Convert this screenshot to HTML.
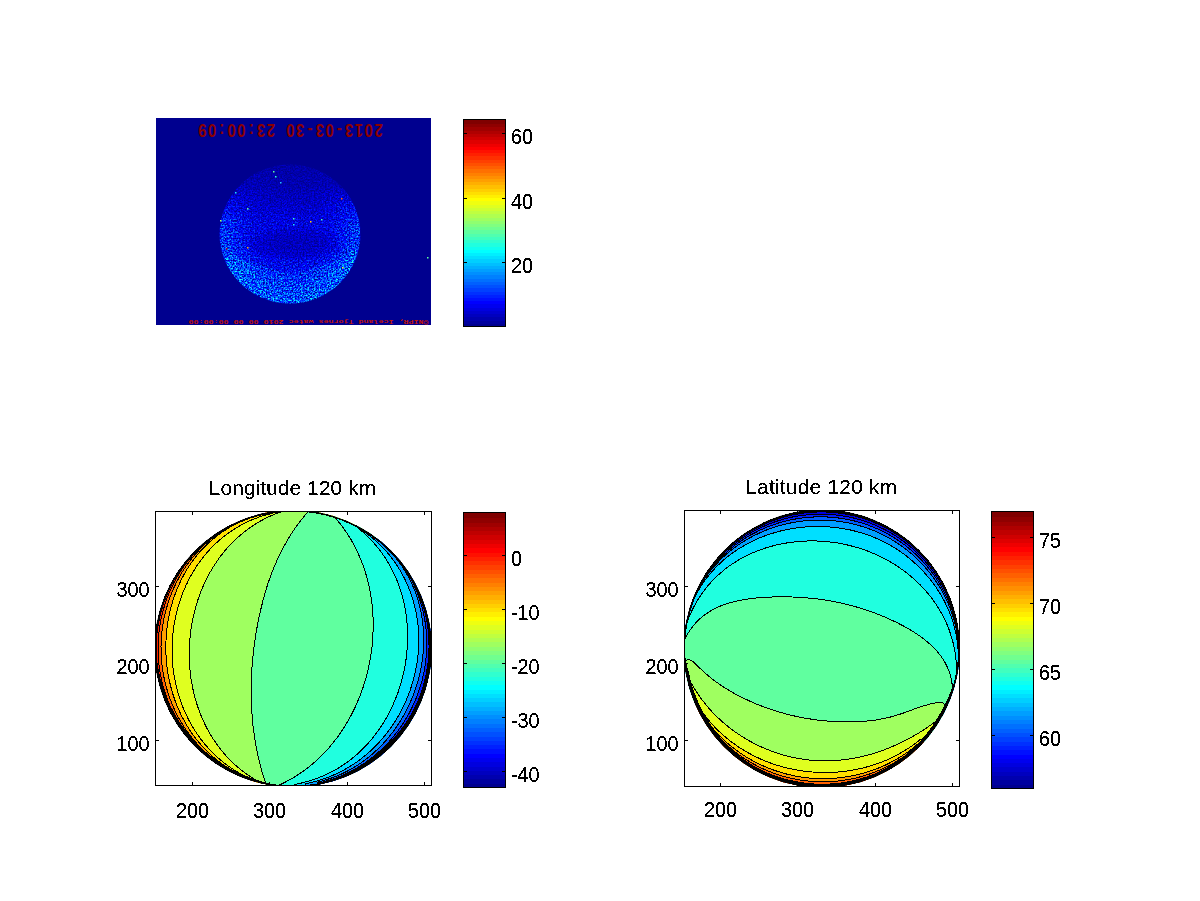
<!DOCTYPE html>
<html><head><meta charset="utf-8"><title>figure</title>
<style>
html,body{margin:0;padding:0;background:#fff;}
svg{display:block}
.t{font-family:"Liberation Sans",sans-serif;font-size:20.8px;fill:#000;}
.ln{fill:none;stroke:#000;stroke-width:1}
</style></head><body>
<svg width="1200" height="901" viewBox="0 0 1200 901">
<defs>
<clipPath id="c1"><ellipse cx="293" cy="648.6" rx="138.6" ry="138.4" /></clipPath>
<clipPath id="r1"><rect x="156" y="512" width="275" height="273"/></clipPath>
<clipPath id="c2"><ellipse cx="821.7" cy="648.6" rx="138" ry="138.9" /></clipPath>
<clipPath id="r2"><rect x="685" y="511" width="274" height="275"/></clipPath>
<clipPath id="cimg"><ellipse cx="290" cy="234" rx="70.5" ry="69.5"/></clipPath>
<linearGradient id="vgrad" x1="0" y1="0" x2="0" y2="1">
<stop offset="0.04" stop-color="#000" stop-opacity="0.92"/><stop offset="0.17" stop-color="#000" stop-opacity="0.8"/><stop offset="0.30" stop-color="#000" stop-opacity="0.45"/><stop offset="0.40" stop-color="#000" stop-opacity="0.15"/><stop offset="0.5" stop-color="#000" stop-opacity="0"/>
<stop offset="0.7" stop-color="#fff" stop-opacity="0.012"/><stop offset="1" stop-color="#fff" stop-opacity="0.025"/>
</linearGradient>
<radialGradient id="rgrad" cx="50%" cy="50%" r="50%">
<stop offset="0.55" stop-color="#fff" stop-opacity="0"/><stop offset="1" stop-color="#fff" stop-opacity="0.075"/>
</radialGradient>
<radialGradient id="darkband" cx="50%" cy="50%" r="50%">
<stop offset="0" stop-color="#000" stop-opacity="0.6"/><stop offset="0.6" stop-color="#000" stop-opacity="0.45"/><stop offset="1" stop-color="#000" stop-opacity="0"/>
</radialGradient>
<linearGradient id="glow" x1="0" y1="0" x2="0" y2="1">
<stop offset="0" stop-color="#fff" stop-opacity="0.0"/><stop offset="0.4" stop-color="#fff" stop-opacity="0.04"/><stop offset="1" stop-color="#fff" stop-opacity="0.02"/>
</linearGradient>
<filter id="crisp" filterUnits="userSpaceOnUse" x="0" y="0" width="1200" height="901" color-interpolation-filters="sRGB">
<feComponentTransfer><feFuncA type="discrete" tableValues="0 0 1 1 1"/></feComponentTransfer>
</filter>
<filter id="jetmap" x="0" y="0" width="100%" height="100%" color-interpolation-filters="sRGB">
<feTurbulence type="fractalNoise" baseFrequency="0.63" numOctaves="2" seed="11" result="n0"/>
<feGaussianBlur in="n0" stdDeviation="0.45" result="n1"/>
<feColorMatrix in="n1" type="matrix" values="2.0 0 0 0 -0.5  2.0 0 0 0 -0.5  2.0 0 0 0 -0.5  0 0 0 0 1" result="n"/>
<feComposite in="SourceGraphic" in2="n" operator="arithmetic" k1="2.0" k2="0.0" k3="0.04" k4="-0.01" result="v"/>
<feComponentTransfer in="v">
<feFuncR type="table" tableValues="0.000 0.000 0.000 0.000 0.000 0.000 0.000 0.000 0.000 0.000 0.000 0.000 0.000 0.000 0.000 0.000 0.000 0.000 0.000 0.000 0.000 0.000 0.000 0.000 0.062 0.125 0.188 0.250 0.312 0.375 0.438 0.500 0.562 0.625 0.688 0.750 0.812 0.875 0.938 1.000 1.000 1.000 1.000 1.000 1.000 1.000 1.000 1.000 1.000 1.000 1.000 1.000 1.000 1.000 1.000 1.000 0.938 0.875 0.812 0.750 0.688 0.625 0.562 0.500"/>
<feFuncG type="table" tableValues="0.000 0.000 0.000 0.000 0.000 0.000 0.000 0.000 0.062 0.125 0.188 0.250 0.312 0.375 0.438 0.500 0.562 0.625 0.688 0.750 0.812 0.875 0.938 1.000 1.000 1.000 1.000 1.000 1.000 1.000 1.000 1.000 1.000 1.000 1.000 1.000 1.000 1.000 1.000 1.000 0.938 0.875 0.812 0.750 0.688 0.625 0.562 0.500 0.438 0.375 0.312 0.250 0.188 0.125 0.062 0.000 0.000 0.000 0.000 0.000 0.000 0.000 0.000 0.000"/>
<feFuncB type="table" tableValues="0.562 0.625 0.688 0.750 0.812 0.875 0.938 1.000 1.000 1.000 1.000 1.000 1.000 1.000 1.000 1.000 1.000 1.000 1.000 1.000 1.000 1.000 1.000 1.000 0.938 0.875 0.812 0.750 0.688 0.625 0.562 0.500 0.438 0.375 0.312 0.250 0.188 0.125 0.062 0.000 0.000 0.000 0.000 0.000 0.000 0.000 0.000 0.000 0.000 0.000 0.000 0.000 0.000 0.000 0.000 0.000 0.000 0.000 0.000 0.000 0.000 0.000 0.000 0.000"/>
<feFuncA type="linear" slope="0" intercept="1"/>
</feComponentTransfer>
</filter>
</defs>
<rect width="1200" height="901" fill="#fff"/>
<!-- top image -->
<rect x="156" y="118" width="275" height="207" fill="#00008F"/>
<g clip-path="url(#cimg)"><g filter="url(#jetmap)">
<rect x="215" y="160" width="150" height="150" fill="#141414"/>
<circle cx="290" cy="234" r="70" fill="url(#rgrad)"/>
<rect x="215" y="160" width="150" height="150" fill="url(#vgrad)"/>
<ellipse cx="294" cy="244" rx="52" ry="19" fill="url(#darkband)"/>
<path d="M218,236 A72,72 0 0 0 362,236 Q348,266 290,272 Q232,266 218,236Z" fill="url(#glow)"/>
</g></g>
<rect x="273" y="171" width="1.5" height="1.5" fill="#5CFFA0"/>
<rect x="275" y="176" width="1.5" height="1.5" fill="#30FFD0"/>
<rect x="235" y="192" width="1.5" height="1.5" fill="#20E0FF"/>
<rect x="247" y="208" width="1.5" height="1.5" fill="#60FFA0"/>
<rect x="341" y="198" width="1.5" height="1.5" fill="#FF6000"/>
<rect x="293" y="218" width="1.5" height="1.5" fill="#40FFC0"/>
<rect x="310" y="221" width="1.5" height="1.5" fill="#FFD000"/>
<rect x="321" y="219" width="1.5" height="1.5" fill="#40FFC0"/>
<rect x="293" y="224" width="1.5" height="1.5" fill="#20E0FF"/>
<rect x="226" y="248" width="1.5" height="1.5" fill="#D00000"/>
<rect x="247" y="247" width="1.5" height="1.5" fill="#FFB000"/>
<rect x="342" y="267" width="1.5" height="1.5" fill="#E0FF20"/>
<rect x="220" y="220" width="1.5" height="1.5" fill="#A0FF60"/>
<rect x="427" y="257" width="1.5" height="1.5" fill="#60FFA0"/>
<rect x="280" y="182" width="1.5" height="1.5" fill="#20C0FF"/>
<g transform="translate(290.4,130.4) rotate(180)" font-family="Liberation Sans, sans-serif" font-weight="bold" font-size="18.6" fill="#8B0000" text-anchor="middle">
<text transform="translate(-88.11,6.8) scale(0.80,1)">2</text>
<text transform="translate(-78.32,6.8) scale(0.80,1)">0</text>
<text transform="translate(-68.53,6.8) scale(0.80,1)">1</text>
<text transform="translate(-58.74,6.8) scale(0.80,1)">3</text>
<text transform="translate(-48.95,6.8) scale(0.80,1)">-</text>
<text transform="translate(-39.16,6.8) scale(0.80,1)">0</text>
<text transform="translate(-29.37,6.8) scale(0.80,1)">3</text>
<text transform="translate(-19.58,6.8) scale(0.80,1)">-</text>
<text transform="translate(-9.79,6.8) scale(0.80,1)">3</text>
<text transform="translate(0.00,6.8) scale(0.80,1)">0</text>
<text transform="translate(19.58,6.8) scale(0.80,1)">2</text>
<text transform="translate(29.37,6.8) scale(0.80,1)">3</text>
<text transform="translate(39.16,6.8) scale(0.80,1)">:</text>
<text transform="translate(48.95,6.8) scale(0.80,1)">0</text>
<text transform="translate(58.74,6.8) scale(0.80,1)">0</text>
<text transform="translate(68.53,6.8) scale(0.80,1)">:</text>
<text transform="translate(78.32,6.8) scale(0.80,1)">0</text>
<text transform="translate(88.11,6.8) scale(0.80,1)">9</text>
</g>
<text transform="translate(308.5,321.3) rotate(180)" text-anchor="middle" dominant-baseline="central" font-family="Liberation Mono, monospace" font-size="6" font-weight="bold" fill="#C81800" textLength="240" lengthAdjust="spacingAndGlyphs">©NIPR, Iceland Tjornes watec 2010 00 00 00:00:00</text>
<!-- colorbar 1 -->
<g shape-rendering="crispEdges">
<rect x="464" y="323" width="41" height="3" fill="#00008F"/>
<rect x="464" y="320" width="41" height="4" fill="#00009F"/>
<rect x="464" y="316" width="41" height="5" fill="#0000AF"/>
<rect x="464" y="313" width="41" height="4" fill="#0000BF"/>
<rect x="464" y="310" width="41" height="4" fill="#0000CF"/>
<rect x="464" y="307" width="41" height="4" fill="#0000DF"/>
<rect x="464" y="303" width="41" height="5" fill="#0000EF"/>
<rect x="464" y="300" width="41" height="4" fill="#0000FF"/>
<rect x="464" y="297" width="41" height="4" fill="#0010FF"/>
<rect x="464" y="294" width="41" height="4" fill="#0020FF"/>
<rect x="464" y="291" width="41" height="4" fill="#0030FF"/>
<rect x="464" y="287" width="41" height="5" fill="#0040FF"/>
<rect x="464" y="284" width="41" height="4" fill="#0050FF"/>
<rect x="464" y="281" width="41" height="4" fill="#0060FF"/>
<rect x="464" y="278" width="41" height="4" fill="#0070FF"/>
<rect x="464" y="274" width="41" height="5" fill="#0080FF"/>
<rect x="464" y="271" width="41" height="4" fill="#008FFF"/>
<rect x="464" y="268" width="41" height="4" fill="#009FFF"/>
<rect x="464" y="265" width="41" height="4" fill="#00AFFF"/>
<rect x="464" y="262" width="41" height="4" fill="#00BFFF"/>
<rect x="464" y="258" width="41" height="5" fill="#00CFFF"/>
<rect x="464" y="255" width="41" height="4" fill="#00DFFF"/>
<rect x="464" y="252" width="41" height="4" fill="#00EFFF"/>
<rect x="464" y="249" width="41" height="4" fill="#00FFFF"/>
<rect x="464" y="246" width="41" height="4" fill="#10FFEF"/>
<rect x="464" y="242" width="41" height="5" fill="#20FFDF"/>
<rect x="464" y="239" width="41" height="4" fill="#30FFCF"/>
<rect x="464" y="236" width="41" height="4" fill="#40FFBF"/>
<rect x="464" y="233" width="41" height="4" fill="#50FFAF"/>
<rect x="464" y="229" width="41" height="5" fill="#60FF9F"/>
<rect x="464" y="226" width="41" height="4" fill="#70FF8F"/>
<rect x="464" y="223" width="41" height="4" fill="#80FF80"/>
<rect x="464" y="220" width="41" height="4" fill="#8FFF70"/>
<rect x="464" y="217" width="41" height="4" fill="#9FFF60"/>
<rect x="464" y="213" width="41" height="5" fill="#AFFF50"/>
<rect x="464" y="210" width="41" height="4" fill="#BFFF40"/>
<rect x="464" y="207" width="41" height="4" fill="#CFFF30"/>
<rect x="464" y="204" width="41" height="4" fill="#DFFF20"/>
<rect x="464" y="200" width="41" height="5" fill="#EFFF10"/>
<rect x="464" y="197" width="41" height="4" fill="#FFFF00"/>
<rect x="464" y="194" width="41" height="4" fill="#FFEF00"/>
<rect x="464" y="191" width="41" height="4" fill="#FFDF00"/>
<rect x="464" y="188" width="41" height="4" fill="#FFCF00"/>
<rect x="464" y="184" width="41" height="5" fill="#FFBF00"/>
<rect x="464" y="181" width="41" height="4" fill="#FFAF00"/>
<rect x="464" y="178" width="41" height="4" fill="#FF9F00"/>
<rect x="464" y="175" width="41" height="4" fill="#FF8F00"/>
<rect x="464" y="172" width="41" height="4" fill="#FF8000"/>
<rect x="464" y="168" width="41" height="5" fill="#FF7000"/>
<rect x="464" y="165" width="41" height="4" fill="#FF6000"/>
<rect x="464" y="162" width="41" height="4" fill="#FF5000"/>
<rect x="464" y="159" width="41" height="4" fill="#FF4000"/>
<rect x="464" y="155" width="41" height="5" fill="#FF3000"/>
<rect x="464" y="152" width="41" height="4" fill="#FF2000"/>
<rect x="464" y="149" width="41" height="4" fill="#FF1000"/>
<rect x="464" y="146" width="41" height="4" fill="#FF0000"/>
<rect x="464" y="143" width="41" height="4" fill="#EF0000"/>
<rect x="464" y="139" width="41" height="5" fill="#DF0000"/>
<rect x="464" y="136" width="41" height="4" fill="#CF0000"/>
<rect x="464" y="133" width="41" height="4" fill="#BF0000"/>
<rect x="464" y="130" width="41" height="4" fill="#AF0000"/>
<rect x="464" y="126" width="41" height="5" fill="#9F0000"/>
<rect x="464" y="123" width="41" height="4" fill="#8F0000"/>
<rect x="464" y="120" width="41" height="4" fill="#800000"/>
<rect x="463.5" y="119.5" width="42" height="207" fill="none" stroke="#000" stroke-width="1"/>
<rect x="464" y="133" width="3" height="1" fill="#000"/>
<rect x="502" y="133" width="3" height="1" fill="#000"/>
<rect x="464" y="198" width="3" height="1" fill="#000"/>
<rect x="502" y="198" width="3" height="1" fill="#000"/>
<rect x="464" y="262" width="3" height="1" fill="#000"/>
<rect x="502" y="262" width="3" height="1" fill="#000"/>
</g>
<g filter="url(#crisp)"><text transform="translate(511,144) scale(0.95,1.05)" class="t" text-anchor="start">60</text></g>
<g filter="url(#crisp)"><text transform="translate(511,209) scale(0.95,1.05)" class="t" text-anchor="start">40</text></g>
<g filter="url(#crisp)"><text transform="translate(511,273) scale(0.95,1.05)" class="t" text-anchor="start">20</text></g>
<!-- longitude plot -->
<g clip-path="url(#r1)"><g clip-path="url(#c1)" shape-rendering="crispEdges">
<ellipse cx="293" cy="648.6" rx="138.6" ry="138.4" fill="#9F0000"/>
<path d="M262.2,508.0 L263.4,513.4 L260.0,514.2 L256.5,515.1 L253.2,516.1 L249.9,517.1 L246.7,518.2 L243.5,519.4 L240.4,520.7 L237.3,522.0 L234.3,523.3 L231.3,524.8 L228.4,526.3 L225.5,527.8 L222.7,529.5 L219.9,531.1 L217.2,532.9 L214.6,534.7 L211.9,536.5 L209.4,538.5 L206.8,540.4 L204.4,542.5 L202.0,544.5 L199.6,546.7 L197.3,548.9 L195.0,551.1 L192.8,553.4 L190.6,555.8 L188.5,558.2 L186.4,560.7 L184.4,563.2 L182.5,565.7 L180.6,568.4 L178.7,571.0 L176.9,573.7 L175.2,576.5 L173.5,579.3 L171.9,582.2 L170.4,585.1 L168.9,588.1 L167.5,591.1 L166.2,594.1 L164.9,597.2 L163.7,600.3 L162.6,603.5 L161.5,606.7 L160.6,609.9 L159.7,613.2 L158.8,616.4 L158.1,619.8 L157.4,623.1 L156.8,626.5 L156.3,629.9 L155.9,633.2 L155.6,636.7 L155.3,640.1 L155.2,643.5 L155.1,647.0 L155.1,650.4 L155.2,653.8 L155.4,657.3 L155.6,660.7 L156.0,664.1 L156.4,667.5 L156.9,670.9 L157.5,674.3 L158.2,677.7 L158.9,681.0 L159.8,684.3 L160.7,687.6 L161.7,690.9 L162.8,694.1 L163.9,697.3 L165.1,700.4 L166.4,703.6 L167.8,706.6 L169.2,709.7 L170.8,712.7 L172.3,715.6 L174.0,718.5 L175.7,721.4 L177.5,724.2 L179.3,726.9 L181.2,729.6 L183.2,732.3 L185.2,734.9 L187.2,737.4 L189.4,739.9 L191.5,742.4 L193.8,744.7 L196.1,747.1 L198.4,749.3 L200.8,751.5 L203.2,753.7 L205.7,755.8 L208.2,757.8 L210.8,759.8 L213.5,761.7 L216.1,763.5 L218.8,765.3 L221.6,767.0 L224.4,768.7 L227.3,770.3 L230.2,771.8 L233.1,773.3 L236.1,774.7 L239.2,776.0 L242.2,777.3 L245.4,778.5 L248.5,779.6 L251.8,780.7 L250.1,786.0 L250.1,786.0 L257.5,788.1 L264.9,789.8 L272.4,791.1 L280.0,792.0 L287.7,792.4 L295.3,792.5 L302.9,792.2 L310.5,791.5 L318.1,790.3 L325.6,788.8 L333.0,786.9 L340.3,784.6 L347.4,781.9 L354.4,778.8 L361.2,775.4 L367.9,771.6 L374.3,767.5 L380.5,763.0 L386.4,758.2 L392.1,753.1 L397.5,747.7 L402.7,742.0 L407.5,736.1 L411.9,729.9 L416.1,723.5 L419.9,716.9 L423.3,710.1 L426.4,703.1 L429.1,695.9 L431.4,688.7 L433.4,681.3 L434.9,673.8 L436.1,666.3 L436.8,658.7 L437.1,651.0 L437.1,643.4 L436.6,635.8 L435.7,628.2 L434.4,620.7 L432.7,613.2 L430.7,605.9 L428.2,598.7 L425.4,591.6 L422.1,584.7 L418.6,577.9 L414.6,571.4 L410.4,565.0 L405.8,559.0 L400.9,553.1 L395.6,547.5 L390.1,542.2 L384.3,537.3 L378.3,532.6 L372.0,528.2 L365.5,524.2 L358.8,520.5 L351.9,517.2 L344.9,514.3 L337.7,511.8 L330.3,509.6 L322.9,507.8 L315.4,506.4 L307.8,505.4 L300.2,504.8 L292.6,504.7 L284.9,504.9 L277.3,505.5 L269.7,506.6 L262.2,508.0Z" fill="#DF0000"/>
<path d="M262.2,508.0 L263.4,513.5 L260.0,514.3 L256.6,515.2 L253.2,516.2 L249.9,517.2 L246.7,518.3 L243.5,519.5 L240.4,520.8 L237.3,522.1 L234.3,523.5 L231.4,524.9 L228.5,526.4 L225.6,528.0 L222.8,529.6 L220.1,531.3 L217.3,533.1 L214.7,534.9 L212.1,536.8 L209.5,538.7 L207.0,540.7 L204.6,542.7 L202.2,544.8 L199.9,547.0 L197.6,549.2 L195.3,551.4 L193.1,553.8 L191.0,556.1 L188.9,558.5 L186.9,561.0 L184.9,563.5 L182.9,566.1 L181.1,568.7 L179.3,571.4 L177.5,574.1 L175.8,576.9 L174.2,579.7 L172.6,582.6 L171.1,585.5 L169.7,588.4 L168.3,591.4 L167.0,594.5 L165.8,597.5 L164.6,600.6 L163.5,603.8 L162.5,607.0 L161.5,610.2 L160.7,613.4 L159.9,616.7 L159.1,620.0 L158.5,623.3 L157.9,626.6 L157.4,630.0 L157.0,633.4 L156.7,636.8 L156.5,640.2 L156.3,643.6 L156.2,647.0 L156.2,650.4 L156.3,653.8 L156.5,657.2 L156.8,660.6 L157.1,664.0 L157.5,667.4 L158.0,670.8 L158.6,674.1 L159.3,677.4 L160.0,680.8 L160.8,684.0 L161.7,687.3 L162.7,690.5 L163.7,693.8 L164.9,696.9 L166.1,700.1 L167.3,703.2 L168.7,706.2 L170.1,709.3 L171.6,712.2 L173.1,715.2 L174.7,718.1 L176.4,720.9 L178.1,723.7 L179.9,726.5 L181.8,729.2 L183.7,731.8 L185.7,734.5 L187.8,737.0 L189.8,739.5 L192.0,741.9 L194.2,744.3 L196.5,746.7 L198.8,748.9 L201.1,751.2 L203.5,753.3 L206.0,755.4 L208.5,757.5 L211.1,759.4 L213.7,761.4 L216.3,763.2 L219.0,765.0 L221.8,766.8 L224.6,768.4 L227.4,770.1 L230.3,771.6 L233.2,773.1 L236.2,774.5 L239.2,775.9 L242.3,777.1 L245.4,778.4 L248.6,779.5 L251.8,780.6 L250.1,786.0 L250.1,786.0 L257.5,788.1 L264.9,789.8 L272.4,791.1 L280.0,792.0 L287.7,792.4 L295.3,792.5 L302.9,792.2 L310.5,791.5 L318.1,790.3 L325.6,788.8 L333.0,786.9 L340.3,784.6 L347.4,781.9 L354.4,778.8 L361.2,775.4 L367.9,771.6 L374.3,767.5 L380.5,763.0 L386.4,758.2 L392.1,753.1 L397.5,747.7 L402.7,742.0 L407.5,736.1 L411.9,729.9 L416.1,723.5 L419.9,716.9 L423.3,710.1 L426.4,703.1 L429.1,695.9 L431.4,688.7 L433.4,681.3 L434.9,673.8 L436.1,666.3 L436.8,658.7 L437.1,651.0 L437.1,643.4 L436.6,635.8 L435.7,628.2 L434.4,620.7 L432.7,613.2 L430.7,605.9 L428.2,598.7 L425.4,591.6 L422.1,584.7 L418.6,577.9 L414.6,571.4 L410.4,565.0 L405.8,559.0 L400.9,553.1 L395.6,547.5 L390.1,542.2 L384.3,537.3 L378.3,532.6 L372.0,528.2 L365.5,524.2 L358.8,520.5 L351.9,517.2 L344.9,514.3 L337.7,511.8 L330.3,509.6 L322.9,507.8 L315.4,506.4 L307.8,505.4 L300.2,504.8 L292.6,504.7 L284.9,504.9 L277.3,505.5 L269.7,506.6 L262.2,508.0Z" fill="#FF2000"/>
<path d="M262.2,508.0 L263.5,513.6 L260.0,514.5 L256.6,515.4 L253.3,516.3 L250.0,517.4 L246.8,518.5 L243.6,519.7 L240.5,521.0 L237.4,522.3 L234.4,523.7 L231.5,525.1 L228.6,526.7 L225.8,528.3 L223.0,529.9 L220.2,531.6 L217.6,533.4 L214.9,535.2 L212.4,537.1 L209.8,539.1 L207.4,541.1 L205.0,543.2 L202.6,545.3 L200.3,547.4 L198.0,549.7 L195.8,551.9 L193.7,554.3 L191.6,556.7 L189.5,559.1 L187.5,561.6 L185.6,564.1 L183.7,566.7 L181.9,569.3 L180.2,572.0 L178.5,574.7 L176.8,577.5 L175.3,580.3 L173.7,583.2 L172.3,586.1 L170.9,589.0 L169.6,592.0 L168.3,595.0 L167.1,598.1 L166.0,601.2 L165.0,604.3 L164.0,607.5 L163.1,610.6 L162.3,613.8 L161.5,617.1 L160.8,620.3 L160.2,623.6 L159.7,626.9 L159.2,630.2 L158.8,633.6 L158.5,636.9 L158.3,640.3 L158.1,643.6 L158.1,647.0 L158.1,650.4 L158.2,653.7 L158.3,657.1 L158.6,660.4 L158.9,663.8 L159.3,667.1 L159.8,670.5 L160.3,673.8 L161.0,677.1 L161.7,680.3 L162.5,683.6 L163.3,686.8 L164.3,690.0 L165.3,693.2 L166.4,696.4 L167.5,699.5 L168.8,702.5 L170.0,705.6 L171.4,708.6 L172.8,711.6 L174.3,714.5 L175.9,717.4 L177.5,720.2 L179.2,723.0 L181.0,725.8 L182.8,728.5 L184.7,731.1 L186.6,733.8 L188.6,736.3 L190.6,738.8 L192.7,741.3 L194.9,743.7 L197.1,746.0 L199.3,748.3 L201.7,750.6 L204.0,752.7 L206.4,754.9 L208.9,756.9 L211.4,758.9 L214.0,760.9 L216.6,762.8 L219.3,764.6 L222.0,766.4 L224.8,768.1 L227.6,769.7 L230.4,771.3 L233.4,772.8 L236.3,774.2 L239.3,775.6 L242.4,776.9 L245.5,778.2 L248.6,779.3 L251.9,780.4 L250.1,786.0 L250.1,786.0 L257.5,788.1 L264.9,789.8 L272.4,791.1 L280.0,792.0 L287.7,792.4 L295.3,792.5 L302.9,792.2 L310.5,791.5 L318.1,790.3 L325.6,788.8 L333.0,786.9 L340.3,784.6 L347.4,781.9 L354.4,778.8 L361.2,775.4 L367.9,771.6 L374.3,767.5 L380.5,763.0 L386.4,758.2 L392.1,753.1 L397.5,747.7 L402.7,742.0 L407.5,736.1 L411.9,729.9 L416.1,723.5 L419.9,716.9 L423.3,710.1 L426.4,703.1 L429.1,695.9 L431.4,688.7 L433.4,681.3 L434.9,673.8 L436.1,666.3 L436.8,658.7 L437.1,651.0 L437.1,643.4 L436.6,635.8 L435.7,628.2 L434.4,620.7 L432.7,613.2 L430.7,605.9 L428.2,598.7 L425.4,591.6 L422.1,584.7 L418.6,577.9 L414.6,571.4 L410.4,565.0 L405.8,559.0 L400.9,553.1 L395.6,547.5 L390.1,542.2 L384.3,537.3 L378.3,532.6 L372.0,528.2 L365.5,524.2 L358.8,520.5 L351.9,517.2 L344.9,514.3 L337.7,511.8 L330.3,509.6 L322.9,507.8 L315.4,506.4 L307.8,505.4 L300.2,504.8 L292.6,504.7 L284.9,504.9 L277.3,505.5 L269.7,506.6 L262.2,508.0Z" fill="#FF6000"/>
<path d="M262.2,508.0 L263.5,513.9 L260.1,514.7 L256.7,515.6 L253.3,516.6 L250.1,517.6 L246.9,518.8 L243.7,520.0 L240.6,521.3 L237.6,522.6 L234.6,524.0 L231.7,525.5 L228.8,527.1 L226.0,528.7 L223.2,530.4 L220.5,532.1 L217.9,533.9 L215.3,535.8 L212.8,537.7 L210.3,539.7 L207.9,541.7 L205.5,543.8 L203.2,546.0 L201.0,548.2 L198.8,550.5 L196.6,552.8 L194.6,555.1 L192.5,557.5 L190.6,560.0 L188.7,562.5 L186.8,565.1 L185.0,567.7 L183.3,570.3 L181.6,573.0 L180.0,575.7 L178.5,578.5 L177.0,581.3 L175.6,584.2 L174.2,587.1 L172.9,590.0 L171.7,593.0 L170.5,596.0 L169.4,599.0 L168.3,602.0 L167.4,605.1 L166.5,608.2 L165.6,611.4 L164.8,614.5 L164.1,617.7 L163.5,620.9 L163.0,624.1 L162.5,627.4 L162.0,630.6 L161.7,633.9 L161.4,637.2 L161.2,640.4 L161.1,643.7 L161.0,647.0 L161.1,650.3 L161.1,653.6 L161.3,656.9 L161.5,660.2 L161.8,663.5 L162.2,666.7 L162.7,670.0 L163.2,673.2 L163.8,676.5 L164.5,679.7 L165.2,682.9 L166.0,686.0 L166.9,689.2 L167.8,692.3 L168.8,695.4 L169.9,698.5 L171.1,701.5 L172.3,704.6 L173.6,707.5 L174.9,710.5 L176.3,713.4 L177.8,716.3 L179.4,719.1 L181.0,721.9 L182.6,724.6 L184.4,727.3 L186.1,730.0 L188.0,732.6 L189.9,735.2 L191.9,737.7 L193.9,740.2 L196.0,742.6 L198.1,745.0 L200.3,747.3 L202.5,749.6 L204.8,751.8 L207.2,754.0 L209.6,756.1 L212.0,758.1 L214.5,760.1 L217.1,762.0 L219.7,763.9 L222.4,765.7 L225.1,767.5 L227.9,769.1 L230.7,770.8 L233.6,772.3 L236.5,773.8 L239.5,775.2 L242.5,776.6 L245.6,777.8 L248.7,779.0 L251.9,780.2 L250.1,786.0 L250.1,786.0 L257.5,788.1 L264.9,789.8 L272.4,791.1 L280.0,792.0 L287.7,792.4 L295.3,792.5 L302.9,792.2 L310.5,791.5 L318.1,790.3 L325.6,788.8 L333.0,786.9 L340.3,784.6 L347.4,781.9 L354.4,778.8 L361.2,775.4 L367.9,771.6 L374.3,767.5 L380.5,763.0 L386.4,758.2 L392.1,753.1 L397.5,747.7 L402.7,742.0 L407.5,736.1 L411.9,729.9 L416.1,723.5 L419.9,716.9 L423.3,710.1 L426.4,703.1 L429.1,695.9 L431.4,688.7 L433.4,681.3 L434.9,673.8 L436.1,666.3 L436.8,658.7 L437.1,651.0 L437.1,643.4 L436.6,635.8 L435.7,628.2 L434.4,620.7 L432.7,613.2 L430.7,605.9 L428.2,598.7 L425.4,591.6 L422.1,584.7 L418.6,577.9 L414.6,571.4 L410.4,565.0 L405.8,559.0 L400.9,553.1 L395.6,547.5 L390.1,542.2 L384.3,537.3 L378.3,532.6 L372.0,528.2 L365.5,524.2 L358.8,520.5 L351.9,517.2 L344.9,514.3 L337.7,511.8 L330.3,509.6 L322.9,507.8 L315.4,506.4 L307.8,505.4 L300.2,504.8 L292.6,504.7 L284.9,504.9 L277.3,505.5 L269.7,506.6 L262.2,508.0Z" fill="#FF9F00"/>
<path d="M262.2,508.0 L263.6,514.2 L260.1,515.0 L256.8,516.0 L253.5,517.0 L250.2,518.0 L247.0,519.2 L243.9,520.4 L240.8,521.7 L237.8,523.1 L234.9,524.6 L232.0,526.1 L229.1,527.7 L226.4,529.4 L223.7,531.1 L221.0,532.9 L218.5,534.8 L215.9,536.7 L213.5,538.7 L211.1,540.7 L208.7,542.8 L206.5,545.0 L204.3,547.2 L202.1,549.4 L200.0,551.7 L198.0,554.1 L196.0,556.5 L194.1,559.0 L192.3,561.5 L190.5,564.0 L188.8,566.6 L187.1,569.2 L185.5,571.9 L184.0,574.6 L182.5,577.4 L181.1,580.1 L179.8,582.9 L178.5,585.8 L177.2,588.7 L176.1,591.6 L175.0,594.5 L173.9,597.4 L173.0,600.4 L172.1,603.4 L171.2,606.5 L170.4,609.5 L169.7,612.6 L169.0,615.7 L168.4,618.7 L167.9,621.9 L167.4,625.0 L167.0,628.1 L166.7,631.3 L166.4,634.4 L166.1,637.6 L166.0,640.7 L165.9,643.9 L165.8,647.1 L165.9,650.3 L165.9,653.4 L166.1,656.6 L166.3,659.8 L166.6,662.9 L166.9,666.1 L167.3,669.2 L167.8,672.4 L168.3,675.5 L168.9,678.6 L169.6,681.7 L170.3,684.8 L171.1,687.8 L171.9,690.9 L172.8,693.9 L173.8,696.9 L174.8,699.9 L175.9,702.9 L177.1,705.8 L178.3,708.7 L179.6,711.6 L180.9,714.4 L182.3,717.3 L183.8,720.0 L185.3,722.8 L186.9,725.5 L188.6,728.2 L190.3,730.8 L192.0,733.4 L193.9,735.9 L195.8,738.5 L197.7,740.9 L199.7,743.3 L201.8,745.7 L203.9,748.0 L206.1,750.3 L208.3,752.5 L210.7,754.7 L213.0,756.8 L215.4,758.9 L217.9,760.8 L220.4,762.8 L223.0,764.7 L225.7,766.5 L228.4,768.2 L231.2,769.9 L234.0,771.5 L236.8,773.1 L239.8,774.5 L242.8,776.0 L245.8,777.3 L248.9,778.6 L252.1,779.7 L250.1,786.0 L250.1,786.0 L257.5,788.1 L264.9,789.8 L272.4,791.1 L280.0,792.0 L287.7,792.4 L295.3,792.5 L302.9,792.2 L310.5,791.5 L318.1,790.3 L325.6,788.8 L333.0,786.9 L340.3,784.6 L347.4,781.9 L354.4,778.8 L361.2,775.4 L367.9,771.6 L374.3,767.5 L380.5,763.0 L386.4,758.2 L392.1,753.1 L397.5,747.7 L402.7,742.0 L407.5,736.1 L411.9,729.9 L416.1,723.5 L419.9,716.9 L423.3,710.1 L426.4,703.1 L429.1,695.9 L431.4,688.7 L433.4,681.3 L434.9,673.8 L436.1,666.3 L436.8,658.7 L437.1,651.0 L437.1,643.4 L436.6,635.8 L435.7,628.2 L434.4,620.7 L432.7,613.2 L430.7,605.9 L428.2,598.7 L425.4,591.6 L422.1,584.7 L418.6,577.9 L414.6,571.4 L410.4,565.0 L405.8,559.0 L400.9,553.1 L395.6,547.5 L390.1,542.2 L384.3,537.3 L378.3,532.6 L372.0,528.2 L365.5,524.2 L358.8,520.5 L351.9,517.2 L344.9,514.3 L337.7,511.8 L330.3,509.6 L322.9,507.8 L315.4,506.4 L307.8,505.4 L300.2,504.8 L292.6,504.7 L284.9,504.9 L277.3,505.5 L269.7,506.6 L262.2,508.0Z" fill="#FFDF00"/>
<path d="M273.8,505.9 L274.7,512.6 L271.3,513.4 L267.9,514.3 L264.5,515.3 L261.3,516.3 L258.0,517.5 L254.9,518.7 L251.8,519.9 L248.7,521.3 L245.7,522.7 L242.8,524.2 L239.9,525.8 L237.1,527.4 L234.3,529.1 L231.6,530.9 L229.0,532.7 L226.4,534.6 L223.8,536.5 L221.4,538.5 L219.0,540.6 L216.6,542.7 L214.3,544.9 L212.1,547.1 L209.9,549.4 L207.8,551.8 L205.7,554.1 L203.7,556.6 L201.8,559.1 L199.9,561.6 L198.1,564.1 L196.3,566.7 L194.6,569.4 L193.0,572.1 L191.4,574.8 L189.9,577.6 L188.5,580.4 L187.1,583.2 L185.7,586.0 L184.5,588.9 L183.2,591.8 L182.1,594.8 L181.0,597.8 L180.0,600.8 L179.0,603.8 L178.1,606.8 L177.3,609.9 L176.5,613.0 L175.8,616.1 L175.1,619.2 L174.5,622.3 L174.0,625.4 L173.5,628.6 L173.1,631.7 L172.8,634.9 L172.5,638.1 L172.3,641.3 L172.2,644.4 L172.1,647.6 L172.1,650.8 L172.1,654.0 L172.2,657.2 L172.4,660.4 L172.6,663.6 L172.9,666.7 L173.3,669.9 L173.7,673.1 L174.2,676.2 L174.8,679.3 L175.4,682.5 L176.1,685.6 L176.8,688.7 L177.7,691.7 L178.5,694.8 L179.5,697.8 L180.5,700.8 L181.6,703.8 L182.7,706.8 L184.0,709.7 L185.2,712.6 L186.6,715.5 L188.0,718.4 L189.4,721.2 L191.0,724.0 L192.5,726.7 L194.2,729.4 L195.9,732.1 L197.7,734.7 L199.5,737.3 L201.4,739.9 L203.4,742.4 L205.4,744.8 L207.5,747.2 L209.6,749.6 L211.8,751.9 L214.1,754.1 L216.4,756.3 L218.8,758.5 L221.2,760.6 L223.7,762.6 L226.3,764.6 L228.9,766.5 L231.6,768.3 L234.3,770.1 L237.1,771.8 L239.9,773.4 L242.8,775.0 L245.8,776.5 L248.8,778.0 L251.8,779.3 L255.0,780.6 L253.1,786.9 L253.1,786.9 L260.3,788.8 L267.6,790.3 L274.9,791.4 L282.3,792.1 L289.8,792.5 L297.2,792.5 L304.6,792.1 L312.0,791.3 L319.3,790.1 L326.6,788.6 L333.8,786.7 L340.8,784.4 L347.8,781.7 L354.6,778.8 L361.2,775.4 L367.6,771.7 L373.9,767.7 L379.9,763.4 L385.7,758.8 L391.3,753.9 L396.6,748.7 L401.6,743.2 L406.4,737.5 L410.8,731.6 L414.9,725.4 L418.7,719.0 L422.2,712.5 L425.3,705.7 L428.1,698.9 L430.5,691.8 L432.5,684.7 L434.2,677.5 L435.5,670.2 L436.4,662.8 L437.0,655.4 L437.1,648.0 L436.9,640.6 L436.3,633.2 L435.3,625.9 L434.0,618.6 L432.2,611.4 L430.1,604.3 L427.7,597.3 L424.8,590.4 L421.7,583.7 L418.1,577.2 L414.3,570.8 L410.1,564.7 L405.6,558.8 L400.9,553.1 L395.8,547.7 L390.5,542.5 L384.9,537.7 L379.0,533.1 L372.9,528.8 L366.7,524.9 L360.2,521.2 L353.5,518.0 L346.7,515.0 L339.7,512.4 L332.7,510.2 L325.5,508.4 L318.2,506.9 L310.8,505.8 L303.5,505.0 L296.0,504.7 L288.6,504.7 L281.2,505.1 L273.8,505.9Z" fill="#DFFF20"/>
<path d="M280.9,505.2 L281.5,511.7 L278.4,512.8 L275.4,513.9 L272.4,515.2 L269.5,516.5 L266.6,517.8 L263.8,519.3 L261.1,520.7 L258.4,522.3 L255.7,523.9 L253.1,525.6 L250.5,527.3 L248.0,529.1 L245.5,530.9 L243.1,532.8 L240.8,534.8 L238.5,536.8 L236.2,538.8 L234.0,540.9 L231.9,543.1 L229.8,545.3 L227.7,547.5 L225.7,549.8 L223.8,552.1 L221.9,554.5 L220.1,556.9 L218.3,559.3 L216.6,561.8 L214.9,564.4 L213.2,566.9 L211.7,569.5 L210.1,572.2 L208.7,574.8 L207.3,577.5 L205.9,580.2 L204.6,583.0 L203.3,585.8 L202.1,588.6 L201.0,591.4 L199.9,594.3 L198.8,597.2 L197.8,600.1 L196.9,603.0 L196.0,606.0 L195.2,608.9 L194.4,611.9 L193.7,614.9 L193.0,617.9 L192.4,620.9 L191.8,624.0 L191.3,627.0 L190.9,630.1 L190.5,633.1 L190.2,636.2 L189.9,639.3 L189.6,642.4 L189.5,645.4 L189.3,648.5 L189.3,651.6 L189.3,654.7 L189.3,657.8 L189.4,660.9 L189.5,664.0 L189.8,667.1 L190.0,670.1 L190.3,673.2 L190.7,676.3 L191.1,679.3 L191.6,682.3 L192.2,685.4 L192.8,688.4 L193.4,691.4 L194.1,694.4 L194.9,697.3 L195.7,700.3 L196.6,703.2 L197.5,706.1 L198.5,709.0 L199.6,711.9 L200.7,714.7 L201.8,717.5 L203.1,720.3 L204.3,723.0 L205.7,725.8 L207.0,728.5 L208.5,731.1 L210.0,733.8 L211.6,736.4 L213.2,739.0 L214.9,741.5 L216.6,744.0 L218.4,746.4 L220.2,748.9 L222.1,751.2 L224.1,753.6 L226.1,755.9 L228.2,758.1 L230.3,760.3 L232.5,762.4 L234.8,764.6 L237.1,766.6 L239.5,768.6 L241.9,770.6 L244.4,772.5 L246.9,774.3 L249.6,776.1 L252.2,777.8 L254.9,779.5 L257.7,781.1 L260.6,782.7 L259.2,788.5 L259.2,788.5 L266.2,790.0 L273.4,791.2 L280.6,792.0 L287.8,792.4 L295.0,792.5 L302.2,792.2 L309.4,791.6 L316.6,790.6 L323.7,789.2 L330.7,787.5 L337.7,785.5 L344.5,783.0 L351.2,780.3 L357.7,777.2 L364.1,773.8 L370.3,770.1 L376.3,766.1 L382.1,761.8 L387.7,757.2 L393.0,752.3 L398.1,747.1 L402.9,741.7 L407.4,736.1 L411.7,730.3 L415.6,724.2 L419.3,718.0 L422.6,711.6 L425.6,705.0 L428.3,698.3 L430.6,691.5 L432.6,684.5 L434.2,677.5 L435.5,670.4 L436.4,663.2 L437.0,656.0 L437.1,648.8 L437.0,641.6 L436.4,634.4 L435.5,627.2 L434.3,620.1 L432.7,613.0 L430.7,606.1 L428.4,599.3 L425.8,592.5 L422.8,586.0 L419.5,579.5 L415.8,573.3 L411.9,567.2 L407.7,561.4 L403.1,555.7 L398.3,550.3 L393.3,545.2 L387.9,540.3 L382.4,535.7 L376.6,531.3 L370.6,527.3 L364.4,523.6 L358.0,520.2 L351.5,517.1 L344.8,514.3 L338.0,511.9 L331.1,509.8 L324.1,508.0 L317.0,506.7 L309.8,505.6 L302.6,505.0 L295.4,504.7 L288.2,504.7 L280.9,505.2Z" fill="#9FFF60"/>
<path d="M309.3,505.6 L308.6,511.2 L306.2,513.9 L303.8,516.7 L301.5,519.6 L299.3,522.4 L297.1,525.4 L295.0,528.3 L293.0,531.3 L291.0,534.3 L289.1,537.4 L287.3,540.4 L285.5,543.6 L283.7,546.7 L282.0,549.9 L280.4,553.1 L278.9,556.3 L277.3,559.6 L275.9,562.9 L274.5,566.2 L273.1,569.6 L271.8,572.9 L270.5,576.3 L269.3,579.7 L268.1,583.1 L267.0,586.6 L265.9,590.1 L264.9,593.5 L263.9,597.0 L263.0,600.5 L262.1,604.1 L261.2,607.6 L260.4,611.2 L259.6,614.8 L258.8,618.3 L258.1,621.9 L257.4,625.5 L256.7,629.1 L256.1,632.7 L255.5,636.4 L255.0,640.0 L254.5,643.6 L254.0,647.3 L253.5,650.9 L253.1,654.6 L252.8,658.2 L252.4,661.9 L252.1,665.5 L251.9,669.2 L251.7,672.8 L251.5,676.5 L251.4,680.1 L251.3,683.8 L251.2,687.5 L251.2,691.1 L251.2,694.8 L251.3,698.4 L251.4,702.1 L251.5,705.7 L251.7,709.3 L251.9,713.0 L252.2,716.6 L252.5,720.2 L252.8,723.8 L253.2,727.4 L253.7,731.0 L254.2,734.6 L254.7,738.2 L255.3,741.7 L255.9,745.3 L256.5,748.8 L257.3,752.4 L258.0,755.9 L258.8,759.4 L259.7,762.9 L260.5,766.3 L261.5,769.8 L262.5,773.2 L263.5,776.6 L264.6,780.1 L265.7,783.4 L264.5,789.7 L264.5,789.7 L271.1,790.9 L277.8,791.7 L284.5,792.3 L291.2,792.5 L298.0,792.5 L304.7,792.1 L311.4,791.4 L318.1,790.3 L324.7,789.0 L331.2,787.4 L337.7,785.4 L344.0,783.2 L350.3,780.7 L356.4,777.9 L362.4,774.8 L368.2,771.4 L373.9,767.7 L379.4,763.8 L384.7,759.7 L389.8,755.3 L394.7,750.6 L399.4,745.8 L403.8,740.7 L408.0,735.4 L411.9,729.9 L415.6,724.3 L419.0,718.5 L422.1,712.5 L425.0,706.4 L427.6,700.2 L429.8,693.9 L431.8,687.4 L433.5,680.9 L434.8,674.3 L435.9,667.7 L436.6,661.0 L437.0,654.2 L437.1,647.5 L436.9,640.8 L436.4,634.1 L435.6,627.4 L434.4,620.8 L433.0,614.2 L431.2,607.7 L429.1,601.3 L426.8,595.0 L424.1,588.8 L421.2,582.7 L417.9,576.8 L414.4,571.1 L410.7,565.5 L406.7,560.1 L402.4,554.9 L397.9,549.9 L393.1,545.1 L388.2,540.5 L383.0,536.2 L377.6,532.1 L372.1,528.3 L366.4,524.7 L360.5,521.4 L354.5,518.4 L348.3,515.7 L342.0,513.2 L335.6,511.1 L329.1,509.3 L322.6,507.7 L315.9,506.5 L309.3,505.6Z" fill="#60FF9F"/>
<path d="M336.6,511.4 L334.7,517.3 L337.3,520.3 L339.8,523.4 L342.2,526.5 L344.5,529.7 L346.8,533.0 L348.9,536.3 L351.0,539.6 L352.9,543.0 L354.8,546.5 L356.5,550.0 L358.2,553.6 L359.8,557.2 L361.3,560.8 L362.7,564.5 L364.0,568.2 L365.2,571.9 L366.4,575.7 L367.4,579.5 L368.4,583.3 L369.2,587.2 L370.0,591.1 L370.7,595.0 L371.3,598.9 L371.9,602.9 L372.3,606.8 L372.6,610.8 L372.9,614.8 L373.1,618.8 L373.2,622.8 L373.2,626.8 L373.1,630.8 L372.9,634.8 L372.7,638.8 L372.4,642.8 L372.0,646.8 L371.5,650.8 L370.9,654.8 L370.3,658.8 L369.5,662.7 L368.7,666.7 L367.8,670.6 L366.9,674.5 L365.8,678.4 L364.7,682.2 L363.5,686.1 L362.2,689.9 L360.8,693.6 L359.4,697.4 L357.8,701.1 L356.2,704.8 L354.6,708.4 L352.8,712.0 L351.0,715.5 L349.1,719.0 L347.1,722.4 L345.1,725.8 L342.9,729.2 L340.8,732.5 L338.5,735.7 L336.1,738.9 L333.7,742.0 L331.2,745.1 L328.7,748.1 L326.0,751.0 L323.3,753.9 L320.6,756.6 L317.7,759.4 L314.8,762.0 L311.8,764.5 L308.8,767.0 L305.7,769.4 L302.5,771.7 L299.2,774.0 L295.9,776.1 L292.5,778.2 L289.1,780.1 L285.5,782.0 L282.0,783.8 L278.3,785.5 L277.6,791.7 L277.6,791.7 L283.7,792.2 L289.9,792.5 L296.0,792.5 L302.2,792.2 L308.3,791.7 L314.4,790.9 L320.4,789.9 L326.4,788.6 L332.4,787.1 L338.3,785.3 L344.1,783.2 L349.8,780.9 L355.4,778.4 L360.8,775.6 L366.2,772.6 L371.4,769.4 L376.5,765.9 L381.4,762.3 L386.2,758.4 L390.8,754.3 L395.2,750.1 L399.5,745.6 L403.5,741.0 L407.4,736.2 L411.0,731.3 L414.4,726.2 L417.6,720.9 L420.6,715.6 L423.3,710.1 L425.8,704.5 L428.1,698.8 L430.1,693.0 L431.9,687.1 L433.4,681.2 L434.7,675.2 L435.7,669.1 L436.4,663.0 L436.9,656.9 L437.1,650.8 L437.1,644.6 L436.8,638.5 L436.2,632.4 L435.4,626.3 L434.3,620.3 L433.0,614.3 L431.4,608.4 L429.6,602.5 L427.5,596.7 L425.1,591.1 L422.6,585.5 L419.7,580.0 L416.7,574.7 L413.4,569.5 L409.9,564.5 L406.3,559.6 L402.3,554.8 L398.2,550.3 L394.0,545.9 L389.5,541.7 L384.8,537.6 L380.0,533.8 L375.0,530.2 L369.9,526.9 L364.6,523.7 L359.2,520.8 L353.7,518.1 L348.1,515.6 L342.4,513.4 L336.6,511.4Z" fill="#20FFDF"/>
<path d="M359.2,520.8 L356.2,526.6 L359.6,529.3 L362.9,532.1 L366.1,535.0 L369.2,538.0 L372.1,541.1 L374.9,544.2 L377.6,547.4 L380.2,550.7 L382.6,554.1 L385.0,557.5 L387.2,561.0 L389.3,564.6 L391.3,568.2 L393.1,571.9 L394.9,575.6 L396.5,579.3 L398.0,583.1 L399.4,587.0 L400.7,590.9 L401.9,594.8 L403.0,598.8 L403.9,602.8 L404.8,606.8 L405.5,610.9 L406.1,614.9 L406.6,619.0 L407.0,623.1 L407.3,627.2 L407.5,631.4 L407.6,635.5 L407.6,639.6 L407.5,643.8 L407.2,647.9 L406.9,652.1 L406.5,656.2 L405.9,660.3 L405.3,664.4 L404.5,668.5 L403.7,672.5 L402.7,676.6 L401.7,680.6 L400.5,684.6 L399.3,688.5 L398.0,692.5 L396.5,696.3 L395.0,700.2 L393.3,704.0 L391.6,707.7 L389.8,711.4 L387.9,715.1 L385.9,718.7 L383.8,722.2 L381.6,725.7 L379.3,729.1 L376.9,732.4 L374.4,735.7 L371.9,738.9 L369.2,742.0 L366.5,745.0 L363.7,748.0 L360.8,750.8 L357.8,753.6 L354.7,756.3 L351.5,758.9 L348.2,761.4 L344.9,763.8 L341.5,766.1 L338.0,768.3 L334.4,770.4 L330.7,772.3 L327.0,774.2 L323.1,775.9 L319.2,777.5 L315.2,779.0 L311.2,780.4 L307.0,781.6 L302.8,782.7 L298.5,783.7 L294.1,784.5 L294.2,792.5 L294.2,792.5 L299.7,792.4 L305.3,792.0 L310.8,791.4 L316.3,790.6 L321.7,789.6 L327.2,788.4 L332.5,787.0 L337.8,785.4 L343.1,783.6 L348.2,781.6 L353.3,779.3 L358.3,776.9 L363.2,774.3 L368.0,771.5 L372.7,768.5 L377.2,765.4 L381.7,762.1 L386.0,758.6 L390.2,754.9 L394.2,751.1 L398.1,747.1 L401.8,743.0 L405.3,738.8 L408.7,734.4 L412.0,729.9 L415.0,725.3 L417.9,720.5 L420.5,715.7 L423.0,710.7 L425.3,705.7 L427.4,700.5 L429.3,695.3 L431.0,690.1 L432.5,684.7 L433.8,679.3 L434.9,673.9 L435.8,668.4 L436.4,662.9 L436.9,657.4 L437.1,651.9 L437.1,646.3 L436.9,640.8 L436.5,635.3 L435.9,629.8 L435.1,624.3 L434.0,618.9 L432.8,613.5 L431.3,608.1 L429.7,602.8 L427.8,597.6 L425.7,592.5 L423.5,587.4 L421.0,582.4 L418.4,577.6 L415.5,572.8 L412.5,568.2 L409.3,563.6 L406.0,559.2 L402.5,554.9 L398.8,550.8 L394.9,546.8 L390.9,543.0 L386.8,539.3 L382.5,535.8 L378.1,532.4 L373.5,529.2 L368.9,526.2 L364.1,523.4 L359.2,520.8Z" fill="#00DFFF"/>
<path d="M364.0,523.3 L360.6,529.4 L363.5,531.3 L366.4,533.4 L369.2,535.4 L371.9,537.6 L374.5,539.8 L377.0,542.1 L379.5,544.4 L381.9,546.8 L384.2,549.2 L386.5,551.7 L388.7,554.2 L390.8,556.8 L392.8,559.5 L394.7,562.2 L396.6,564.9 L398.4,567.7 L400.1,570.5 L401.7,573.3 L403.3,576.2 L404.8,579.1 L406.2,582.1 L407.5,585.1 L408.8,588.1 L410.0,591.1 L411.1,594.2 L412.1,597.3 L413.1,600.4 L414.0,603.6 L414.8,606.7 L415.5,609.9 L416.2,613.1 L416.8,616.4 L417.3,619.6 L417.7,622.8 L418.1,626.1 L418.4,629.3 L418.6,632.6 L418.7,635.9 L418.8,639.1 L418.8,642.4 L418.7,645.7 L418.5,649.0 L418.3,652.2 L418.0,655.5 L417.6,658.8 L417.2,662.0 L416.6,665.3 L416.0,668.5 L415.4,671.7 L414.6,674.9 L413.8,678.1 L413.0,681.3 L412.0,684.4 L411.0,687.6 L410.0,690.7 L408.8,693.8 L407.6,696.8 L406.4,699.9 L405.0,702.9 L403.6,705.9 L402.2,708.8 L400.7,711.7 L399.1,714.6 L397.4,717.5 L395.7,720.3 L394.0,723.1 L392.1,725.8 L390.3,728.5 L388.3,731.1 L386.3,733.8 L384.3,736.3 L382.1,738.8 L380.0,741.3 L377.7,743.7 L375.5,746.1 L373.1,748.4 L370.7,750.7 L368.3,752.9 L365.8,755.0 L363.2,757.1 L360.6,759.1 L358.0,761.1 L355.3,763.0 L352.5,764.8 L349.7,766.6 L346.9,768.3 L344.0,769.9 L341.0,771.5 L338.0,773.0 L335.0,774.4 L331.9,775.7 L328.8,777.0 L325.6,778.2 L322.4,779.3 L319.1,780.3 L315.8,781.3 L312.5,782.1 L309.1,782.9 L305.6,783.6 L306.4,791.9 L306.4,791.9 L311.7,791.3 L316.9,790.5 L322.1,789.6 L327.3,788.4 L332.4,787.1 L337.5,785.5 L342.5,783.8 L347.4,781.9 L352.3,779.8 L357.1,777.5 L361.7,775.1 L366.4,772.5 L370.9,769.7 L375.3,766.8 L379.5,763.7 L383.7,760.5 L387.8,757.1 L391.7,753.5 L395.5,749.8 L399.1,746.0 L402.6,742.0 L406.0,738.0 L409.2,733.8 L412.3,729.4 L415.2,725.0 L417.9,720.5 L420.4,715.9 L422.8,711.1 L425.0,706.3 L427.1,701.5 L428.9,696.5 L430.6,691.5 L432.1,686.4 L433.4,681.3 L434.5,676.1 L435.4,670.9 L436.1,665.7 L436.7,660.4 L437.0,655.2 L437.1,649.9 L437.1,644.6 L436.8,639.3 L436.4,634.1 L435.8,628.8 L435.0,623.6 L433.9,618.4 L432.7,613.3 L431.3,608.2 L429.8,603.1 L428.0,598.1 L426.0,593.2 L423.9,588.4 L421.6,583.6 L419.1,579.0 L416.5,574.4 L413.7,569.9 L410.7,565.5 L407.6,561.3 L404.3,557.1 L400.9,553.1 L397.3,549.2 L393.6,545.5 L389.7,541.9 L385.7,538.4 L381.6,535.1 L377.4,531.9 L373.0,528.9 L368.6,526.0 L364.0,523.3Z" fill="#009FFF"/>
<path d="M379.1,533.1 L375.3,538.2 L377.9,540.3 L380.5,542.4 L382.9,544.5 L385.3,546.7 L387.6,549.0 L389.9,551.3 L392.1,553.6 L394.2,556.0 L396.2,558.5 L398.1,560.9 L400.0,563.5 L401.8,566.0 L403.5,568.6 L405.2,571.2 L406.7,573.9 L408.2,576.6 L409.7,579.3 L411.0,582.1 L412.3,584.9 L413.5,587.7 L414.7,590.5 L415.8,593.4 L416.8,596.3 L417.7,599.2 L418.6,602.1 L419.4,605.1 L420.1,608.1 L420.8,611.0 L421.3,614.0 L421.9,617.1 L422.3,620.1 L422.7,623.1 L423.0,626.2 L423.3,629.2 L423.5,632.3 L423.6,635.4 L423.7,638.5 L423.7,641.5 L423.6,644.6 L423.5,647.7 L423.3,650.8 L423.0,653.9 L422.7,656.9 L422.3,660.0 L421.8,663.1 L421.3,666.1 L420.8,669.1 L420.1,672.2 L419.4,675.2 L418.7,678.2 L417.9,681.2 L417.0,684.2 L416.1,687.1 L415.1,690.1 L414.0,693.0 L412.9,695.9 L411.8,698.8 L410.5,701.6 L409.3,704.5 L407.9,707.3 L406.5,710.0 L405.1,712.8 L403.6,715.5 L402.0,718.2 L400.4,720.8 L398.8,723.4 L397.1,726.0 L395.3,728.6 L393.5,731.1 L391.6,733.5 L389.7,736.0 L387.8,738.3 L385.7,740.7 L383.7,743.0 L381.6,745.2 L379.4,747.4 L377.2,749.6 L374.9,751.7 L372.6,753.8 L370.3,755.8 L367.9,757.7 L365.4,759.6 L363.0,761.4 L360.4,763.2 L357.9,764.9 L355.2,766.6 L352.6,768.2 L349.9,769.7 L347.1,771.2 L344.3,772.6 L341.5,774.0 L338.6,775.2 L335.7,776.4 L332.7,777.6 L329.8,778.6 L326.7,779.6 L323.6,780.5 L320.5,781.4 L317.4,782.1 L318.9,790.2 L318.9,790.2 L323.6,789.3 L328.3,788.1 L333.0,786.9 L337.7,785.5 L342.2,783.9 L346.8,782.1 L351.2,780.3 L355.6,778.2 L360.0,776.1 L364.2,773.7 L368.4,771.3 L372.5,768.7 L376.5,765.9 L380.4,763.1 L384.2,760.1 L387.9,756.9 L391.5,753.7 L395.0,750.3 L398.4,746.8 L401.6,743.2 L404.7,739.5 L407.7,735.7 L410.6,731.8 L413.3,727.8 L415.9,723.7 L418.4,719.6 L420.7,715.3 L422.9,711.0 L424.9,706.6 L426.8,702.1 L428.5,697.6 L430.1,693.0 L431.5,688.4 L432.8,683.7 L433.9,679.0 L434.8,674.3 L435.6,669.5 L436.2,664.7 L436.7,659.9 L437.0,655.0 L437.1,650.2 L437.1,645.3 L436.9,640.5 L436.6,635.7 L436.0,630.9 L435.4,626.1 L434.5,621.3 L433.5,616.6 L432.4,611.9 L431.1,607.2 L429.6,602.6 L428.0,598.0 L426.2,593.5 L424.2,589.1 L422.2,584.7 L419.9,580.4 L417.6,576.2 L415.1,572.0 L412.4,568.0 L409.6,564.0 L406.7,560.1 L403.7,556.4 L400.5,552.7 L397.2,549.1 L393.8,545.7 L390.3,542.4 L386.6,539.2 L382.9,536.1 L379.1,533.1Z" fill="#0060FF"/>
<path d="M379.1,533.1 L375.5,538.0 L378.1,540.0 L380.7,542.1 L383.2,544.2 L385.6,546.4 L387.9,548.7 L390.2,551.0 L392.4,553.3 L394.6,555.7 L396.6,558.1 L398.6,560.5 L400.6,563.0 L402.4,565.5 L404.2,568.1 L405.9,570.7 L407.6,573.4 L409.1,576.0 L410.7,578.7 L412.1,581.5 L413.5,584.3 L414.8,587.1 L416.0,589.9 L417.2,592.7 L418.3,595.6 L419.4,598.5 L420.3,601.5 L421.2,604.4 L422.1,607.4 L422.8,610.4 L423.5,613.5 L424.2,616.5 L424.7,619.6 L425.2,622.6 L425.7,625.7 L426.0,628.8 L426.3,632.0 L426.5,635.1 L426.7,638.2 L426.8,641.4 L426.8,644.5 L426.7,647.7 L426.6,650.8 L426.4,654.0 L426.1,657.1 L425.8,660.3 L425.4,663.5 L424.9,666.6 L424.4,669.7 L423.8,672.9 L423.1,676.0 L422.4,679.1 L421.6,682.2 L420.7,685.2 L419.7,688.3 L418.7,691.3 L417.7,694.3 L416.5,697.3 L415.3,700.3 L414.0,703.2 L412.7,706.1 L411.3,709.0 L409.9,711.8 L408.4,714.6 L406.8,717.4 L405.1,720.1 L403.5,722.8 L401.7,725.5 L399.9,728.1 L398.0,730.7 L396.1,733.2 L394.2,735.7 L392.1,738.2 L390.1,740.5 L388.0,742.9 L385.8,745.2 L383.6,747.4 L381.3,749.6 L379.0,751.7 L376.6,753.8 L374.2,755.8 L371.8,757.8 L369.3,759.7 L366.7,761.6 L364.2,763.4 L361.5,765.1 L358.9,766.8 L356.2,768.4 L353.4,769.9 L350.6,771.4 L347.8,772.8 L345.0,774.2 L342.1,775.5 L339.1,776.7 L336.2,777.8 L333.2,778.9 L330.1,779.9 L327.0,780.8 L323.9,781.7 L320.8,782.5 L317.6,783.2 L318.9,790.2 L318.9,790.2 L323.6,789.3 L328.3,788.1 L333.0,786.9 L337.7,785.5 L342.2,783.9 L346.8,782.1 L351.2,780.3 L355.6,778.2 L360.0,776.1 L364.2,773.7 L368.4,771.3 L372.5,768.7 L376.5,765.9 L380.4,763.1 L384.2,760.1 L387.9,756.9 L391.5,753.7 L395.0,750.3 L398.4,746.8 L401.6,743.2 L404.7,739.5 L407.7,735.7 L410.6,731.8 L413.3,727.8 L415.9,723.7 L418.4,719.6 L420.7,715.3 L422.9,711.0 L424.9,706.6 L426.8,702.1 L428.5,697.6 L430.1,693.0 L431.5,688.4 L432.8,683.7 L433.9,679.0 L434.8,674.3 L435.6,669.5 L436.2,664.7 L436.7,659.9 L437.0,655.0 L437.1,650.2 L437.1,645.3 L436.9,640.5 L436.6,635.7 L436.0,630.9 L435.4,626.1 L434.5,621.3 L433.5,616.6 L432.4,611.9 L431.1,607.2 L429.6,602.6 L428.0,598.0 L426.2,593.5 L424.2,589.1 L422.2,584.7 L419.9,580.4 L417.6,576.2 L415.1,572.0 L412.4,568.0 L409.6,564.0 L406.7,560.1 L403.7,556.4 L400.5,552.7 L397.2,549.1 L393.8,545.7 L390.3,542.4 L386.6,539.2 L382.9,536.1 L379.1,533.1Z" fill="#0020FF"/>
<path d="M379.1,533.1 L375.6,537.8 L378.2,539.8 L380.8,541.9 L383.3,544.0 L385.8,546.2 L388.2,548.5 L390.5,550.7 L392.7,553.0 L394.9,555.4 L397.0,557.8 L399.0,560.2 L400.9,562.7 L402.8,565.2 L404.7,567.8 L406.4,570.4 L408.1,573.0 L409.8,575.6 L411.3,578.3 L412.9,581.1 L414.3,583.8 L415.7,586.6 L417.0,589.4 L418.2,592.3 L419.4,595.2 L420.5,598.1 L421.6,601.0 L422.5,604.0 L423.4,607.0 L424.3,610.0 L425.1,613.0 L425.8,616.1 L426.4,619.2 L427.0,622.3 L427.5,625.4 L427.9,628.6 L428.3,631.7 L428.6,634.9 L428.8,638.1 L428.9,641.3 L429.0,644.5 L429.0,647.7 L428.9,650.9 L428.8,654.1 L428.6,657.3 L428.3,660.5 L427.9,663.7 L427.4,666.9 L426.9,670.1 L426.3,673.3 L425.7,676.5 L424.9,679.7 L424.1,682.8 L423.3,686.0 L422.3,689.1 L421.3,692.2 L420.2,695.3 L419.0,698.3 L417.8,701.3 L416.5,704.3 L415.1,707.3 L413.7,710.2 L412.2,713.1 L410.6,715.9 L409.0,718.8 L407.3,721.5 L405.6,724.3 L403.8,727.0 L401.9,729.6 L400.0,732.2 L398.0,734.7 L395.9,737.2 L393.8,739.7 L391.7,742.1 L389.5,744.4 L387.3,746.7 L385.0,748.9 L382.6,751.1 L380.2,753.2 L377.8,755.3 L375.3,757.3 L372.8,759.3 L370.2,761.1 L367.6,763.0 L365.0,764.7 L362.3,766.4 L359.6,768.1 L356.8,769.6 L354.0,771.1 L351.2,772.6 L348.3,774.0 L345.4,775.3 L342.5,776.5 L339.5,777.7 L336.5,778.8 L333.4,779.8 L330.4,780.8 L327.2,781.7 L324.1,782.5 L320.9,783.2 L317.7,783.9 L318.9,790.2 L318.9,790.2 L323.6,789.3 L328.3,788.1 L333.0,786.9 L337.7,785.5 L342.2,783.9 L346.8,782.1 L351.2,780.3 L355.6,778.2 L360.0,776.1 L364.2,773.7 L368.4,771.3 L372.5,768.7 L376.5,765.9 L380.4,763.1 L384.2,760.1 L387.9,756.9 L391.5,753.7 L395.0,750.3 L398.4,746.8 L401.6,743.2 L404.7,739.5 L407.7,735.7 L410.6,731.8 L413.3,727.8 L415.9,723.7 L418.4,719.6 L420.7,715.3 L422.9,711.0 L424.9,706.6 L426.8,702.1 L428.5,697.6 L430.1,693.0 L431.5,688.4 L432.8,683.7 L433.9,679.0 L434.8,674.3 L435.6,669.5 L436.2,664.7 L436.7,659.9 L437.0,655.0 L437.1,650.2 L437.1,645.3 L436.9,640.5 L436.6,635.7 L436.0,630.9 L435.4,626.1 L434.5,621.3 L433.5,616.6 L432.4,611.9 L431.1,607.2 L429.6,602.6 L428.0,598.0 L426.2,593.5 L424.2,589.1 L422.2,584.7 L419.9,580.4 L417.6,576.2 L415.1,572.0 L412.4,568.0 L409.6,564.0 L406.7,560.1 L403.7,556.4 L400.5,552.7 L397.2,549.1 L393.8,545.7 L390.3,542.4 L386.6,539.2 L382.9,536.1 L379.1,533.1Z" fill="#0000DF"/>
<path d="M379.1,533.1 L375.7,537.6 L378.4,539.7 L380.9,541.8 L383.5,543.9 L385.9,546.1 L388.3,548.3 L390.6,550.6 L392.9,552.9 L395.1,555.2 L397.2,557.6 L399.2,560.0 L401.2,562.5 L403.2,565.0 L405.0,567.5 L406.8,570.1 L408.6,572.7 L410.2,575.4 L411.8,578.0 L413.4,580.8 L414.9,583.5 L416.3,586.3 L417.6,589.1 L418.9,592.0 L420.2,594.8 L421.3,597.8 L422.4,600.7 L423.5,603.7 L424.4,606.7 L425.3,609.7 L426.2,612.7 L426.9,615.8 L427.6,618.9 L428.2,622.0 L428.8,625.2 L429.3,628.4 L429.7,631.5 L430.0,634.7 L430.3,637.9 L430.5,641.2 L430.6,644.4 L430.6,647.6 L430.6,650.9 L430.5,654.2 L430.3,657.4 L430.0,660.7 L429.7,663.9 L429.2,667.2 L428.7,670.4 L428.2,673.7 L427.5,676.9 L426.8,680.1 L426.0,683.3 L425.1,686.5 L424.1,689.7 L423.1,692.8 L422.0,695.9 L420.8,699.0 L419.6,702.1 L418.3,705.1 L416.9,708.1 L415.4,711.1 L413.9,714.0 L412.3,716.9 L410.6,719.7 L408.9,722.5 L407.1,725.3 L405.2,728.0 L403.3,730.6 L401.3,733.3 L399.3,735.8 L397.2,738.3 L395.1,740.8 L392.9,743.2 L390.6,745.5 L388.3,747.8 L386.0,750.0 L383.6,752.2 L381.1,754.3 L378.7,756.4 L376.1,758.4 L373.6,760.3 L370.9,762.2 L368.3,764.0 L365.6,765.7 L362.9,767.4 L360.1,769.0 L357.3,770.5 L354.5,772.0 L351.6,773.4 L348.7,774.8 L345.7,776.0 L342.8,777.3 L339.8,778.4 L336.7,779.5 L333.6,780.5 L330.5,781.4 L327.4,782.3 L324.2,783.1 L321.0,783.8 L317.8,784.4 L318.9,790.2 L318.9,790.2 L323.6,789.3 L328.3,788.1 L333.0,786.9 L337.7,785.5 L342.2,783.9 L346.8,782.1 L351.2,780.3 L355.6,778.2 L360.0,776.1 L364.2,773.7 L368.4,771.3 L372.5,768.7 L376.5,765.9 L380.4,763.1 L384.2,760.1 L387.9,756.9 L391.5,753.7 L395.0,750.3 L398.4,746.8 L401.6,743.2 L404.7,739.5 L407.7,735.7 L410.6,731.8 L413.3,727.8 L415.9,723.7 L418.4,719.6 L420.7,715.3 L422.9,711.0 L424.9,706.6 L426.8,702.1 L428.5,697.6 L430.1,693.0 L431.5,688.4 L432.8,683.7 L433.9,679.0 L434.8,674.3 L435.6,669.5 L436.2,664.7 L436.7,659.9 L437.0,655.0 L437.1,650.2 L437.1,645.3 L436.9,640.5 L436.6,635.7 L436.0,630.9 L435.4,626.1 L434.5,621.3 L433.5,616.6 L432.4,611.9 L431.1,607.2 L429.6,602.6 L428.0,598.0 L426.2,593.5 L424.2,589.1 L422.2,584.7 L419.9,580.4 L417.6,576.2 L415.1,572.0 L412.4,568.0 L409.6,564.0 L406.7,560.1 L403.7,556.4 L400.5,552.7 L397.2,549.1 L393.8,545.7 L390.3,542.4 L386.6,539.2 L382.9,536.1 L379.1,533.1Z" fill="#00009F"/>
<path d="M262.2,508.0 L263.4,513.4 L260.0,514.2 L256.5,515.1 L253.2,516.1 L249.9,517.1 L246.7,518.2 L243.5,519.4 L240.4,520.7 L237.3,522.0 L234.3,523.3 L231.3,524.8 L228.4,526.3 L225.5,527.8 L222.7,529.5 L219.9,531.1 L217.2,532.9 L214.6,534.7 L211.9,536.5 L209.4,538.5 L206.8,540.4 L204.4,542.5 L202.0,544.5 L199.6,546.7 L197.3,548.9 L195.0,551.1 L192.8,553.4 L190.6,555.8 L188.5,558.2 L186.4,560.7 L184.4,563.2 L182.5,565.7 L180.6,568.4 L178.7,571.0 L176.9,573.7 L175.2,576.5 L173.5,579.3 L171.9,582.2 L170.4,585.1 L168.9,588.1 L167.5,591.1 L166.2,594.1 L164.9,597.2 L163.7,600.3 L162.6,603.5 L161.5,606.7 L160.6,609.9 L159.7,613.2 L158.8,616.4 L158.1,619.8 L157.4,623.1 L156.8,626.5 L156.3,629.9 L155.9,633.2 L155.6,636.7 L155.3,640.1 L155.2,643.5 L155.1,647.0 L155.1,650.4 L155.2,653.8 L155.4,657.3 L155.6,660.7 L156.0,664.1 L156.4,667.5 L156.9,670.9 L157.5,674.3 L158.2,677.7 L158.9,681.0 L159.8,684.3 L160.7,687.6 L161.7,690.9 L162.8,694.1 L163.9,697.3 L165.1,700.4 L166.4,703.6 L167.8,706.6 L169.2,709.7 L170.8,712.7 L172.3,715.6 L174.0,718.5 L175.7,721.4 L177.5,724.2 L179.3,726.9 L181.2,729.6 L183.2,732.3 L185.2,734.9 L187.2,737.4 L189.4,739.9 L191.5,742.4 L193.8,744.7 L196.1,747.1 L198.4,749.3 L200.8,751.5 L203.2,753.7 L205.7,755.8 L208.2,757.8 L210.8,759.8 L213.5,761.7 L216.1,763.5 L218.8,765.3 L221.6,767.0 L224.4,768.7 L227.3,770.3 L230.2,771.8 L233.1,773.3 L236.1,774.7 L239.2,776.0 L242.2,777.3 L245.4,778.5 L248.5,779.6 L251.8,780.7 L250.1,786.0" class="ln"/>
<path d="M262.2,508.0 L263.4,513.5 L260.0,514.3 L256.6,515.2 L253.2,516.2 L249.9,517.2 L246.7,518.3 L243.5,519.5 L240.4,520.8 L237.3,522.1 L234.3,523.5 L231.4,524.9 L228.5,526.4 L225.6,528.0 L222.8,529.6 L220.1,531.3 L217.3,533.1 L214.7,534.9 L212.1,536.8 L209.5,538.7 L207.0,540.7 L204.6,542.7 L202.2,544.8 L199.9,547.0 L197.6,549.2 L195.3,551.4 L193.1,553.8 L191.0,556.1 L188.9,558.5 L186.9,561.0 L184.9,563.5 L182.9,566.1 L181.1,568.7 L179.3,571.4 L177.5,574.1 L175.8,576.9 L174.2,579.7 L172.6,582.6 L171.1,585.5 L169.7,588.4 L168.3,591.4 L167.0,594.5 L165.8,597.5 L164.6,600.6 L163.5,603.8 L162.5,607.0 L161.5,610.2 L160.7,613.4 L159.9,616.7 L159.1,620.0 L158.5,623.3 L157.9,626.6 L157.4,630.0 L157.0,633.4 L156.7,636.8 L156.5,640.2 L156.3,643.6 L156.2,647.0 L156.2,650.4 L156.3,653.8 L156.5,657.2 L156.8,660.6 L157.1,664.0 L157.5,667.4 L158.0,670.8 L158.6,674.1 L159.3,677.4 L160.0,680.8 L160.8,684.0 L161.7,687.3 L162.7,690.5 L163.7,693.8 L164.9,696.9 L166.1,700.1 L167.3,703.2 L168.7,706.2 L170.1,709.3 L171.6,712.2 L173.1,715.2 L174.7,718.1 L176.4,720.9 L178.1,723.7 L179.9,726.5 L181.8,729.2 L183.7,731.8 L185.7,734.5 L187.8,737.0 L189.8,739.5 L192.0,741.9 L194.2,744.3 L196.5,746.7 L198.8,748.9 L201.1,751.2 L203.5,753.3 L206.0,755.4 L208.5,757.5 L211.1,759.4 L213.7,761.4 L216.3,763.2 L219.0,765.0 L221.8,766.8 L224.6,768.4 L227.4,770.1 L230.3,771.6 L233.2,773.1 L236.2,774.5 L239.2,775.9 L242.3,777.1 L245.4,778.4 L248.6,779.5 L251.8,780.6 L250.1,786.0" class="ln"/>
<path d="M262.2,508.0 L263.5,513.6 L260.0,514.5 L256.6,515.4 L253.3,516.3 L250.0,517.4 L246.8,518.5 L243.6,519.7 L240.5,521.0 L237.4,522.3 L234.4,523.7 L231.5,525.1 L228.6,526.7 L225.8,528.3 L223.0,529.9 L220.2,531.6 L217.6,533.4 L214.9,535.2 L212.4,537.1 L209.8,539.1 L207.4,541.1 L205.0,543.2 L202.6,545.3 L200.3,547.4 L198.0,549.7 L195.8,551.9 L193.7,554.3 L191.6,556.7 L189.5,559.1 L187.5,561.6 L185.6,564.1 L183.7,566.7 L181.9,569.3 L180.2,572.0 L178.5,574.7 L176.8,577.5 L175.3,580.3 L173.7,583.2 L172.3,586.1 L170.9,589.0 L169.6,592.0 L168.3,595.0 L167.1,598.1 L166.0,601.2 L165.0,604.3 L164.0,607.5 L163.1,610.6 L162.3,613.8 L161.5,617.1 L160.8,620.3 L160.2,623.6 L159.7,626.9 L159.2,630.2 L158.8,633.6 L158.5,636.9 L158.3,640.3 L158.1,643.6 L158.1,647.0 L158.1,650.4 L158.2,653.7 L158.3,657.1 L158.6,660.4 L158.9,663.8 L159.3,667.1 L159.8,670.5 L160.3,673.8 L161.0,677.1 L161.7,680.3 L162.5,683.6 L163.3,686.8 L164.3,690.0 L165.3,693.2 L166.4,696.4 L167.5,699.5 L168.8,702.5 L170.0,705.6 L171.4,708.6 L172.8,711.6 L174.3,714.5 L175.9,717.4 L177.5,720.2 L179.2,723.0 L181.0,725.8 L182.8,728.5 L184.7,731.1 L186.6,733.8 L188.6,736.3 L190.6,738.8 L192.7,741.3 L194.9,743.7 L197.1,746.0 L199.3,748.3 L201.7,750.6 L204.0,752.7 L206.4,754.9 L208.9,756.9 L211.4,758.9 L214.0,760.9 L216.6,762.8 L219.3,764.6 L222.0,766.4 L224.8,768.1 L227.6,769.7 L230.4,771.3 L233.4,772.8 L236.3,774.2 L239.3,775.6 L242.4,776.9 L245.5,778.2 L248.6,779.3 L251.9,780.4 L250.1,786.0" class="ln"/>
<path d="M262.2,508.0 L263.5,513.9 L260.1,514.7 L256.7,515.6 L253.3,516.6 L250.1,517.6 L246.9,518.8 L243.7,520.0 L240.6,521.3 L237.6,522.6 L234.6,524.0 L231.7,525.5 L228.8,527.1 L226.0,528.7 L223.2,530.4 L220.5,532.1 L217.9,533.9 L215.3,535.8 L212.8,537.7 L210.3,539.7 L207.9,541.7 L205.5,543.8 L203.2,546.0 L201.0,548.2 L198.8,550.5 L196.6,552.8 L194.6,555.1 L192.5,557.5 L190.6,560.0 L188.7,562.5 L186.8,565.1 L185.0,567.7 L183.3,570.3 L181.6,573.0 L180.0,575.7 L178.5,578.5 L177.0,581.3 L175.6,584.2 L174.2,587.1 L172.9,590.0 L171.7,593.0 L170.5,596.0 L169.4,599.0 L168.3,602.0 L167.4,605.1 L166.5,608.2 L165.6,611.4 L164.8,614.5 L164.1,617.7 L163.5,620.9 L163.0,624.1 L162.5,627.4 L162.0,630.6 L161.7,633.9 L161.4,637.2 L161.2,640.4 L161.1,643.7 L161.0,647.0 L161.1,650.3 L161.1,653.6 L161.3,656.9 L161.5,660.2 L161.8,663.5 L162.2,666.7 L162.7,670.0 L163.2,673.2 L163.8,676.5 L164.5,679.7 L165.2,682.9 L166.0,686.0 L166.9,689.2 L167.8,692.3 L168.8,695.4 L169.9,698.5 L171.1,701.5 L172.3,704.6 L173.6,707.5 L174.9,710.5 L176.3,713.4 L177.8,716.3 L179.4,719.1 L181.0,721.9 L182.6,724.6 L184.4,727.3 L186.1,730.0 L188.0,732.6 L189.9,735.2 L191.9,737.7 L193.9,740.2 L196.0,742.6 L198.1,745.0 L200.3,747.3 L202.5,749.6 L204.8,751.8 L207.2,754.0 L209.6,756.1 L212.0,758.1 L214.5,760.1 L217.1,762.0 L219.7,763.9 L222.4,765.7 L225.1,767.5 L227.9,769.1 L230.7,770.8 L233.6,772.3 L236.5,773.8 L239.5,775.2 L242.5,776.6 L245.6,777.8 L248.7,779.0 L251.9,780.2 L250.1,786.0" class="ln"/>
<path d="M262.2,508.0 L263.6,514.2 L260.1,515.0 L256.8,516.0 L253.5,517.0 L250.2,518.0 L247.0,519.2 L243.9,520.4 L240.8,521.7 L237.8,523.1 L234.9,524.6 L232.0,526.1 L229.1,527.7 L226.4,529.4 L223.7,531.1 L221.0,532.9 L218.5,534.8 L215.9,536.7 L213.5,538.7 L211.1,540.7 L208.7,542.8 L206.5,545.0 L204.3,547.2 L202.1,549.4 L200.0,551.7 L198.0,554.1 L196.0,556.5 L194.1,559.0 L192.3,561.5 L190.5,564.0 L188.8,566.6 L187.1,569.2 L185.5,571.9 L184.0,574.6 L182.5,577.4 L181.1,580.1 L179.8,582.9 L178.5,585.8 L177.2,588.7 L176.1,591.6 L175.0,594.5 L173.9,597.4 L173.0,600.4 L172.1,603.4 L171.2,606.5 L170.4,609.5 L169.7,612.6 L169.0,615.7 L168.4,618.7 L167.9,621.9 L167.4,625.0 L167.0,628.1 L166.7,631.3 L166.4,634.4 L166.1,637.6 L166.0,640.7 L165.9,643.9 L165.8,647.1 L165.9,650.3 L165.9,653.4 L166.1,656.6 L166.3,659.8 L166.6,662.9 L166.9,666.1 L167.3,669.2 L167.8,672.4 L168.3,675.5 L168.9,678.6 L169.6,681.7 L170.3,684.8 L171.1,687.8 L171.9,690.9 L172.8,693.9 L173.8,696.9 L174.8,699.9 L175.9,702.9 L177.1,705.8 L178.3,708.7 L179.6,711.6 L180.9,714.4 L182.3,717.3 L183.8,720.0 L185.3,722.8 L186.9,725.5 L188.6,728.2 L190.3,730.8 L192.0,733.4 L193.9,735.9 L195.8,738.5 L197.7,740.9 L199.7,743.3 L201.8,745.7 L203.9,748.0 L206.1,750.3 L208.3,752.5 L210.7,754.7 L213.0,756.8 L215.4,758.9 L217.9,760.8 L220.4,762.8 L223.0,764.7 L225.7,766.5 L228.4,768.2 L231.2,769.9 L234.0,771.5 L236.8,773.1 L239.8,774.5 L242.8,776.0 L245.8,777.3 L248.9,778.6 L252.1,779.7 L250.1,786.0" class="ln"/>
<path d="M273.8,505.9 L274.7,512.6 L271.3,513.4 L267.9,514.3 L264.5,515.3 L261.3,516.3 L258.0,517.5 L254.9,518.7 L251.8,519.9 L248.7,521.3 L245.7,522.7 L242.8,524.2 L239.9,525.8 L237.1,527.4 L234.3,529.1 L231.6,530.9 L229.0,532.7 L226.4,534.6 L223.8,536.5 L221.4,538.5 L219.0,540.6 L216.6,542.7 L214.3,544.9 L212.1,547.1 L209.9,549.4 L207.8,551.8 L205.7,554.1 L203.7,556.6 L201.8,559.1 L199.9,561.6 L198.1,564.1 L196.3,566.7 L194.6,569.4 L193.0,572.1 L191.4,574.8 L189.9,577.6 L188.5,580.4 L187.1,583.2 L185.7,586.0 L184.5,588.9 L183.2,591.8 L182.1,594.8 L181.0,597.8 L180.0,600.8 L179.0,603.8 L178.1,606.8 L177.3,609.9 L176.5,613.0 L175.8,616.1 L175.1,619.2 L174.5,622.3 L174.0,625.4 L173.5,628.6 L173.1,631.7 L172.8,634.9 L172.5,638.1 L172.3,641.3 L172.2,644.4 L172.1,647.6 L172.1,650.8 L172.1,654.0 L172.2,657.2 L172.4,660.4 L172.6,663.6 L172.9,666.7 L173.3,669.9 L173.7,673.1 L174.2,676.2 L174.8,679.3 L175.4,682.5 L176.1,685.6 L176.8,688.7 L177.7,691.7 L178.5,694.8 L179.5,697.8 L180.5,700.8 L181.6,703.8 L182.7,706.8 L184.0,709.7 L185.2,712.6 L186.6,715.5 L188.0,718.4 L189.4,721.2 L191.0,724.0 L192.5,726.7 L194.2,729.4 L195.9,732.1 L197.7,734.7 L199.5,737.3 L201.4,739.9 L203.4,742.4 L205.4,744.8 L207.5,747.2 L209.6,749.6 L211.8,751.9 L214.1,754.1 L216.4,756.3 L218.8,758.5 L221.2,760.6 L223.7,762.6 L226.3,764.6 L228.9,766.5 L231.6,768.3 L234.3,770.1 L237.1,771.8 L239.9,773.4 L242.8,775.0 L245.8,776.5 L248.8,778.0 L251.8,779.3 L255.0,780.6 L253.1,786.9" class="ln"/>
<path d="M280.9,505.2 L281.5,511.7 L278.4,512.8 L275.4,513.9 L272.4,515.2 L269.5,516.5 L266.6,517.8 L263.8,519.3 L261.1,520.7 L258.4,522.3 L255.7,523.9 L253.1,525.6 L250.5,527.3 L248.0,529.1 L245.5,530.9 L243.1,532.8 L240.8,534.8 L238.5,536.8 L236.2,538.8 L234.0,540.9 L231.9,543.1 L229.8,545.3 L227.7,547.5 L225.7,549.8 L223.8,552.1 L221.9,554.5 L220.1,556.9 L218.3,559.3 L216.6,561.8 L214.9,564.4 L213.2,566.9 L211.7,569.5 L210.1,572.2 L208.7,574.8 L207.3,577.5 L205.9,580.2 L204.6,583.0 L203.3,585.8 L202.1,588.6 L201.0,591.4 L199.9,594.3 L198.8,597.2 L197.8,600.1 L196.9,603.0 L196.0,606.0 L195.2,608.9 L194.4,611.9 L193.7,614.9 L193.0,617.9 L192.4,620.9 L191.8,624.0 L191.3,627.0 L190.9,630.1 L190.5,633.1 L190.2,636.2 L189.9,639.3 L189.6,642.4 L189.5,645.4 L189.3,648.5 L189.3,651.6 L189.3,654.7 L189.3,657.8 L189.4,660.9 L189.5,664.0 L189.8,667.1 L190.0,670.1 L190.3,673.2 L190.7,676.3 L191.1,679.3 L191.6,682.3 L192.2,685.4 L192.8,688.4 L193.4,691.4 L194.1,694.4 L194.9,697.3 L195.7,700.3 L196.6,703.2 L197.5,706.1 L198.5,709.0 L199.6,711.9 L200.7,714.7 L201.8,717.5 L203.1,720.3 L204.3,723.0 L205.7,725.8 L207.0,728.5 L208.5,731.1 L210.0,733.8 L211.6,736.4 L213.2,739.0 L214.9,741.5 L216.6,744.0 L218.4,746.4 L220.2,748.9 L222.1,751.2 L224.1,753.6 L226.1,755.9 L228.2,758.1 L230.3,760.3 L232.5,762.4 L234.8,764.6 L237.1,766.6 L239.5,768.6 L241.9,770.6 L244.4,772.5 L246.9,774.3 L249.6,776.1 L252.2,777.8 L254.9,779.5 L257.7,781.1 L260.6,782.7 L259.2,788.5" class="ln"/>
<path d="M309.3,505.6 L308.6,511.2 L306.2,513.9 L303.8,516.7 L301.5,519.6 L299.3,522.4 L297.1,525.4 L295.0,528.3 L293.0,531.3 L291.0,534.3 L289.1,537.4 L287.3,540.4 L285.5,543.6 L283.7,546.7 L282.0,549.9 L280.4,553.1 L278.9,556.3 L277.3,559.6 L275.9,562.9 L274.5,566.2 L273.1,569.6 L271.8,572.9 L270.5,576.3 L269.3,579.7 L268.1,583.1 L267.0,586.6 L265.9,590.1 L264.9,593.5 L263.9,597.0 L263.0,600.5 L262.1,604.1 L261.2,607.6 L260.4,611.2 L259.6,614.8 L258.8,618.3 L258.1,621.9 L257.4,625.5 L256.7,629.1 L256.1,632.7 L255.5,636.4 L255.0,640.0 L254.5,643.6 L254.0,647.3 L253.5,650.9 L253.1,654.6 L252.8,658.2 L252.4,661.9 L252.1,665.5 L251.9,669.2 L251.7,672.8 L251.5,676.5 L251.4,680.1 L251.3,683.8 L251.2,687.5 L251.2,691.1 L251.2,694.8 L251.3,698.4 L251.4,702.1 L251.5,705.7 L251.7,709.3 L251.9,713.0 L252.2,716.6 L252.5,720.2 L252.8,723.8 L253.2,727.4 L253.7,731.0 L254.2,734.6 L254.7,738.2 L255.3,741.7 L255.9,745.3 L256.5,748.8 L257.3,752.4 L258.0,755.9 L258.8,759.4 L259.7,762.9 L260.5,766.3 L261.5,769.8 L262.5,773.2 L263.5,776.6 L264.6,780.1 L265.7,783.4 L264.5,789.7" class="ln"/>
<path d="M336.6,511.4 L334.7,517.3 L337.3,520.3 L339.8,523.4 L342.2,526.5 L344.5,529.7 L346.8,533.0 L348.9,536.3 L351.0,539.6 L352.9,543.0 L354.8,546.5 L356.5,550.0 L358.2,553.6 L359.8,557.2 L361.3,560.8 L362.7,564.5 L364.0,568.2 L365.2,571.9 L366.4,575.7 L367.4,579.5 L368.4,583.3 L369.2,587.2 L370.0,591.1 L370.7,595.0 L371.3,598.9 L371.9,602.9 L372.3,606.8 L372.6,610.8 L372.9,614.8 L373.1,618.8 L373.2,622.8 L373.2,626.8 L373.1,630.8 L372.9,634.8 L372.7,638.8 L372.4,642.8 L372.0,646.8 L371.5,650.8 L370.9,654.8 L370.3,658.8 L369.5,662.7 L368.7,666.7 L367.8,670.6 L366.9,674.5 L365.8,678.4 L364.7,682.2 L363.5,686.1 L362.2,689.9 L360.8,693.6 L359.4,697.4 L357.8,701.1 L356.2,704.8 L354.6,708.4 L352.8,712.0 L351.0,715.5 L349.1,719.0 L347.1,722.4 L345.1,725.8 L342.9,729.2 L340.8,732.5 L338.5,735.7 L336.1,738.9 L333.7,742.0 L331.2,745.1 L328.7,748.1 L326.0,751.0 L323.3,753.9 L320.6,756.6 L317.7,759.4 L314.8,762.0 L311.8,764.5 L308.8,767.0 L305.7,769.4 L302.5,771.7 L299.2,774.0 L295.9,776.1 L292.5,778.2 L289.1,780.1 L285.5,782.0 L282.0,783.8 L278.3,785.5 L277.6,791.7" class="ln"/>
<path d="M359.2,520.8 L356.2,526.6 L359.6,529.3 L362.9,532.1 L366.1,535.0 L369.2,538.0 L372.1,541.1 L374.9,544.2 L377.6,547.4 L380.2,550.7 L382.6,554.1 L385.0,557.5 L387.2,561.0 L389.3,564.6 L391.3,568.2 L393.1,571.9 L394.9,575.6 L396.5,579.3 L398.0,583.1 L399.4,587.0 L400.7,590.9 L401.9,594.8 L403.0,598.8 L403.9,602.8 L404.8,606.8 L405.5,610.9 L406.1,614.9 L406.6,619.0 L407.0,623.1 L407.3,627.2 L407.5,631.4 L407.6,635.5 L407.6,639.6 L407.5,643.8 L407.2,647.9 L406.9,652.1 L406.5,656.2 L405.9,660.3 L405.3,664.4 L404.5,668.5 L403.7,672.5 L402.7,676.6 L401.7,680.6 L400.5,684.6 L399.3,688.5 L398.0,692.5 L396.5,696.3 L395.0,700.2 L393.3,704.0 L391.6,707.7 L389.8,711.4 L387.9,715.1 L385.9,718.7 L383.8,722.2 L381.6,725.7 L379.3,729.1 L376.9,732.4 L374.4,735.7 L371.9,738.9 L369.2,742.0 L366.5,745.0 L363.7,748.0 L360.8,750.8 L357.8,753.6 L354.7,756.3 L351.5,758.9 L348.2,761.4 L344.9,763.8 L341.5,766.1 L338.0,768.3 L334.4,770.4 L330.7,772.3 L327.0,774.2 L323.1,775.9 L319.2,777.5 L315.2,779.0 L311.2,780.4 L307.0,781.6 L302.8,782.7 L298.5,783.7 L294.1,784.5 L294.2,792.5" class="ln"/>
<path d="M364.0,523.3 L360.6,529.4 L363.5,531.3 L366.4,533.4 L369.2,535.4 L371.9,537.6 L374.5,539.8 L377.0,542.1 L379.5,544.4 L381.9,546.8 L384.2,549.2 L386.5,551.7 L388.7,554.2 L390.8,556.8 L392.8,559.5 L394.7,562.2 L396.6,564.9 L398.4,567.7 L400.1,570.5 L401.7,573.3 L403.3,576.2 L404.8,579.1 L406.2,582.1 L407.5,585.1 L408.8,588.1 L410.0,591.1 L411.1,594.2 L412.1,597.3 L413.1,600.4 L414.0,603.6 L414.8,606.7 L415.5,609.9 L416.2,613.1 L416.8,616.4 L417.3,619.6 L417.7,622.8 L418.1,626.1 L418.4,629.3 L418.6,632.6 L418.7,635.9 L418.8,639.1 L418.8,642.4 L418.7,645.7 L418.5,649.0 L418.3,652.2 L418.0,655.5 L417.6,658.8 L417.2,662.0 L416.6,665.3 L416.0,668.5 L415.4,671.7 L414.6,674.9 L413.8,678.1 L413.0,681.3 L412.0,684.4 L411.0,687.6 L410.0,690.7 L408.8,693.8 L407.6,696.8 L406.4,699.9 L405.0,702.9 L403.6,705.9 L402.2,708.8 L400.7,711.7 L399.1,714.6 L397.4,717.5 L395.7,720.3 L394.0,723.1 L392.1,725.8 L390.3,728.5 L388.3,731.1 L386.3,733.8 L384.3,736.3 L382.1,738.8 L380.0,741.3 L377.7,743.7 L375.5,746.1 L373.1,748.4 L370.7,750.7 L368.3,752.9 L365.8,755.0 L363.2,757.1 L360.6,759.1 L358.0,761.1 L355.3,763.0 L352.5,764.8 L349.7,766.6 L346.9,768.3 L344.0,769.9 L341.0,771.5 L338.0,773.0 L335.0,774.4 L331.9,775.7 L328.8,777.0 L325.6,778.2 L322.4,779.3 L319.1,780.3 L315.8,781.3 L312.5,782.1 L309.1,782.9 L305.6,783.6 L306.4,791.9" class="ln"/>
<path d="M379.1,533.1 L375.3,538.2 L377.9,540.3 L380.5,542.4 L382.9,544.5 L385.3,546.7 L387.6,549.0 L389.9,551.3 L392.1,553.6 L394.2,556.0 L396.2,558.5 L398.1,560.9 L400.0,563.5 L401.8,566.0 L403.5,568.6 L405.2,571.2 L406.7,573.9 L408.2,576.6 L409.7,579.3 L411.0,582.1 L412.3,584.9 L413.5,587.7 L414.7,590.5 L415.8,593.4 L416.8,596.3 L417.7,599.2 L418.6,602.1 L419.4,605.1 L420.1,608.1 L420.8,611.0 L421.3,614.0 L421.9,617.1 L422.3,620.1 L422.7,623.1 L423.0,626.2 L423.3,629.2 L423.5,632.3 L423.6,635.4 L423.7,638.5 L423.7,641.5 L423.6,644.6 L423.5,647.7 L423.3,650.8 L423.0,653.9 L422.7,656.9 L422.3,660.0 L421.8,663.1 L421.3,666.1 L420.8,669.1 L420.1,672.2 L419.4,675.2 L418.7,678.2 L417.9,681.2 L417.0,684.2 L416.1,687.1 L415.1,690.1 L414.0,693.0 L412.9,695.9 L411.8,698.8 L410.5,701.6 L409.3,704.5 L407.9,707.3 L406.5,710.0 L405.1,712.8 L403.6,715.5 L402.0,718.2 L400.4,720.8 L398.8,723.4 L397.1,726.0 L395.3,728.6 L393.5,731.1 L391.6,733.5 L389.7,736.0 L387.8,738.3 L385.7,740.7 L383.7,743.0 L381.6,745.2 L379.4,747.4 L377.2,749.6 L374.9,751.7 L372.6,753.8 L370.3,755.8 L367.9,757.7 L365.4,759.6 L363.0,761.4 L360.4,763.2 L357.9,764.9 L355.2,766.6 L352.6,768.2 L349.9,769.7 L347.1,771.2 L344.3,772.6 L341.5,774.0 L338.6,775.2 L335.7,776.4 L332.7,777.6 L329.8,778.6 L326.7,779.6 L323.6,780.5 L320.5,781.4 L317.4,782.1 L318.9,790.2" class="ln"/>
<path d="M379.1,533.1 L375.5,538.0 L378.1,540.0 L380.7,542.1 L383.2,544.2 L385.6,546.4 L387.9,548.7 L390.2,551.0 L392.4,553.3 L394.6,555.7 L396.6,558.1 L398.6,560.5 L400.6,563.0 L402.4,565.5 L404.2,568.1 L405.9,570.7 L407.6,573.4 L409.1,576.0 L410.7,578.7 L412.1,581.5 L413.5,584.3 L414.8,587.1 L416.0,589.9 L417.2,592.7 L418.3,595.6 L419.4,598.5 L420.3,601.5 L421.2,604.4 L422.1,607.4 L422.8,610.4 L423.5,613.5 L424.2,616.5 L424.7,619.6 L425.2,622.6 L425.7,625.7 L426.0,628.8 L426.3,632.0 L426.5,635.1 L426.7,638.2 L426.8,641.4 L426.8,644.5 L426.7,647.7 L426.6,650.8 L426.4,654.0 L426.1,657.1 L425.8,660.3 L425.4,663.5 L424.9,666.6 L424.4,669.7 L423.8,672.9 L423.1,676.0 L422.4,679.1 L421.6,682.2 L420.7,685.2 L419.7,688.3 L418.7,691.3 L417.7,694.3 L416.5,697.3 L415.3,700.3 L414.0,703.2 L412.7,706.1 L411.3,709.0 L409.9,711.8 L408.4,714.6 L406.8,717.4 L405.1,720.1 L403.5,722.8 L401.7,725.5 L399.9,728.1 L398.0,730.7 L396.1,733.2 L394.2,735.7 L392.1,738.2 L390.1,740.5 L388.0,742.9 L385.8,745.2 L383.6,747.4 L381.3,749.6 L379.0,751.7 L376.6,753.8 L374.2,755.8 L371.8,757.8 L369.3,759.7 L366.7,761.6 L364.2,763.4 L361.5,765.1 L358.9,766.8 L356.2,768.4 L353.4,769.9 L350.6,771.4 L347.8,772.8 L345.0,774.2 L342.1,775.5 L339.1,776.7 L336.2,777.8 L333.2,778.9 L330.1,779.9 L327.0,780.8 L323.9,781.7 L320.8,782.5 L317.6,783.2 L318.9,790.2" class="ln"/>
<path d="M379.1,533.1 L375.6,537.8 L378.2,539.8 L380.8,541.9 L383.3,544.0 L385.8,546.2 L388.2,548.5 L390.5,550.7 L392.7,553.0 L394.9,555.4 L397.0,557.8 L399.0,560.2 L400.9,562.7 L402.8,565.2 L404.7,567.8 L406.4,570.4 L408.1,573.0 L409.8,575.6 L411.3,578.3 L412.9,581.1 L414.3,583.8 L415.7,586.6 L417.0,589.4 L418.2,592.3 L419.4,595.2 L420.5,598.1 L421.6,601.0 L422.5,604.0 L423.4,607.0 L424.3,610.0 L425.1,613.0 L425.8,616.1 L426.4,619.2 L427.0,622.3 L427.5,625.4 L427.9,628.6 L428.3,631.7 L428.6,634.9 L428.8,638.1 L428.9,641.3 L429.0,644.5 L429.0,647.7 L428.9,650.9 L428.8,654.1 L428.6,657.3 L428.3,660.5 L427.9,663.7 L427.4,666.9 L426.9,670.1 L426.3,673.3 L425.7,676.5 L424.9,679.7 L424.1,682.8 L423.3,686.0 L422.3,689.1 L421.3,692.2 L420.2,695.3 L419.0,698.3 L417.8,701.3 L416.5,704.3 L415.1,707.3 L413.7,710.2 L412.2,713.1 L410.6,715.9 L409.0,718.8 L407.3,721.5 L405.6,724.3 L403.8,727.0 L401.9,729.6 L400.0,732.2 L398.0,734.7 L395.9,737.2 L393.8,739.7 L391.7,742.1 L389.5,744.4 L387.3,746.7 L385.0,748.9 L382.6,751.1 L380.2,753.2 L377.8,755.3 L375.3,757.3 L372.8,759.3 L370.2,761.1 L367.6,763.0 L365.0,764.7 L362.3,766.4 L359.6,768.1 L356.8,769.6 L354.0,771.1 L351.2,772.6 L348.3,774.0 L345.4,775.3 L342.5,776.5 L339.5,777.7 L336.5,778.8 L333.4,779.8 L330.4,780.8 L327.2,781.7 L324.1,782.5 L320.9,783.2 L317.7,783.9 L318.9,790.2" class="ln"/>
<path d="M379.1,533.1 L375.7,537.6 L378.4,539.7 L380.9,541.8 L383.5,543.9 L385.9,546.1 L388.3,548.3 L390.6,550.6 L392.9,552.9 L395.1,555.2 L397.2,557.6 L399.2,560.0 L401.2,562.5 L403.2,565.0 L405.0,567.5 L406.8,570.1 L408.6,572.7 L410.2,575.4 L411.8,578.0 L413.4,580.8 L414.9,583.5 L416.3,586.3 L417.6,589.1 L418.9,592.0 L420.2,594.8 L421.3,597.8 L422.4,600.7 L423.5,603.7 L424.4,606.7 L425.3,609.7 L426.2,612.7 L426.9,615.8 L427.6,618.9 L428.2,622.0 L428.8,625.2 L429.3,628.4 L429.7,631.5 L430.0,634.7 L430.3,637.9 L430.5,641.2 L430.6,644.4 L430.6,647.6 L430.6,650.9 L430.5,654.2 L430.3,657.4 L430.0,660.7 L429.7,663.9 L429.2,667.2 L428.7,670.4 L428.2,673.7 L427.5,676.9 L426.8,680.1 L426.0,683.3 L425.1,686.5 L424.1,689.7 L423.1,692.8 L422.0,695.9 L420.8,699.0 L419.6,702.1 L418.3,705.1 L416.9,708.1 L415.4,711.1 L413.9,714.0 L412.3,716.9 L410.6,719.7 L408.9,722.5 L407.1,725.3 L405.2,728.0 L403.3,730.6 L401.3,733.3 L399.3,735.8 L397.2,738.3 L395.1,740.8 L392.9,743.2 L390.6,745.5 L388.3,747.8 L386.0,750.0 L383.6,752.2 L381.1,754.3 L378.7,756.4 L376.1,758.4 L373.6,760.3 L370.9,762.2 L368.3,764.0 L365.6,765.7 L362.9,767.4 L360.1,769.0 L357.3,770.5 L354.5,772.0 L351.6,773.4 L348.7,774.8 L345.7,776.0 L342.8,777.3 L339.8,778.4 L336.7,779.5 L333.6,780.5 L330.5,781.4 L327.4,782.3 L324.2,783.1 L321.0,783.8 L317.8,784.4 L318.9,790.2" class="ln"/>
<path d="M434.4,648.6 L434.4,651.1 L434.3,653.5 L434.2,656.0 L434.0,658.4 L433.8,660.9 L433.6,663.4 L433.3,665.8 L433.0,668.2 L432.6,670.7 L432.2,673.1 L431.8,675.5 L431.3,678.0 L430.7,680.4 L430.2,682.8 L429.6,685.1 L428.9,687.5 L428.2,689.9 L427.5,692.2 L426.7,694.6 L425.8,696.9 L425.0,699.2 L424.1,701.5 L423.1,703.8 L422.1,706.0 L421.1,708.3 L420.1,710.5 L419.0,712.7 L417.8,714.9 L416.6,717.0 L415.4,719.2 L414.2,721.3 L412.9,723.4 L411.6,725.5 L410.2,727.5 L408.8,729.6 L407.4,731.6 L405.9,733.6 L404.4,735.5 L402.9,737.4 L401.3,739.3 L399.7,741.2 L398.1,743.1 L396.4,744.9 L394.7,746.7 L393.0,748.4 L391.2,750.1 L389.4,751.8 L387.6,753.5 L385.7,755.1 L383.9,756.7 L382.0,758.3 L380.0,759.8 L378.1,761.3 L376.1,762.8 L374.1,764.2 L372.1,765.6 L370.0,767.0 L367.9,768.3 L365.8,769.6 L363.7,770.9 L361.5,772.1 L359.4,773.2 L357.2,774.4 L355.0,775.5 L352.7,776.5 L350.5,777.6 L348.2,778.5 L346.0,779.5 L343.7,780.4 L341.4,781.3 L339.0,782.1 L336.7,782.9 L334.3,783.6 L332.0,784.3 L329.6,785.0 L327.2,785.6 L324.8,786.1 L322.4,786.7 L320.0,787.2 L317.5,787.6 L315.1,788.0 L312.7,788.4 L310.2,788.7 L307.8,789.0 L305.3,789.2 L302.9,789.4 L300.4,789.6 L297.9,789.7 L295.5,789.7 L293.0,789.8 L290.5,789.7 L288.1,789.7 L285.6,789.6 L283.1,789.4 L280.7,789.2 L278.2,789.0 L275.8,788.7 L273.3,788.4 L270.9,788.0 L268.5,787.6 L266.0,787.2 L263.6,786.7 L261.2,786.1 L258.8,785.6 L256.4,785.0 L254.0,784.3 L251.7,783.6 L249.3,782.9 L247.0,782.1 L244.6,781.3 L242.3,780.4 L240.0,779.5 L237.8,778.5 L235.5,777.6 L233.3,776.5 L231.0,775.5 L228.8,774.4 L226.6,773.2 L224.5,772.1 L222.3,770.9 L220.2,769.6 L218.1,768.3 L216.0,767.0 L213.9,765.6 L211.9,764.2 L209.9,762.8 L207.9,761.3 L206.0,759.8 L204.0,758.3 L202.1,756.7 L200.3,755.1 L198.4,753.5 L196.6,751.8 L194.8,750.1 L193.0,748.4 L191.3,746.7 L189.6,744.9 L187.9,743.1 L186.3,741.2 L184.7,739.3 L183.1,737.4 L181.6,735.5 L180.1,733.6 L178.6,731.6 L177.2,729.6 L175.8,727.5 L174.4,725.5 L173.1,723.4 L171.8,721.3 L170.6,719.2 L169.4,717.0 L168.2,714.9 L167.0,712.7 L165.9,710.5 L164.9,708.3 L163.9,706.0 L162.9,703.8 L161.9,701.5 L161.0,699.2 L160.2,696.9 L159.3,694.6 L158.5,692.2 L157.8,689.9 L157.1,687.5 L156.4,685.1 L155.8,682.8 L155.3,680.4 L154.7,678.0 L154.2,675.5 L153.8,673.1 L153.4,670.7 L153.0,668.2 L152.7,665.8 L152.4,663.4 L152.2,660.9 L152.0,658.4 L151.8,656.0 L151.7,653.5 L151.6,651.1 L151.6,648.6 L151.6,646.1 L151.7,643.7 L151.8,641.2 L152.0,638.8 L152.2,636.3 L152.4,633.8 L152.7,631.4 L153.0,629.0 L153.4,626.5 L153.8,624.1 L154.2,621.7 L154.7,619.2 L155.3,616.8 L155.8,614.4 L156.4,612.1 L157.1,609.7 L157.8,607.3 L158.5,605.0 L159.3,602.6 L160.2,600.3 L161.0,598.0 L161.9,595.7 L162.9,593.4 L163.9,591.2 L164.9,588.9 L165.9,586.7 L167.0,584.5 L168.2,582.3 L169.4,580.2 L170.6,578.0 L171.8,575.9 L173.1,573.8 L174.4,571.7 L175.8,569.7 L177.2,567.6 L178.6,565.6 L180.1,563.6 L181.6,561.7 L183.1,559.8 L184.7,557.9 L186.3,556.0 L187.9,554.1 L189.6,552.3 L191.3,550.5 L193.0,548.8 L194.8,547.1 L196.6,545.4 L198.4,543.7 L200.3,542.1 L202.1,540.5 L204.0,538.9 L206.0,537.4 L207.9,535.9 L209.9,534.4 L211.9,533.0 L213.9,531.6 L216.0,530.2 L218.1,528.9 L220.2,527.6 L222.3,526.3 L224.5,525.1 L226.6,524.0 L228.8,522.8 L231.0,521.7 L233.3,520.7 L235.5,519.6 L237.8,518.7 L240.0,517.7 L242.3,516.8 L244.6,515.9 L247.0,515.1 L249.3,514.3 L251.7,513.6 L254.0,512.9 L256.4,512.2 L258.8,511.6 L261.2,511.1 L263.6,510.5 L266.0,510.0 L268.5,509.6 L270.9,509.2 L273.3,508.8 L275.8,508.5 L278.2,508.2 L280.7,508.0 L283.1,507.8 L285.6,507.6 L288.1,507.5 L290.5,507.5 L293.0,507.4 L295.5,507.5 L297.9,507.5 L300.4,507.6 L302.9,507.8 L305.3,508.0 L307.8,508.2 L310.2,508.5 L312.7,508.8 L315.1,509.2 L317.5,509.6 L320.0,510.0 L322.4,510.5 L324.8,511.1 L327.2,511.6 L329.6,512.2 L332.0,512.9 L334.3,513.6 L336.7,514.3 L339.0,515.1 L341.4,515.9 L343.7,516.8 L346.0,517.7 L348.2,518.7 L350.5,519.6 L352.7,520.7 L355.0,521.7 L357.2,522.8 L359.4,524.0 L361.5,525.1 L363.7,526.3 L365.8,527.6 L367.9,528.9 L370.0,530.2 L372.1,531.6 L374.1,533.0 L376.1,534.4 L378.1,535.9 L380.0,537.4 L382.0,538.9 L383.9,540.5 L385.7,542.1 L387.6,543.7 L389.4,545.4 L391.2,547.1 L393.0,548.8 L394.7,550.5 L396.4,552.3 L398.1,554.1 L399.7,556.0 L401.3,557.9 L402.9,559.8 L404.4,561.7 L405.9,563.6 L407.4,565.6 L408.8,567.6 L410.2,569.7 L411.6,571.7 L412.9,573.8 L414.2,575.9 L415.4,578.0 L416.6,580.2 L417.8,582.3 L419.0,584.5 L420.1,586.7 L421.1,588.9 L422.1,591.2 L423.1,593.4 L424.1,595.7 L425.0,598.0 L425.8,600.3 L426.7,602.6 L427.5,605.0 L428.2,607.3 L428.9,609.7 L429.6,612.1 L430.2,614.4 L430.7,616.8 L431.3,619.2 L431.8,621.7 L432.2,624.1 L432.6,626.5 L433.0,629.0 L433.3,631.4 L433.6,633.8 L433.8,636.3 L434.0,638.8 L434.2,641.2 L434.3,643.7 L434.4,646.1 L434.4,648.6Z M429.1,648.6 L429.1,646.2 L429.1,643.9 L429.0,641.5 L428.8,639.1 L428.7,636.7 L428.5,634.4 L428.2,632.0 L427.9,629.7 L427.6,627.3 L427.2,625.0 L426.8,622.6 L426.4,620.3 L425.9,618.0 L425.3,615.7 L424.8,613.3 L424.1,611.1 L423.5,608.8 L422.8,606.5 L422.0,604.2 L421.3,602.0 L420.5,599.7 L419.6,597.5 L418.7,595.3 L417.8,593.1 L416.8,591.0 L415.8,588.8 L414.7,586.7 L413.7,584.5 L412.5,582.4 L411.4,580.3 L410.2,578.3 L409.0,576.2 L407.7,574.2 L406.4,572.2 L405.1,570.3 L403.7,568.3 L402.3,566.4 L400.8,564.5 L399.4,562.6 L397.9,560.7 L396.3,558.9 L394.8,557.1 L393.2,555.3 L391.5,553.6 L389.9,551.9 L388.2,550.2 L386.5,548.5 L384.7,546.9 L382.9,545.3 L381.1,543.7 L379.3,542.2 L377.4,540.7 L375.5,539.2 L373.6,537.8 L371.7,536.4 L369.7,535.0 L367.8,533.7 L365.8,532.3 L363.7,531.0 L361.7,529.8 L359.6,528.6 L357.6,527.4 L355.4,526.2 L353.3,525.1 L351.2,524.1 L349.0,523.1 L346.8,522.1 L344.5,521.2 L342.3,520.3 L340.1,519.5 L337.8,518.7 L335.5,517.9 L333.2,517.2 L330.9,516.5 L328.6,515.9 L326.3,515.3 L324.0,514.7 L321.6,514.2 L319.3,513.7 L316.9,513.3 L314.5,512.9 L312.2,512.5 L309.8,512.2 L307.4,512.0 L305.0,511.7 L302.6,511.5 L300.2,511.4 L297.8,511.3 L295.4,511.2 L293.0,511.2 L290.6,511.2 L288.2,511.3 L285.8,511.4 L283.4,511.5 L281.0,511.7 L278.6,512.0 L276.2,512.3 L273.9,512.6 L271.5,513.0 L269.1,513.4 L266.8,513.9 L264.4,514.4 L262.1,515.0 L259.8,515.6 L257.5,516.2 L255.2,516.9 L252.9,517.6 L250.6,518.3 L248.3,519.1 L246.1,519.9 L243.9,520.8 L241.6,521.7 L239.4,522.6 L237.3,523.6 L235.1,524.6 L232.9,525.6 L230.8,526.7 L228.7,527.9 L226.6,529.0 L224.6,530.2 L222.5,531.4 L220.5,532.7 L218.5,534.0 L216.5,535.3 L214.5,536.6 L212.6,538.0 L210.6,539.5 L208.7,540.9 L206.9,542.4 L205.0,543.9 L203.2,545.5 L201.5,547.1 L199.7,548.7 L198.0,550.3 L196.3,552.0 L194.6,553.7 L193.0,555.4 L191.4,557.2 L189.8,559.0 L188.2,560.8 L186.7,562.7 L185.2,564.5 L183.8,566.4 L182.4,568.3 L181.0,570.3 L179.6,572.3 L178.3,574.2 L177.1,576.3 L175.8,578.3 L174.6,580.3 L173.4,582.4 L172.3,584.5 L171.2,586.6 L170.1,588.8 L169.1,590.9 L168.1,593.1 L167.2,595.3 L166.3,597.5 L165.4,599.7 L164.6,601.9 L163.8,604.2 L163.0,606.4 L162.3,608.7 L161.6,611.0 L161.0,613.3 L160.4,615.6 L159.9,617.9 L159.3,620.2 L158.9,622.6 L158.4,624.9 L158.1,627.3 L157.7,629.6 L157.4,632.0 L157.1,634.3 L156.9,636.7 L156.7,639.1 L156.6,641.5 L156.5,643.8 L156.4,646.2 L156.4,648.6 L156.5,651.0 L156.6,653.4 L156.8,655.7 L157.0,658.1 L157.2,660.5 L157.5,662.8 L157.8,665.2 L158.2,667.5 L158.6,669.9 L159.1,672.2 L159.6,674.5 L160.1,676.8 L160.6,679.1 L161.3,681.4 L161.9,683.7 L162.6,685.9 L163.3,688.2 L164.1,690.4 L164.9,692.7 L165.7,694.9 L166.6,697.1 L167.5,699.2 L168.5,701.4 L169.5,703.5 L170.5,705.6 L171.6,707.7 L172.7,709.8 L173.8,711.9 L175.0,713.9 L176.2,716.0 L177.4,718.0 L178.6,720.0 L179.8,722.0 L181.1,724.0 L182.4,725.9 L183.8,727.8 L185.2,729.7 L186.6,731.6 L188.1,733.4 L189.6,735.3 L191.1,737.1 L192.6,738.8 L194.2,740.6 L195.8,742.3 L197.5,744.0 L199.1,745.7 L200.8,747.3 L202.6,748.9 L204.3,750.5 L206.1,752.0 L207.9,753.5 L209.8,755.0 L211.6,756.4 L213.5,757.8 L215.4,759.2 L217.4,760.6 L219.3,761.9 L221.3,763.2 L223.3,764.4 L225.4,765.6 L227.4,766.8 L229.4,768.0 L231.5,769.1 L233.6,770.2 L235.7,771.3 L237.8,772.3 L240.0,773.3 L242.1,774.3 L244.3,775.2 L246.5,776.1 L248.7,776.9 L251.0,777.8 L253.2,778.6 L255.4,779.5 L257.7,780.2 L259.9,781.0 L262.2,781.7 L264.5,782.4 L266.8,783.0 L269.2,783.6 L271.5,784.0 L273.9,784.4 L276.3,784.8 L278.6,785.1 L281.0,785.3 L283.4,785.5 L285.8,785.7 L288.2,785.9 L290.6,785.9 L293.0,786.0 L295.4,785.9 L297.8,785.9 L300.2,785.7 L302.6,785.5 L305.0,785.3 L307.4,785.1 L309.7,784.8 L312.1,784.4 L314.5,784.0 L316.8,783.6 L319.2,783.0 L321.5,782.4 L323.8,781.7 L326.1,781.0 L328.3,780.2 L330.6,779.5 L332.8,778.6 L335.0,777.8 L337.2,776.9 L339.4,776.0 L341.6,775.1 L343.8,774.1 L345.9,773.1 L348.1,772.1 L350.2,771.0 L352.3,769.9 L354.3,768.8 L356.4,767.6 L358.4,766.4 L360.4,765.2 L362.4,764.0 L364.4,762.7 L366.4,761.5 L368.4,760.2 L370.3,758.8 L372.2,757.4 L374.1,756.0 L375.9,754.6 L377.8,753.1 L379.6,751.6 L381.4,750.1 L383.1,748.5 L384.8,746.9 L386.5,745.3 L388.2,743.7 L389.8,742.0 L391.5,740.3 L393.0,738.5 L394.6,736.8 L396.1,735.0 L397.6,733.2 L399.1,731.4 L400.6,729.5 L402.0,727.7 L403.4,725.8 L404.7,723.9 L406.1,721.9 L407.3,719.9 L408.6,718.0 L409.8,716.0 L411.0,713.9 L412.2,711.9 L413.3,709.8 L414.4,707.7 L415.4,705.6 L416.4,703.5 L417.4,701.3 L418.3,699.2 L419.2,697.0 L420.0,694.8 L420.9,692.6 L421.7,690.3 L422.4,688.1 L423.1,685.9 L423.8,683.6 L424.4,681.3 L425.0,679.0 L425.6,676.7 L426.1,674.4 L426.6,672.1 L427.0,669.8 L427.4,667.5 L427.8,665.1 L428.1,662.8 L428.4,660.4 L428.6,658.1 L428.8,655.7 L428.9,653.3 L429.0,651.0 L429.1,648.6Z" fill="#000" fill-rule="evenodd"/>
</g>
<ellipse cx="293.0" cy="648.6" rx="138.0" ry="137.8" fill="none" stroke="#000" stroke-width="1.5" shape-rendering="crispEdges"/>
</g>
<g shape-rendering="crispEdges">
<rect x="155.5" y="511.5" width="276" height="274" fill="none" stroke="#000" stroke-width="1"/>
<rect x="192" y="512" width="1" height="3" fill="#000"/>
<rect x="192" y="782" width="1" height="3" fill="#000"/>
<rect x="269" y="512" width="1" height="3" fill="#000"/>
<rect x="269" y="782" width="1" height="3" fill="#000"/>
<rect x="347" y="512" width="1" height="3" fill="#000"/>
<rect x="347" y="782" width="1" height="3" fill="#000"/>
<rect x="424" y="512" width="1" height="3" fill="#000"/>
<rect x="424" y="782" width="1" height="3" fill="#000"/>
<rect x="156" y="586" width="3" height="1" fill="#000"/>
<rect x="428" y="586" width="3" height="1" fill="#000"/>
<rect x="156" y="663" width="3" height="1" fill="#000"/>
<rect x="428" y="663" width="3" height="1" fill="#000"/>
<rect x="156" y="740" width="3" height="1" fill="#000"/>
<rect x="428" y="740" width="3" height="1" fill="#000"/>
</g>
<g filter="url(#crisp)"><text transform="translate(192.5,818) scale(0.95,1.05)" class="t" text-anchor="middle">200</text></g>
<g filter="url(#crisp)"><text transform="translate(269.5,818) scale(0.95,1.05)" class="t" text-anchor="middle">300</text></g>
<g filter="url(#crisp)"><text transform="translate(347.5,818) scale(0.95,1.05)" class="t" text-anchor="middle">400</text></g>
<g filter="url(#crisp)"><text transform="translate(424.5,818) scale(0.95,1.05)" class="t" text-anchor="middle">500</text></g>
<g filter="url(#crisp)"><text transform="translate(149.5,597) scale(0.95,1.05)" class="t" text-anchor="end">300</text></g>
<g filter="url(#crisp)"><text transform="translate(149.5,674) scale(0.95,1.05)" class="t" text-anchor="end">200</text></g>
<g filter="url(#crisp)"><text transform="translate(149.5,751) scale(0.95,1.05)" class="t" text-anchor="end">100</text></g>
<g filter="url(#crisp)"><text x="292.5" y="494.5" class="t" text-anchor="middle" letter-spacing="0.12">Longitude 120 km</text></g>
<g shape-rendering="crispEdges">
<rect x="464" y="783" width="41" height="4" fill="#00008F"/>
<rect x="464" y="778" width="41" height="6" fill="#00009F"/>
<rect x="464" y="774" width="41" height="5" fill="#0000AF"/>
<rect x="464" y="770" width="41" height="5" fill="#0000BF"/>
<rect x="464" y="766" width="41" height="5" fill="#0000CF"/>
<rect x="464" y="761" width="41" height="6" fill="#0000DF"/>
<rect x="464" y="757" width="41" height="5" fill="#0000EF"/>
<rect x="464" y="753" width="41" height="5" fill="#0000FF"/>
<rect x="464" y="748" width="41" height="6" fill="#0010FF"/>
<rect x="464" y="744" width="41" height="5" fill="#0020FF"/>
<rect x="464" y="740" width="41" height="5" fill="#0030FF"/>
<rect x="464" y="736" width="41" height="5" fill="#0040FF"/>
<rect x="464" y="731" width="41" height="6" fill="#0050FF"/>
<rect x="464" y="727" width="41" height="5" fill="#0060FF"/>
<rect x="464" y="723" width="41" height="5" fill="#0070FF"/>
<rect x="464" y="718" width="41" height="6" fill="#0080FF"/>
<rect x="464" y="714" width="41" height="5" fill="#008FFF"/>
<rect x="464" y="710" width="41" height="5" fill="#009FFF"/>
<rect x="464" y="706" width="41" height="5" fill="#00AFFF"/>
<rect x="464" y="701" width="41" height="6" fill="#00BFFF"/>
<rect x="464" y="697" width="41" height="5" fill="#00CFFF"/>
<rect x="464" y="693" width="41" height="5" fill="#00DFFF"/>
<rect x="464" y="689" width="41" height="5" fill="#00EFFF"/>
<rect x="464" y="684" width="41" height="6" fill="#00FFFF"/>
<rect x="464" y="680" width="41" height="5" fill="#10FFEF"/>
<rect x="464" y="676" width="41" height="5" fill="#20FFDF"/>
<rect x="464" y="671" width="41" height="6" fill="#30FFCF"/>
<rect x="464" y="667" width="41" height="5" fill="#40FFBF"/>
<rect x="464" y="663" width="41" height="5" fill="#50FFAF"/>
<rect x="464" y="659" width="41" height="5" fill="#60FF9F"/>
<rect x="464" y="654" width="41" height="6" fill="#70FF8F"/>
<rect x="464" y="650" width="41" height="5" fill="#80FF80"/>
<rect x="464" y="646" width="41" height="5" fill="#8FFF70"/>
<rect x="464" y="641" width="41" height="6" fill="#9FFF60"/>
<rect x="464" y="637" width="41" height="5" fill="#AFFF50"/>
<rect x="464" y="633" width="41" height="5" fill="#BFFF40"/>
<rect x="464" y="629" width="41" height="5" fill="#CFFF30"/>
<rect x="464" y="624" width="41" height="6" fill="#DFFF20"/>
<rect x="464" y="620" width="41" height="5" fill="#EFFF10"/>
<rect x="464" y="616" width="41" height="5" fill="#FFFF00"/>
<rect x="464" y="611" width="41" height="6" fill="#FFEF00"/>
<rect x="464" y="607" width="41" height="5" fill="#FFDF00"/>
<rect x="464" y="603" width="41" height="5" fill="#FFCF00"/>
<rect x="464" y="599" width="41" height="5" fill="#FFBF00"/>
<rect x="464" y="594" width="41" height="6" fill="#FFAF00"/>
<rect x="464" y="590" width="41" height="5" fill="#FF9F00"/>
<rect x="464" y="586" width="41" height="5" fill="#FF8F00"/>
<rect x="464" y="582" width="41" height="5" fill="#FF8000"/>
<rect x="464" y="577" width="41" height="6" fill="#FF7000"/>
<rect x="464" y="573" width="41" height="5" fill="#FF6000"/>
<rect x="464" y="569" width="41" height="5" fill="#FF5000"/>
<rect x="464" y="564" width="41" height="6" fill="#FF4000"/>
<rect x="464" y="560" width="41" height="5" fill="#FF3000"/>
<rect x="464" y="556" width="41" height="5" fill="#FF2000"/>
<rect x="464" y="552" width="41" height="5" fill="#FF1000"/>
<rect x="464" y="547" width="41" height="6" fill="#FF0000"/>
<rect x="464" y="543" width="41" height="5" fill="#EF0000"/>
<rect x="464" y="539" width="41" height="5" fill="#DF0000"/>
<rect x="464" y="534" width="41" height="6" fill="#CF0000"/>
<rect x="464" y="530" width="41" height="5" fill="#BF0000"/>
<rect x="464" y="526" width="41" height="5" fill="#AF0000"/>
<rect x="464" y="522" width="41" height="5" fill="#9F0000"/>
<rect x="464" y="517" width="41" height="6" fill="#8F0000"/>
<rect x="464" y="513" width="41" height="5" fill="#800000"/>
<rect x="463.5" y="512.5" width="42" height="275" fill="none" stroke="#000" stroke-width="1"/>
<rect x="464" y="555" width="3" height="1" fill="#000"/>
<rect x="502" y="555" width="3" height="1" fill="#000"/>
<rect x="464" y="609" width="3" height="1" fill="#000"/>
<rect x="502" y="609" width="3" height="1" fill="#000"/>
<rect x="464" y="663" width="3" height="1" fill="#000"/>
<rect x="502" y="663" width="3" height="1" fill="#000"/>
<rect x="464" y="717" width="3" height="1" fill="#000"/>
<rect x="502" y="717" width="3" height="1" fill="#000"/>
<rect x="464" y="771" width="3" height="1" fill="#000"/>
<rect x="502" y="771" width="3" height="1" fill="#000"/>
</g>
<g filter="url(#crisp)"><text transform="translate(511,566) scale(0.95,1.05)" class="t" text-anchor="start">0</text></g>
<g filter="url(#crisp)"><text transform="translate(511,620) scale(0.95,1.05)" class="t" text-anchor="start">-10</text></g>
<g filter="url(#crisp)"><text transform="translate(511,674) scale(0.95,1.05)" class="t" text-anchor="start">-20</text></g>
<g filter="url(#crisp)"><text transform="translate(511,728) scale(0.95,1.05)" class="t" text-anchor="start">-30</text></g>
<g filter="url(#crisp)"><text transform="translate(511,782) scale(0.95,1.05)" class="t" text-anchor="start">-40</text></g>
<!-- latitude plot -->
<g clip-path="url(#r2)"><g clip-path="url(#c2)" shape-rendering="crispEdges">
<ellipse cx="821.7" cy="648.6" rx="138" ry="138.9" fill="#00009F"/>
<path d="M682.5,613.3 L687.9,614.6 L688.8,611.3 L689.8,608.0 L690.8,604.8 L692.0,601.6 L693.2,598.5 L694.4,595.4 L695.8,592.3 L697.2,589.3 L698.6,586.4 L700.2,583.5 L701.8,580.6 L703.5,577.8 L705.2,575.1 L707.0,572.3 L708.8,569.7 L710.7,567.0 L712.7,564.5 L714.8,561.9 L716.9,559.5 L719.0,557.0 L721.2,554.7 L723.5,552.3 L725.8,550.0 L728.2,547.8 L730.7,545.6 L733.2,543.5 L735.8,541.4 L738.4,539.4 L741.1,537.5 L743.8,535.6 L746.6,533.8 L749.4,532.0 L752.3,530.3 L755.3,528.6 L758.3,527.1 L761.3,525.6 L764.4,524.1 L767.6,522.7 L770.7,521.5 L774.0,520.2 L777.2,519.1 L780.5,518.0 L783.9,517.1 L787.3,516.2 L790.7,515.3 L794.1,514.6 L797.6,514.0 L801.0,513.4 L804.5,512.9 L808.1,512.6 L811.6,512.3 L815.1,512.1 L818.7,511.9 L822.2,511.9 L825.8,512.0 L829.4,512.2 L832.9,512.4 L836.5,512.8 L840.0,513.2 L843.5,513.7 L847.0,514.3 L850.5,515.0 L854.0,515.8 L857.4,516.7 L860.8,517.7 L864.2,518.7 L867.5,519.9 L870.9,521.1 L874.1,522.4 L877.4,523.8 L880.6,525.3 L883.7,526.8 L886.8,528.4 L889.9,530.1 L892.9,531.9 L895.9,533.8 L898.8,535.7 L901.6,537.7 L904.4,539.7 L907.2,541.9 L909.8,544.1 L912.5,546.3 L915.0,548.6 L917.5,551.0 L920.0,553.4 L922.3,555.9 L924.6,558.4 L926.8,561.0 L929.0,563.6 L931.1,566.3 L933.1,569.0 L935.1,571.8 L936.9,574.6 L938.7,577.4 L940.5,580.3 L942.1,583.2 L943.7,586.1 L945.2,589.0 L946.6,592.0 L948.0,595.0 L949.3,598.1 L950.5,601.1 L951.6,604.2 L952.7,607.3 L953.7,610.4 L954.6,613.6 L955.4,616.7 L956.1,619.9 L956.8,623.1 L957.4,626.3 L957.9,629.5 L958.4,632.7 L958.8,635.9 L959.1,639.1 L959.3,642.4 L959.4,645.7 L959.5,648.9 L959.5,652.2 L959.4,655.5 L965.0,655.8 L965.0,655.8 L964.5,662.7 L963.7,669.7 L962.5,676.6 L961.0,683.4 L959.2,690.1 L957.0,696.8 L954.5,703.3 L951.8,709.7 L948.7,716.0 L945.3,722.1 L941.6,728.0 L937.6,733.7 L933.4,739.3 L928.9,744.6 L924.2,749.7 L919.2,754.6 L914.0,759.2 L908.6,763.6 L902.9,767.7 L897.1,771.5 L891.1,775.0 L885.0,778.3 L878.7,781.2 L872.2,783.8 L865.7,786.1 L859.0,788.1 L852.3,789.7 L845.5,791.1 L838.6,792.1 L831.7,792.7 L824.7,793.0 L817.8,793.0 L810.8,792.6 L803.9,791.9 L797.1,790.9 L790.3,789.5 L783.5,787.9 L776.9,785.8 L770.3,783.5 L763.9,780.8 L757.6,777.9 L751.5,774.6 L745.5,771.0 L739.7,767.2 L734.1,763.0 L728.7,758.6 L723.5,754.0 L718.6,749.1 L713.9,743.9 L709.4,738.6 L705.2,733.0 L701.3,727.2 L697.7,721.3 L694.3,715.2 L691.3,708.9 L688.5,702.5 L686.1,695.9 L684.0,689.3 L682.2,682.5 L680.7,675.7 L679.6,668.8 L678.8,661.8 L678.3,654.9 L678.2,647.9 L678.4,640.9 L678.9,633.9 L679.8,627.0 L681.0,620.1 L682.5,613.3Z" fill="#0000DF"/>
<path d="M682.5,613.3 L687.8,614.6 L688.8,611.3 L689.8,608.0 L690.9,604.8 L692.1,601.6 L693.3,598.5 L694.6,595.4 L696.0,592.4 L697.4,589.4 L698.9,586.5 L700.5,583.6 L702.1,580.8 L703.8,578.0 L705.6,575.3 L707.4,572.6 L709.3,570.0 L711.2,567.4 L713.2,564.9 L715.3,562.4 L717.4,560.0 L719.6,557.6 L721.9,555.3 L724.2,553.0 L726.5,550.7 L728.9,548.6 L731.4,546.5 L733.9,544.4 L736.5,542.4 L739.2,540.4 L741.8,538.5 L744.6,536.7 L747.4,534.9 L750.2,533.2 L753.1,531.6 L756.1,530.0 L759.0,528.5 L762.1,527.1 L765.1,525.7 L768.3,524.4 L771.4,523.1 L774.6,522.0 L777.9,520.9 L781.1,519.9 L784.4,519.0 L787.8,518.1 L791.1,517.3 L794.5,516.6 L797.9,516.0 L801.4,515.5 L804.8,515.1 L808.3,514.7 L811.7,514.5 L815.2,514.3 L818.7,514.2 L822.2,514.2 L825.7,514.2 L829.2,514.4 L832.7,514.7 L836.2,515.0 L839.7,515.4 L843.2,516.0 L846.6,516.6 L850.0,517.2 L853.4,518.0 L856.8,518.9 L860.2,519.8 L863.5,520.8 L866.8,521.9 L870.1,523.1 L873.3,524.4 L876.5,525.7 L879.7,527.2 L882.8,528.7 L885.9,530.2 L888.9,531.9 L891.9,533.6 L894.8,535.4 L897.7,537.3 L900.5,539.2 L903.3,541.2 L906.0,543.3 L908.7,545.4 L911.3,547.6 L913.9,549.9 L916.3,552.2 L918.8,554.5 L921.1,557.0 L923.4,559.4 L925.7,562.0 L927.9,564.5 L930.0,567.1 L932.0,569.8 L934.0,572.5 L935.9,575.3 L937.7,578.0 L939.4,580.8 L941.1,583.7 L942.7,586.6 L944.3,589.5 L945.7,592.4 L947.1,595.4 L948.4,598.4 L949.7,601.4 L950.9,604.5 L951.9,607.5 L953.0,610.6 L953.9,613.7 L954.8,616.9 L955.6,620.0 L956.3,623.2 L956.9,626.3 L957.5,629.5 L958.0,632.7 L958.4,635.9 L958.7,639.2 L959.0,642.4 L959.2,645.7 L959.3,648.9 L959.3,652.2 L959.2,655.5 L965.0,655.8 L965.0,655.8 L964.5,662.7 L963.7,669.7 L962.5,676.6 L961.0,683.4 L959.2,690.1 L957.0,696.8 L954.5,703.3 L951.8,709.7 L948.7,716.0 L945.3,722.1 L941.6,728.0 L937.6,733.7 L933.4,739.3 L928.9,744.6 L924.2,749.7 L919.2,754.6 L914.0,759.2 L908.6,763.6 L902.9,767.7 L897.1,771.5 L891.1,775.0 L885.0,778.3 L878.7,781.2 L872.2,783.8 L865.7,786.1 L859.0,788.1 L852.3,789.7 L845.5,791.1 L838.6,792.1 L831.7,792.7 L824.7,793.0 L817.8,793.0 L810.8,792.6 L803.9,791.9 L797.1,790.9 L790.3,789.5 L783.5,787.9 L776.9,785.8 L770.3,783.5 L763.9,780.8 L757.6,777.9 L751.5,774.6 L745.5,771.0 L739.7,767.2 L734.1,763.0 L728.7,758.6 L723.5,754.0 L718.6,749.1 L713.9,743.9 L709.4,738.6 L705.2,733.0 L701.3,727.2 L697.7,721.3 L694.3,715.2 L691.3,708.9 L688.5,702.5 L686.1,695.9 L684.0,689.3 L682.2,682.5 L680.7,675.7 L679.6,668.8 L678.8,661.8 L678.3,654.9 L678.2,647.9 L678.4,640.9 L678.9,633.9 L679.8,627.0 L681.0,620.1 L682.5,613.3Z" fill="#0020FF"/>
<path d="M682.5,613.3 L687.8,614.6 L688.8,611.3 L689.8,608.0 L691.0,604.8 L692.2,601.7 L693.4,598.6 L694.8,595.5 L696.2,592.5 L697.7,589.6 L699.2,586.7 L700.8,583.8 L702.5,581.0 L704.2,578.3 L706.0,575.6 L707.9,573.0 L709.8,570.4 L711.8,567.8 L713.9,565.4 L716.0,562.9 L718.1,560.6 L720.4,558.2 L722.6,556.0 L725.0,553.7 L727.3,551.6 L729.8,549.5 L732.3,547.4 L734.8,545.4 L737.4,543.5 L740.1,541.6 L742.8,539.8 L745.5,538.1 L748.3,536.4 L751.1,534.7 L754.0,533.2 L757.0,531.7 L759.9,530.2 L763.0,528.9 L766.0,527.6 L769.1,526.3 L772.2,525.2 L775.4,524.1 L778.6,523.0 L781.8,522.1 L785.1,521.2 L788.4,520.4 L791.7,519.7 L795.0,519.1 L798.4,518.5 L801.7,518.0 L805.1,517.6 L808.5,517.3 L811.9,517.1 L815.4,516.9 L818.8,516.8 L822.2,516.8 L825.7,516.9 L829.1,517.1 L832.5,517.4 L835.9,517.7 L839.3,518.1 L842.7,518.6 L846.1,519.2 L849.5,519.9 L852.8,520.6 L856.1,521.4 L859.4,522.3 L862.7,523.3 L865.9,524.4 L869.2,525.5 L872.3,526.8 L875.5,528.1 L878.6,529.4 L881.7,530.9 L884.7,532.4 L887.7,534.0 L890.6,535.6 L893.5,537.4 L896.4,539.2 L899.2,541.1 L901.9,543.0 L904.7,545.0 L907.3,547.1 L909.9,549.2 L912.5,551.4 L914.9,553.6 L917.4,555.9 L919.7,558.3 L922.0,560.7 L924.3,563.1 L926.5,565.6 L928.6,568.2 L930.7,570.8 L932.6,573.4 L934.6,576.1 L936.4,578.8 L938.2,581.6 L939.9,584.4 L941.6,587.2 L943.1,590.0 L944.6,592.9 L946.1,595.9 L947.4,598.8 L948.7,601.8 L949.9,604.8 L951.1,607.8 L952.2,610.9 L953.1,613.9 L954.1,617.0 L954.9,620.1 L955.7,623.3 L956.4,626.4 L957.0,629.6 L957.5,632.8 L958.0,636.0 L958.3,639.2 L958.6,642.4 L958.9,645.7 L959.0,648.9 L959.0,652.2 L959.0,655.5 L965.0,655.8 L965.0,655.8 L964.5,662.7 L963.7,669.7 L962.5,676.6 L961.0,683.4 L959.2,690.1 L957.0,696.8 L954.5,703.3 L951.8,709.7 L948.7,716.0 L945.3,722.1 L941.6,728.0 L937.6,733.7 L933.4,739.3 L928.9,744.6 L924.2,749.7 L919.2,754.6 L914.0,759.2 L908.6,763.6 L902.9,767.7 L897.1,771.5 L891.1,775.0 L885.0,778.3 L878.7,781.2 L872.2,783.8 L865.7,786.1 L859.0,788.1 L852.3,789.7 L845.5,791.1 L838.6,792.1 L831.7,792.7 L824.7,793.0 L817.8,793.0 L810.8,792.6 L803.9,791.9 L797.1,790.9 L790.3,789.5 L783.5,787.9 L776.9,785.8 L770.3,783.5 L763.9,780.8 L757.6,777.9 L751.5,774.6 L745.5,771.0 L739.7,767.2 L734.1,763.0 L728.7,758.6 L723.5,754.0 L718.6,749.1 L713.9,743.9 L709.4,738.6 L705.2,733.0 L701.3,727.2 L697.7,721.3 L694.3,715.2 L691.3,708.9 L688.5,702.5 L686.1,695.9 L684.0,689.3 L682.2,682.5 L680.7,675.7 L679.6,668.8 L678.8,661.8 L678.3,654.9 L678.2,647.9 L678.4,640.9 L678.9,633.9 L679.8,627.0 L681.0,620.1 L682.5,613.3Z" fill="#0060FF"/>
<path d="M682.5,613.3 L687.8,614.6 L688.8,611.3 L689.9,608.1 L691.1,604.9 L692.3,601.7 L693.6,598.6 L695.0,595.6 L696.5,592.6 L698.0,589.7 L699.6,586.9 L701.3,584.1 L703.0,581.3 L704.8,578.6 L706.6,576.0 L708.5,573.4 L710.5,570.8 L712.5,568.4 L714.6,565.9 L716.8,563.6 L719.0,561.3 L721.2,559.0 L723.5,556.8 L725.9,554.7 L728.3,552.6 L730.8,550.6 L733.3,548.6 L735.9,546.7 L738.5,544.9 L741.2,543.1 L743.9,541.4 L746.6,539.7 L749.4,538.1 L752.3,536.5 L755.1,535.1 L758.1,533.7 L761.0,532.3 L764.0,531.0 L767.0,529.8 L770.1,528.7 L773.2,527.6 L776.3,526.6 L779.5,525.6 L782.7,524.8 L785.9,524.0 L789.1,523.3 L792.4,522.6 L795.6,522.0 L798.9,521.5 L802.2,521.1 L805.5,520.7 L808.8,520.4 L812.2,520.2 L815.5,520.1 L818.9,520.1 L822.2,520.1 L825.6,520.2 L828.9,520.4 L832.2,520.6 L835.6,520.9 L838.9,521.4 L842.2,521.8 L845.5,522.4 L848.8,523.0 L852.0,523.8 L855.3,524.5 L858.5,525.4 L861.7,526.4 L864.9,527.4 L868.0,528.5 L871.1,529.6 L874.2,530.8 L877.3,532.2 L880.3,533.5 L883.3,535.0 L886.2,536.5 L889.1,538.1 L892.0,539.8 L894.8,541.5 L897.6,543.3 L900.3,545.1 L903.0,547.1 L905.6,549.0 L908.2,551.1 L910.8,553.2 L913.2,555.3 L915.7,557.6 L918.0,559.8 L920.4,562.2 L922.6,564.5 L924.8,566.9 L926.9,569.4 L929.0,571.9 L931.0,574.5 L933.0,577.1 L934.9,579.7 L936.7,582.4 L938.5,585.1 L940.2,587.9 L941.8,590.7 L943.3,593.5 L944.8,596.4 L946.2,599.3 L947.6,602.2 L948.8,605.2 L950.0,608.1 L951.2,611.2 L952.2,614.2 L953.2,617.2 L954.1,620.3 L954.9,623.4 L955.7,626.5 L956.3,629.7 L956.9,632.9 L957.4,636.0 L957.9,639.2 L958.2,642.4 L958.5,645.7 L958.7,648.9 L958.8,652.2 L958.8,655.4 L965.0,655.8 L965.0,655.8 L964.5,662.7 L963.7,669.7 L962.5,676.6 L961.0,683.4 L959.2,690.1 L957.0,696.8 L954.5,703.3 L951.8,709.7 L948.7,716.0 L945.3,722.1 L941.6,728.0 L937.6,733.7 L933.4,739.3 L928.9,744.6 L924.2,749.7 L919.2,754.6 L914.0,759.2 L908.6,763.6 L902.9,767.7 L897.1,771.5 L891.1,775.0 L885.0,778.3 L878.7,781.2 L872.2,783.8 L865.7,786.1 L859.0,788.1 L852.3,789.7 L845.5,791.1 L838.6,792.1 L831.7,792.7 L824.7,793.0 L817.8,793.0 L810.8,792.6 L803.9,791.9 L797.1,790.9 L790.3,789.5 L783.5,787.9 L776.9,785.8 L770.3,783.5 L763.9,780.8 L757.6,777.9 L751.5,774.6 L745.5,771.0 L739.7,767.2 L734.1,763.0 L728.7,758.6 L723.5,754.0 L718.6,749.1 L713.9,743.9 L709.4,738.6 L705.2,733.0 L701.3,727.2 L697.7,721.3 L694.3,715.2 L691.3,708.9 L688.5,702.5 L686.1,695.9 L684.0,689.3 L682.2,682.5 L680.7,675.7 L679.6,668.8 L678.8,661.8 L678.3,654.9 L678.2,647.9 L678.4,640.9 L678.9,633.9 L679.8,627.0 L681.0,620.1 L682.5,613.3Z" fill="#009FFF"/>
<path d="M682.5,613.3 L687.7,614.6 L688.8,611.3 L690.0,608.1 L691.3,604.9 L692.6,601.8 L694.0,598.8 L695.5,595.8 L697.0,592.9 L698.7,590.0 L700.4,587.2 L702.1,584.5 L703.9,581.8 L705.8,579.2 L707.8,576.7 L709.8,574.2 L711.8,571.8 L714.0,569.4 L716.1,567.1 L718.4,564.9 L720.7,562.7 L723.0,560.6 L725.4,558.5 L727.8,556.6 L730.3,554.6 L732.8,552.8 L735.4,551.0 L738.0,549.2 L740.7,547.6 L743.4,546.0 L746.1,544.4 L748.9,542.9 L751.7,541.5 L754.5,540.2 L757.4,538.9 L760.3,537.6 L763.2,536.5 L766.2,535.4 L769.1,534.3 L772.1,533.4 L775.2,532.5 L778.2,531.6 L781.3,530.8 L784.4,530.1 L787.4,529.5 L790.6,528.9 L793.7,528.4 L796.8,527.9 L800.0,527.5 L803.1,527.2 L806.3,526.9 L809.5,526.7 L812.6,526.6 L815.8,526.5 L819.0,526.5 L822.2,526.6 L825.4,526.7 L828.5,526.9 L831.7,527.1 L834.9,527.4 L838.0,527.8 L841.2,528.3 L844.3,528.8 L847.4,529.4 L850.5,530.0 L853.6,530.8 L856.7,531.5 L859.7,532.4 L862.8,533.3 L865.8,534.3 L868.8,535.3 L871.7,536.4 L874.7,537.6 L877.6,538.9 L880.5,540.2 L883.3,541.6 L886.1,543.0 L888.9,544.5 L891.7,546.1 L894.4,547.7 L897.1,549.4 L899.7,551.2 L902.3,553.0 L904.9,554.9 L907.4,556.8 L909.8,558.8 L912.3,560.9 L914.6,563.0 L917.0,565.1 L919.2,567.3 L921.5,569.6 L923.7,571.9 L925.8,574.3 L927.8,576.7 L929.9,579.1 L931.8,581.6 L933.7,584.1 L935.6,586.7 L937.3,589.4 L939.0,592.0 L940.7,594.7 L942.3,597.5 L943.8,600.2 L945.3,603.1 L946.6,605.9 L947.9,608.8 L949.2,611.7 L950.4,614.7 L951.5,617.7 L952.5,620.7 L953.4,623.7 L954.3,626.8 L955.1,629.9 L955.8,633.0 L956.4,636.1 L956.9,639.3 L957.4,642.5 L957.7,645.7 L958.0,648.9 L958.2,652.2 L958.3,655.4 L965.0,655.8 L965.0,655.8 L964.5,662.7 L963.7,669.7 L962.5,676.6 L961.0,683.4 L959.2,690.1 L957.0,696.8 L954.5,703.3 L951.8,709.7 L948.7,716.0 L945.3,722.1 L941.6,728.0 L937.6,733.7 L933.4,739.3 L928.9,744.6 L924.2,749.7 L919.2,754.6 L914.0,759.2 L908.6,763.6 L902.9,767.7 L897.1,771.5 L891.1,775.0 L885.0,778.3 L878.7,781.2 L872.2,783.8 L865.7,786.1 L859.0,788.1 L852.3,789.7 L845.5,791.1 L838.6,792.1 L831.7,792.7 L824.7,793.0 L817.8,793.0 L810.8,792.6 L803.9,791.9 L797.1,790.9 L790.3,789.5 L783.5,787.9 L776.9,785.8 L770.3,783.5 L763.9,780.8 L757.6,777.9 L751.5,774.6 L745.5,771.0 L739.7,767.2 L734.1,763.0 L728.7,758.6 L723.5,754.0 L718.6,749.1 L713.9,743.9 L709.4,738.6 L705.2,733.0 L701.3,727.2 L697.7,721.3 L694.3,715.2 L691.3,708.9 L688.5,702.5 L686.1,695.9 L684.0,689.3 L682.2,682.5 L680.7,675.7 L679.6,668.8 L678.8,661.8 L678.3,654.9 L678.2,647.9 L678.4,640.9 L678.9,633.9 L679.8,627.0 L681.0,620.1 L682.5,613.3Z" fill="#00DFFF"/>
<path d="M679.3,630.7 L684.3,631.3 L685.3,627.9 L686.4,624.5 L687.6,621.1 L688.8,617.9 L690.1,614.7 L691.5,611.6 L693.0,608.5 L694.5,605.6 L696.2,602.7 L697.8,599.8 L699.6,597.0 L701.4,594.3 L703.3,591.7 L705.2,589.1 L707.2,586.6 L709.3,584.2 L711.4,581.8 L713.6,579.5 L715.8,577.3 L718.1,575.1 L720.5,573.0 L722.9,571.0 L725.3,569.0 L727.8,567.1 L730.3,565.3 L732.9,563.6 L735.6,561.9 L738.2,560.2 L740.9,558.7 L743.7,557.2 L746.5,555.7 L749.3,554.4 L752.1,553.1 L755.0,551.9 L757.9,550.7 L760.9,549.6 L763.8,548.6 L766.8,547.6 L769.9,546.7 L772.9,545.9 L776.0,545.1 L779.0,544.4 L782.2,543.8 L785.3,543.2 L788.4,542.7 L791.6,542.2 L794.7,541.9 L797.9,541.5 L801.1,541.3 L804.3,541.1 L807.4,541.0 L810.6,540.9 L813.8,540.9 L817.0,541.0 L820.3,541.2 L823.4,541.4 L826.6,541.6 L829.8,542.0 L833.0,542.4 L836.2,542.8 L839.4,543.3 L842.5,543.9 L845.7,544.6 L848.8,545.3 L851.9,546.1 L855.0,546.9 L858.1,547.8 L861.1,548.8 L864.2,549.8 L867.2,550.9 L870.1,552.1 L873.1,553.3 L876.0,554.6 L878.9,555.9 L881.8,557.3 L884.6,558.7 L887.5,560.3 L890.2,561.8 L893.0,563.5 L895.7,565.1 L898.3,566.9 L900.9,568.7 L903.5,570.5 L906.0,572.4 L908.5,574.4 L911.0,576.4 L913.4,578.5 L915.7,580.6 L918.0,582.8 L920.3,585.0 L922.4,587.3 L924.6,589.6 L926.7,592.0 L928.7,594.4 L930.7,596.8 L932.6,599.4 L934.4,601.9 L936.2,604.5 L937.9,607.2 L939.6,609.9 L941.1,612.6 L942.7,615.4 L944.1,618.3 L945.5,621.2 L946.8,624.1 L948.0,627.0 L949.2,630.0 L950.2,633.1 L951.2,636.2 L952.2,639.3 L953.0,642.5 L953.8,645.7 L954.4,648.9 L955.0,652.2 L955.5,655.5 L955.9,658.9 L956.3,662.3 L956.5,665.7 L956.6,669.2 L963.6,670.3 L963.6,670.3 L962.5,676.7 L961.1,683.0 L959.4,689.3 L957.4,695.6 L955.2,701.7 L952.7,707.7 L949.9,713.6 L946.8,719.3 L943.5,724.9 L940.0,730.4 L936.2,735.7 L932.2,740.8 L927.9,745.7 L923.5,750.5 L918.8,755.0 L913.9,759.3 L908.9,763.4 L903.6,767.2 L898.2,770.8 L892.7,774.2 L887.0,777.3 L881.1,780.1 L875.2,782.7 L869.1,784.9 L863.0,787.0 L856.7,788.7 L850.4,790.1 L844.0,791.3 L837.6,792.2 L831.1,792.7 L824.7,793.0 L818.2,793.0 L811.7,792.7 L805.3,792.1 L798.8,791.2 L792.5,790.0 L786.2,788.6 L779.9,786.8 L773.8,784.8 L767.7,782.4 L761.8,779.9 L755.9,777.0 L750.2,773.9 L744.7,770.5 L739.3,766.9 L734.1,763.0 L729.0,758.9 L724.2,754.6 L719.5,750.1 L715.1,745.3 L710.9,740.4 L706.9,735.2 L703.1,729.9 L699.6,724.5 L696.3,718.8 L693.3,713.1 L690.5,707.2 L688.0,701.2 L685.8,695.0 L683.9,688.8 L682.2,682.5 L680.8,676.1 L679.7,669.7 L678.9,663.2 L678.4,656.7 L678.2,650.2 L678.3,643.7 L678.6,637.2 L679.3,630.7Z" fill="#20FFDF"/>
<path d="M678.3,641.7 L683.7,642.0 L685.0,639.1 L686.3,636.3 L687.8,633.7 L689.3,631.2 L691.0,628.8 L692.7,626.6 L694.4,624.4 L696.3,622.3 L698.2,620.4 L700.2,618.5 L702.2,616.8 L704.3,615.1 L706.5,613.6 L708.7,612.1 L711.0,610.7 L713.3,609.4 L715.7,608.2 L718.1,607.1 L720.5,606.0 L723.0,605.1 L725.6,604.2 L728.2,603.3 L730.8,602.5 L733.4,601.8 L736.1,601.2 L738.8,600.6 L741.5,600.1 L744.3,599.6 L747.1,599.1 L749.9,598.8 L752.7,598.4 L755.5,598.1 L758.3,597.8 L761.1,597.6 L764.0,597.4 L766.8,597.2 L769.6,597.1 L772.5,597.0 L775.3,596.9 L778.1,596.8 L781.0,596.8 L783.8,596.8 L786.6,596.8 L789.5,596.9 L792.3,597.0 L795.1,597.1 L798.0,597.2 L800.8,597.4 L803.6,597.6 L806.4,597.8 L809.2,598.1 L812.0,598.3 L814.8,598.7 L817.6,599.0 L820.4,599.4 L823.2,599.8 L826.0,600.2 L828.8,600.6 L831.6,601.1 L834.3,601.7 L837.1,602.2 L839.8,602.8 L842.6,603.4 L845.3,604.0 L848.0,604.7 L850.8,605.4 L853.5,606.1 L856.2,606.9 L858.9,607.7 L861.6,608.5 L864.3,609.3 L866.9,610.2 L869.6,611.1 L872.3,612.1 L874.9,613.1 L877.5,614.1 L880.1,615.1 L882.8,616.2 L885.4,617.3 L887.9,618.4 L890.5,619.6 L893.1,620.8 L895.6,622.0 L898.2,623.3 L900.7,624.6 L903.2,625.9 L905.7,627.3 L908.2,628.7 L910.6,630.1 L913.0,631.6 L915.4,633.1 L917.8,634.7 L920.1,636.2 L922.3,637.9 L924.5,639.6 L926.7,641.3 L928.8,643.1 L930.8,644.9 L932.8,646.8 L934.7,648.7 L936.5,650.7 L938.2,652.7 L939.9,654.8 L941.5,657.0 L943.0,659.2 L944.4,661.5 L945.7,663.8 L946.9,666.2 L948.0,668.7 L949.0,671.2 L949.9,673.8 L950.6,676.4 L951.3,679.1 L951.8,681.9 L952.2,684.8 L952.4,687.7 L952.5,690.8 L952.5,693.8 L952.4,697.0 L956.4,698.5 L956.4,698.5 L954.2,704.0 L951.9,709.5 L949.3,714.8 L946.5,720.0 L943.4,725.1 L940.2,730.1 L936.8,734.9 L933.2,739.6 L929.3,744.1 L925.4,748.5 L921.2,752.7 L916.9,756.7 L912.4,760.6 L907.7,764.2 L902.9,767.7 L898.0,771.0 L892.9,774.0 L887.7,776.9 L882.4,779.5 L877.0,781.9 L871.6,784.1 L866.0,786.0 L860.3,787.7 L854.6,789.2 L848.9,790.4 L843.0,791.5 L837.2,792.2 L831.3,792.7 L825.4,793.0 L819.5,793.0 L813.6,792.8 L807.7,792.4 L801.9,791.7 L796.1,790.7 L790.3,789.6 L784.5,788.1 L778.9,786.5 L773.3,784.6 L767.8,782.5 L762.4,780.1 L757.0,777.6 L751.8,774.8 L746.7,771.8 L741.8,768.6 L736.9,765.2 L732.2,761.6 L727.7,757.8 L723.3,753.8 L719.1,749.6 L715.1,745.3 L711.2,740.8 L707.5,736.2 L704.1,731.4 L700.8,726.4 L697.7,721.4 L694.8,716.2 L692.2,710.9 L689.8,705.5 L687.6,699.9 L685.6,694.4 L683.8,688.7 L682.3,682.9 L681.0,677.2 L680.0,671.3 L679.2,665.4 L678.6,659.5 L678.3,653.6 L678.2,647.6 L678.3,641.7Z" fill="#60FF9F"/>
<path d="M678.9,663.1 L685.2,662.5 L686.0,660.7 L687.5,659.9 L689.3,659.8 L691.0,660.3 L692.5,661.2 L693.9,662.3 L695.3,663.6 L696.6,664.9 L697.9,666.3 L699.3,667.6 L700.6,668.9 L702.0,670.2 L703.4,671.5 L704.7,672.7 L706.1,673.9 L707.5,675.1 L708.9,676.3 L710.4,677.5 L711.8,678.6 L713.2,679.7 L714.7,680.8 L716.1,681.9 L717.6,682.9 L719.1,684.0 L720.6,685.0 L722.1,686.0 L723.6,687.0 L725.1,688.0 L726.6,688.9 L728.2,689.9 L729.7,690.8 L731.2,691.7 L732.8,692.6 L734.4,693.5 L735.9,694.3 L737.5,695.2 L739.1,696.0 L740.7,696.8 L742.3,697.6 L743.9,698.4 L745.5,699.2 L747.2,699.9 L748.8,700.7 L750.4,701.4 L752.1,702.2 L753.7,702.9 L755.4,703.6 L757.0,704.3 L758.7,704.9 L760.4,705.6 L762.1,706.2 L763.7,706.9 L765.4,707.5 L767.1,708.1 L768.8,708.7 L770.5,709.3 L772.3,709.9 L774.0,710.4 L775.7,711.0 L777.4,711.5 L779.2,712.0 L780.9,712.5 L782.6,713.0 L784.4,713.5 L786.1,714.0 L787.9,714.4 L789.6,714.9 L791.4,715.3 L793.2,715.7 L794.9,716.1 L796.7,716.5 L798.5,716.9 L800.3,717.2 L802.0,717.6 L803.8,717.9 L805.6,718.2 L807.4,718.5 L809.2,718.8 L811.0,719.1 L812.8,719.4 L814.6,719.6 L816.4,719.9 L818.2,720.1 L820.0,720.3 L821.8,720.5 L823.6,720.7 L825.4,720.9 L827.2,721.0 L829.0,721.2 L830.9,721.3 L832.7,721.4 L834.5,721.6 L836.3,721.6 L838.1,721.7 L839.9,721.8 L841.8,721.8 L843.6,721.9 L845.4,721.9 L847.2,721.9 L849.0,721.9 L850.9,721.9 L852.7,721.8 L854.5,721.8 L856.3,721.7 L858.1,721.6 L860.0,721.6 L861.8,721.4 L863.6,721.3 L865.4,721.2 L867.2,721.0 L869.0,720.8 L870.8,720.6 L872.6,720.4 L874.4,720.2 L876.2,719.9 L877.9,719.6 L879.7,719.3 L881.5,719.0 L883.2,718.7 L885.0,718.3 L886.7,717.9 L888.5,717.5 L890.2,717.1 L892.0,716.6 L893.7,716.2 L895.4,715.7 L897.1,715.1 L898.8,714.6 L900.5,714.0 L902.2,713.5 L903.8,712.9 L905.5,712.3 L907.2,711.6 L908.9,711.0 L910.6,710.4 L912.3,709.8 L914.0,709.1 L915.7,708.5 L917.4,707.9 L919.2,707.3 L920.9,706.7 L922.7,706.2 L924.5,705.6 L926.3,705.1 L928.1,704.6 L929.9,704.1 L931.8,703.6 L933.7,703.2 L935.6,702.8 L937.5,702.5 L939.4,702.3 L941.1,702.3 L942.6,702.7 L943.7,703.4 L944.4,704.7 L944.6,706.6 L944.4,708.7 L943.8,710.7 L943.0,712.0 L949.1,715.2 L949.1,715.2 L946.5,719.9 L943.8,724.5 L940.9,729.0 L937.9,733.4 L934.7,737.7 L931.3,741.9 L927.8,745.9 L924.1,749.8 L920.3,753.5 L916.4,757.2 L912.3,760.6 L908.1,763.9 L903.8,767.1 L899.4,770.1 L894.9,772.9 L890.2,775.5 L885.5,778.0 L880.7,780.3 L875.8,782.4 L870.8,784.3 L865.8,786.1 L860.7,787.6 L855.5,789.0 L850.3,790.2 L845.1,791.1 L839.8,791.9 L834.5,792.5 L829.2,792.9 L823.9,793.0 L818.5,793.0 L813.2,792.8 L807.9,792.4 L802.6,791.8 L797.3,791.0 L792.1,790.0 L786.9,788.8 L781.8,787.4 L776.7,785.8 L771.7,784.0 L766.7,782.0 L761.8,779.9 L757.0,777.6 L752.3,775.0 L747.7,772.4 L743.2,769.5 L738.8,766.5 L734.5,763.3 L730.3,760.0 L726.3,756.5 L722.4,752.9 L718.6,749.1 L714.9,745.1 L711.5,741.1 L708.1,736.9 L704.9,732.6 L701.9,728.2 L699.1,723.7 L696.4,719.0 L693.9,714.3 L691.5,709.5 L689.4,704.6 L687.4,699.6 L685.6,694.5 L684.0,689.4 L682.6,684.2 L681.4,679.0 L680.4,673.8 L679.5,668.5 L678.9,663.1Z" fill="#9FFF60"/>
<path d="M681.8,680.9 L689.1,679.2 L690.5,681.9 L692.0,684.5 L693.4,687.0 L695.0,689.5 L696.6,692.0 L698.2,694.4 L699.9,696.9 L701.6,699.2 L703.4,701.5 L705.2,703.8 L707.0,706.1 L708.9,708.3 L710.9,710.5 L712.8,712.6 L714.9,714.7 L716.9,716.7 L719.0,718.7 L721.1,720.7 L723.3,722.6 L725.5,724.5 L727.7,726.3 L730.0,728.1 L732.3,729.9 L734.6,731.6 L737.0,733.2 L739.4,734.8 L741.8,736.4 L744.3,737.9 L746.7,739.4 L749.2,740.8 L751.8,742.2 L754.3,743.6 L756.9,744.8 L759.5,746.1 L762.1,747.3 L764.7,748.4 L767.4,749.5 L770.1,750.6 L772.7,751.6 L775.5,752.5 L778.2,753.4 L780.9,754.3 L783.7,755.1 L786.4,755.9 L789.2,756.6 L792.0,757.2 L794.8,757.8 L797.6,758.3 L800.4,758.8 L803.3,759.3 L806.1,759.7 L808.9,760.0 L811.8,760.3 L814.6,760.5 L817.5,760.7 L820.4,760.8 L823.2,760.9 L826.1,760.9 L828.9,760.8 L831.8,760.7 L834.6,760.6 L837.5,760.4 L840.4,760.1 L843.2,759.8 L846.0,759.4 L848.9,759.0 L851.7,758.6 L854.6,758.1 L857.4,757.5 L860.2,756.9 L863.0,756.3 L865.8,755.6 L868.6,754.8 L871.4,754.1 L874.1,753.2 L876.9,752.3 L879.7,751.4 L882.4,750.5 L885.1,749.5 L887.8,748.4 L890.5,747.3 L893.2,746.2 L895.8,745.0 L898.5,743.8 L901.1,742.6 L903.7,741.3 L906.3,740.0 L908.9,738.6 L911.4,737.2 L914.0,735.8 L916.5,734.3 L919.0,732.8 L921.4,731.3 L923.9,729.7 L926.3,728.1 L928.7,726.4 L931.1,724.8 L933.4,723.0 L935.7,721.3 L942.9,725.9 L942.9,725.9 L940.2,730.0 L937.4,734.0 L934.5,738.0 L931.4,741.8 L928.2,745.5 L924.8,749.1 L921.4,752.6 L917.8,755.9 L914.1,759.1 L910.3,762.2 L906.4,765.2 L902.4,768.1 L898.3,770.8 L894.1,773.3 L889.9,775.7 L885.5,778.0 L881.1,780.1 L876.6,782.1 L872.1,783.9 L867.5,785.5 L862.8,787.0 L858.1,788.3 L853.3,789.5 L848.6,790.5 L843.7,791.3 L838.9,792.0 L834.0,792.5 L829.2,792.9 L824.3,793.0 L819.4,793.0 L814.5,792.9 L809.6,792.5 L804.7,792.0 L799.9,791.4 L795.1,790.5 L790.3,789.6 L785.5,788.4 L780.8,787.1 L776.2,785.6 L771.6,784.0 L767.0,782.2 L762.5,780.2 L758.1,778.1 L753.7,775.8 L749.5,773.4 L745.3,770.9 L741.2,768.2 L737.2,765.4 L733.3,762.4 L729.5,759.3 L725.8,756.1 L722.2,752.7 L718.8,749.3 L715.4,745.7 L712.2,742.0 L709.1,738.2 L706.1,734.2 L703.3,730.2 L700.6,726.1 L698.0,721.9 L695.6,717.6 L693.4,713.3 L691.3,708.8 L689.3,704.3 L687.5,699.8 L685.8,695.1 L684.3,690.4 L683.0,685.7 L681.8,680.9Z" fill="#DFFF20"/>
<path d="M690.4,706.9 L697.0,704.0 L698.4,706.3 L699.9,708.5 L701.4,710.7 L702.9,712.8 L704.5,715.0 L706.1,717.0 L707.7,719.1 L709.4,721.1 L711.1,723.1 L712.8,725.0 L714.6,726.9 L716.4,728.7 L718.2,730.6 L720.1,732.3 L722.0,734.1 L723.9,735.8 L725.9,737.5 L727.9,739.1 L729.9,740.7 L731.9,742.2 L734.0,743.7 L736.1,745.2 L738.2,746.7 L740.3,748.1 L742.5,749.4 L744.6,750.8 L746.9,752.0 L749.1,753.3 L751.3,754.5 L753.6,755.7 L755.9,756.8 L758.2,757.9 L760.5,759.0 L762.9,760.0 L765.2,761.0 L767.6,761.9 L770.0,762.8 L772.4,763.7 L774.8,764.5 L777.2,765.3 L779.7,766.0 L782.1,766.7 L784.6,767.4 L787.1,768.0 L789.6,768.6 L792.1,769.1 L794.6,769.6 L797.1,770.1 L799.6,770.5 L802.2,770.9 L804.7,771.2 L807.2,771.5 L809.8,771.8 L812.4,772.0 L814.9,772.2 L817.5,772.3 L820.0,772.4 L822.6,772.5 L825.2,772.5 L827.7,772.5 L830.3,772.4 L832.8,772.3 L835.4,772.2 L838.0,772.0 L840.5,771.8 L843.1,771.5 L845.6,771.2 L848.2,770.9 L850.7,770.5 L853.2,770.0 L855.7,769.6 L858.3,769.0 L860.8,768.5 L863.3,767.9 L865.7,767.2 L868.2,766.6 L870.7,765.8 L873.1,765.1 L875.6,764.2 L878.0,763.4 L880.4,762.5 L882.8,761.6 L885.2,760.6 L887.6,759.6 L889.9,758.5 L892.3,757.4 L894.6,756.2 L896.9,755.0 L899.2,753.8 L901.4,752.5 L903.7,751.2 L905.9,749.8 L908.1,748.4 L910.3,747.0 L912.4,745.5 L914.5,744.0 L916.6,742.4 L918.7,740.8 L920.8,739.1 L928.0,745.7 L928.0,745.7 L925.2,748.7 L922.3,751.7 L919.3,754.5 L916.2,757.3 L913.0,760.0 L909.8,762.6 L906.5,765.1 L903.1,767.6 L899.7,769.9 L896.2,772.1 L892.6,774.2 L889.0,776.2 L885.3,778.1 L881.6,779.9 L877.8,781.6 L874.0,783.1 L870.1,784.6 L866.2,785.9 L862.2,787.2 L858.2,788.3 L854.2,789.3 L850.2,790.2 L846.1,791.0 L842.0,791.6 L837.9,792.1 L833.8,792.5 L829.7,792.8 L825.5,793.0 L821.4,793.1 L817.3,793.0 L813.1,792.8 L809.0,792.5 L804.9,792.1 L800.8,791.5 L796.7,790.9 L792.7,790.1 L788.6,789.2 L784.6,788.1 L780.6,787.0 L776.7,785.8 L772.8,784.4 L768.9,782.9 L765.1,781.3 L761.3,779.6 L757.6,777.8 L753.9,775.9 L750.3,773.9 L746.7,771.8 L743.2,769.5 L739.8,767.2 L736.4,764.8 L733.1,762.3 L729.9,759.7 L726.8,756.9 L723.7,754.2 L720.7,751.3 L717.8,748.3 L715.0,745.2 L712.3,742.1 L709.7,738.9 L707.1,735.6 L704.7,732.2 L702.3,728.8 L700.1,725.3 L697.9,721.8 L695.9,718.1 L694.0,714.5 L692.1,710.7 L690.4,706.9Z" fill="#FFDF00"/>
<path d="M690.4,706.9 L696.4,704.3 L697.7,706.6 L699.0,708.9 L700.4,711.2 L701.8,713.5 L703.2,715.7 L704.7,717.8 L706.2,720.0 L707.8,722.1 L709.4,724.2 L711.0,726.2 L712.7,728.2 L714.4,730.2 L716.2,732.2 L718.0,734.1 L719.8,736.0 L721.7,737.8 L723.5,739.6 L725.5,741.4 L727.4,743.1 L729.4,744.8 L731.4,746.5 L733.5,748.1 L735.6,749.7 L737.7,751.2 L739.9,752.8 L742.0,754.2 L744.2,755.7 L746.5,757.1 L748.7,758.4 L751.0,759.7 L753.3,761.0 L755.7,762.3 L758.0,763.4 L760.4,764.6 L762.8,765.7 L765.3,766.8 L767.7,767.8 L770.2,768.8 L772.7,769.7 L775.2,770.6 L777.7,771.4 L780.3,772.2 L782.9,773.0 L785.4,773.7 L788.0,774.4 L790.6,775.0 L793.3,775.6 L795.9,776.1 L798.5,776.5 L801.2,777.0 L803.9,777.4 L806.5,777.7 L809.2,778.0 L811.9,778.2 L814.6,778.4 L817.3,778.5 L819.9,778.6 L822.6,778.6 L825.3,778.6 L828.0,778.6 L830.7,778.5 L833.4,778.3 L836.1,778.1 L838.7,777.9 L841.4,777.6 L844.1,777.2 L846.7,776.8 L849.3,776.4 L852.0,775.9 L854.6,775.3 L857.2,774.8 L859.8,774.1 L862.4,773.4 L864.9,772.7 L867.5,771.9 L870.0,771.1 L872.5,770.3 L875.0,769.3 L877.5,768.4 L880.0,767.4 L882.4,766.3 L884.8,765.3 L887.2,764.1 L889.6,763.0 L891.9,761.7 L894.3,760.5 L896.6,759.2 L898.8,757.8 L901.1,756.4 L903.3,755.0 L905.5,753.5 L907.7,752.0 L909.8,750.5 L911.9,748.9 L914.0,747.2 L916.1,745.5 L918.1,743.8 L920.1,742.1 L922.1,740.3 L928.0,745.7 L928.0,745.7 L925.2,748.7 L922.3,751.7 L919.3,754.5 L916.2,757.3 L913.0,760.0 L909.8,762.6 L906.5,765.1 L903.1,767.6 L899.7,769.9 L896.2,772.1 L892.6,774.2 L889.0,776.2 L885.3,778.1 L881.6,779.9 L877.8,781.6 L874.0,783.1 L870.1,784.6 L866.2,785.9 L862.2,787.2 L858.2,788.3 L854.2,789.3 L850.2,790.2 L846.1,791.0 L842.0,791.6 L837.9,792.1 L833.8,792.5 L829.7,792.8 L825.5,793.0 L821.4,793.1 L817.3,793.0 L813.1,792.8 L809.0,792.5 L804.9,792.1 L800.8,791.5 L796.7,790.9 L792.7,790.1 L788.6,789.2 L784.6,788.1 L780.6,787.0 L776.7,785.8 L772.8,784.4 L768.9,782.9 L765.1,781.3 L761.3,779.6 L757.6,777.8 L753.9,775.9 L750.3,773.9 L746.7,771.8 L743.2,769.5 L739.8,767.2 L736.4,764.8 L733.1,762.3 L729.9,759.7 L726.8,756.9 L723.7,754.2 L720.7,751.3 L717.8,748.3 L715.0,745.2 L712.3,742.1 L709.7,738.9 L707.1,735.6 L704.7,732.2 L702.3,728.8 L700.1,725.3 L697.9,721.8 L695.9,718.1 L694.0,714.5 L692.1,710.7 L690.4,706.9Z" fill="#FF9F00"/>
<path d="M690.4,706.9 L696.1,704.4 L697.3,706.8 L698.5,709.2 L699.8,711.5 L701.2,713.8 L702.6,716.0 L704.0,718.3 L705.5,720.5 L707.0,722.6 L708.5,724.8 L710.1,726.9 L711.8,728.9 L713.4,731.0 L715.1,733.0 L716.9,735.0 L718.7,736.9 L720.5,738.8 L722.4,740.7 L724.3,742.6 L726.2,744.4 L728.2,746.1 L730.2,747.9 L732.2,749.6 L734.3,751.2 L736.4,752.9 L738.5,754.5 L740.7,756.0 L742.9,757.5 L745.1,759.0 L747.4,760.4 L749.7,761.8 L752.0,763.2 L754.4,764.5 L756.8,765.7 L759.2,767.0 L761.6,768.1 L764.1,769.3 L766.6,770.4 L769.1,771.4 L771.6,772.4 L774.2,773.3 L776.7,774.2 L779.3,775.1 L782.0,775.9 L784.6,776.6 L787.2,777.3 L789.9,778.0 L792.6,778.6 L795.3,779.1 L798.0,779.6 L800.7,780.1 L803.4,780.5 L806.2,780.8 L808.9,781.1 L811.6,781.4 L814.4,781.6 L817.1,781.7 L819.9,781.8 L822.7,781.8 L825.4,781.8 L828.2,781.7 L830.9,781.6 L833.7,781.4 L836.4,781.2 L839.1,780.9 L841.9,780.5 L844.6,780.1 L847.3,779.7 L850.0,779.2 L852.6,778.7 L855.3,778.1 L858.0,777.4 L860.6,776.7 L863.2,776.0 L865.8,775.2 L868.4,774.4 L870.9,773.5 L873.5,772.5 L876.0,771.5 L878.5,770.5 L881.0,769.4 L883.4,768.3 L885.9,767.2 L888.3,765.9 L890.6,764.7 L893.0,763.4 L895.3,762.0 L897.6,760.7 L899.8,759.2 L902.1,757.8 L904.3,756.3 L906.5,754.7 L908.6,753.1 L910.7,751.5 L912.8,749.8 L914.8,748.1 L916.9,746.3 L918.8,744.6 L920.8,742.7 L922.7,740.9 L928.0,745.7 L928.0,745.7 L925.2,748.7 L922.3,751.7 L919.3,754.5 L916.2,757.3 L913.0,760.0 L909.8,762.6 L906.5,765.1 L903.1,767.6 L899.7,769.9 L896.2,772.1 L892.6,774.2 L889.0,776.2 L885.3,778.1 L881.6,779.9 L877.8,781.6 L874.0,783.1 L870.1,784.6 L866.2,785.9 L862.2,787.2 L858.2,788.3 L854.2,789.3 L850.2,790.2 L846.1,791.0 L842.0,791.6 L837.9,792.1 L833.8,792.5 L829.7,792.8 L825.5,793.0 L821.4,793.1 L817.3,793.0 L813.1,792.8 L809.0,792.5 L804.9,792.1 L800.8,791.5 L796.7,790.9 L792.7,790.1 L788.6,789.2 L784.6,788.1 L780.6,787.0 L776.7,785.8 L772.8,784.4 L768.9,782.9 L765.1,781.3 L761.3,779.6 L757.6,777.8 L753.9,775.9 L750.3,773.9 L746.7,771.8 L743.2,769.5 L739.8,767.2 L736.4,764.8 L733.1,762.3 L729.9,759.7 L726.8,756.9 L723.7,754.2 L720.7,751.3 L717.8,748.3 L715.0,745.2 L712.3,742.1 L709.7,738.9 L707.1,735.6 L704.7,732.2 L702.3,728.8 L700.1,725.3 L697.9,721.8 L695.9,718.1 L694.0,714.5 L692.1,710.7 L690.4,706.9Z" fill="#FF6000"/>
<path d="M690.4,706.9 L695.8,704.5 L697.0,707.0 L698.2,709.3 L699.4,711.7 L700.7,714.0 L702.1,716.3 L703.5,718.6 L704.9,720.8 L706.4,723.0 L707.9,725.2 L709.4,727.4 L711.0,729.5 L712.7,731.6 L714.3,733.6 L716.1,735.7 L717.8,737.7 L719.6,739.6 L721.5,741.6 L723.3,743.5 L725.2,745.3 L727.2,747.1 L729.2,748.9 L731.2,750.7 L733.3,752.4 L735.4,754.1 L737.5,755.8 L739.7,757.4 L741.9,758.9 L744.1,760.5 L746.4,762.0 L748.7,763.4 L751.0,764.8 L753.4,766.2 L755.8,767.5 L758.2,768.8 L760.7,770.0 L763.2,771.2 L765.7,772.3 L768.2,773.4 L770.8,774.4 L773.4,775.4 L776.0,776.4 L778.6,777.2 L781.3,778.1 L783.9,778.9 L786.6,779.6 L789.3,780.3 L792.1,780.9 L794.8,781.5 L797.6,782.0 L800.3,782.5 L803.1,782.9 L805.9,783.2 L808.7,783.5 L811.5,783.8 L814.3,784.0 L817.1,784.1 L819.9,784.2 L822.7,784.2 L825.5,784.2 L828.3,784.1 L831.1,783.9 L833.9,783.7 L836.7,783.5 L839.4,783.2 L842.2,782.8 L845.0,782.4 L847.7,781.9 L850.4,781.4 L853.1,780.8 L855.8,780.1 L858.5,779.4 L861.2,778.7 L863.8,777.9 L866.5,777.1 L869.1,776.2 L871.7,775.2 L874.2,774.3 L876.7,773.2 L879.3,772.1 L881.7,771.0 L884.2,769.8 L886.6,768.6 L889.0,767.3 L891.4,766.0 L893.8,764.7 L896.1,763.3 L898.4,761.8 L900.6,760.3 L902.8,758.8 L905.0,757.2 L907.2,755.6 L909.3,754.0 L911.4,752.3 L913.5,750.5 L915.5,748.8 L917.5,747.0 L919.4,745.1 L921.3,743.2 L923.2,741.3 L928.0,745.7 L928.0,745.7 L925.2,748.7 L922.3,751.7 L919.3,754.5 L916.2,757.3 L913.0,760.0 L909.8,762.6 L906.5,765.1 L903.1,767.6 L899.7,769.9 L896.2,772.1 L892.6,774.2 L889.0,776.2 L885.3,778.1 L881.6,779.9 L877.8,781.6 L874.0,783.1 L870.1,784.6 L866.2,785.9 L862.2,787.2 L858.2,788.3 L854.2,789.3 L850.2,790.2 L846.1,791.0 L842.0,791.6 L837.9,792.1 L833.8,792.5 L829.7,792.8 L825.5,793.0 L821.4,793.1 L817.3,793.0 L813.1,792.8 L809.0,792.5 L804.9,792.1 L800.8,791.5 L796.7,790.9 L792.7,790.1 L788.6,789.2 L784.6,788.1 L780.6,787.0 L776.7,785.8 L772.8,784.4 L768.9,782.9 L765.1,781.3 L761.3,779.6 L757.6,777.8 L753.9,775.9 L750.3,773.9 L746.7,771.8 L743.2,769.5 L739.8,767.2 L736.4,764.8 L733.1,762.3 L729.9,759.7 L726.8,756.9 L723.7,754.2 L720.7,751.3 L717.8,748.3 L715.0,745.2 L712.3,742.1 L709.7,738.9 L707.1,735.6 L704.7,732.2 L702.3,728.8 L700.1,725.3 L697.9,721.8 L695.9,718.1 L694.0,714.5 L692.1,710.7 L690.4,706.9Z" fill="#FF2000"/>
<path d="M690.4,706.9 L695.6,704.6 L696.7,707.1 L697.9,709.5 L699.1,711.8 L700.4,714.2 L701.7,716.5 L703.1,718.8 L704.5,721.1 L705.9,723.3 L707.4,725.5 L708.9,727.7 L710.5,729.9 L712.1,732.0 L713.8,734.1 L715.4,736.2 L717.2,738.2 L719.0,740.2 L720.8,742.2 L722.6,744.1 L724.5,746.0 L726.5,747.9 L728.4,749.7 L730.5,751.5 L732.5,753.3 L734.6,755.0 L736.7,756.7 L738.9,758.4 L741.1,760.0 L743.3,761.6 L745.6,763.1 L747.9,764.6 L750.3,766.0 L752.6,767.4 L755.1,768.8 L757.5,770.1 L760.0,771.4 L762.5,772.6 L765.0,773.8 L767.6,774.9 L770.2,776.0 L772.8,777.0 L775.4,778.0 L778.1,778.9 L780.7,779.7 L783.5,780.5 L786.2,781.3 L788.9,782.0 L791.7,782.7 L794.4,783.2 L797.2,783.8 L800.0,784.3 L802.8,784.7 L805.7,785.0 L808.5,785.3 L811.3,785.6 L814.2,785.8 L817.0,785.9 L819.8,786.0 L822.7,786.0 L825.5,786.0 L828.4,785.9 L831.2,785.7 L834.0,785.5 L836.8,785.2 L839.7,784.9 L842.5,784.5 L845.2,784.0 L848.0,783.5 L850.8,783.0 L853.5,782.4 L856.2,781.7 L859.0,781.0 L861.6,780.2 L864.3,779.4 L867.0,778.5 L869.6,777.6 L872.2,776.6 L874.8,775.6 L877.3,774.5 L879.8,773.3 L882.3,772.2 L884.8,770.9 L887.2,769.7 L889.6,768.4 L892.0,767.0 L894.3,765.6 L896.7,764.2 L898.9,762.7 L901.2,761.1 L903.4,759.6 L905.6,757.9 L907.7,756.3 L909.8,754.6 L911.9,752.9 L913.9,751.1 L915.9,749.3 L917.9,747.4 L919.8,745.5 L921.7,743.6 L923.6,741.7 L928.0,745.7 L928.0,745.7 L925.2,748.7 L922.3,751.7 L919.3,754.5 L916.2,757.3 L913.0,760.0 L909.8,762.6 L906.5,765.1 L903.1,767.6 L899.7,769.9 L896.2,772.1 L892.6,774.2 L889.0,776.2 L885.3,778.1 L881.6,779.9 L877.8,781.6 L874.0,783.1 L870.1,784.6 L866.2,785.9 L862.2,787.2 L858.2,788.3 L854.2,789.3 L850.2,790.2 L846.1,791.0 L842.0,791.6 L837.9,792.1 L833.8,792.5 L829.7,792.8 L825.5,793.0 L821.4,793.1 L817.3,793.0 L813.1,792.8 L809.0,792.5 L804.9,792.1 L800.8,791.5 L796.7,790.9 L792.7,790.1 L788.6,789.2 L784.6,788.1 L780.6,787.0 L776.7,785.8 L772.8,784.4 L768.9,782.9 L765.1,781.3 L761.3,779.6 L757.6,777.8 L753.9,775.9 L750.3,773.9 L746.7,771.8 L743.2,769.5 L739.8,767.2 L736.4,764.8 L733.1,762.3 L729.9,759.7 L726.8,756.9 L723.7,754.2 L720.7,751.3 L717.8,748.3 L715.0,745.2 L712.3,742.1 L709.7,738.9 L707.1,735.6 L704.7,732.2 L702.3,728.8 L700.1,725.3 L697.9,721.8 L695.9,718.1 L694.0,714.5 L692.1,710.7 L690.4,706.9Z" fill="#DF0000"/>
<path d="M690.4,706.9 L695.5,704.7 L696.6,707.1 L697.8,709.5 L699.0,711.9 L700.2,714.3 L701.5,716.6 L702.8,718.9 L704.2,721.2 L705.6,723.5 L707.1,725.7 L708.6,727.9 L710.2,730.1 L711.8,732.3 L713.4,734.4 L715.1,736.5 L716.8,738.5 L718.6,740.6 L720.4,742.6 L722.2,744.5 L724.1,746.4 L726.0,748.3 L728.0,750.2 L730.0,752.0 L732.1,753.8 L734.2,755.6 L736.3,757.3 L738.4,759.0 L740.7,760.6 L742.9,762.2 L745.2,763.8 L747.5,765.3 L749.8,766.8 L752.2,768.2 L754.6,769.6 L757.1,770.9 L759.6,772.2 L762.1,773.4 L764.6,774.6 L767.2,775.8 L769.8,776.9 L772.4,777.9 L775.1,778.9 L777.7,779.8 L780.4,780.7 L783.2,781.5 L785.9,782.3 L788.7,783.0 L791.4,783.7 L794.2,784.3 L797.0,784.8 L799.9,785.3 L802.7,785.7 L805.5,786.1 L808.4,786.4 L811.2,786.6 L814.1,786.8 L817.0,787.0 L819.8,787.0 L822.7,787.0 L825.6,787.0 L828.4,786.9 L831.3,786.7 L834.1,786.5 L837.0,786.2 L839.8,785.9 L842.6,785.5 L845.4,785.0 L848.2,784.5 L851.0,783.9 L853.7,783.3 L856.5,782.6 L859.2,781.9 L861.9,781.1 L864.6,780.2 L867.2,779.3 L869.9,778.4 L872.5,777.4 L875.1,776.3 L877.6,775.2 L880.2,774.1 L882.7,772.9 L885.1,771.6 L887.6,770.3 L890.0,769.0 L892.3,767.6 L894.7,766.2 L897.0,764.7 L899.3,763.2 L901.5,761.6 L903.7,760.0 L905.9,758.4 L908.0,756.7 L910.1,755.0 L912.2,753.2 L914.2,751.4 L916.2,749.6 L918.2,747.7 L920.1,745.8 L922.0,743.8 L923.8,741.9 L928.0,745.7 L928.0,745.7 L925.2,748.7 L922.3,751.7 L919.3,754.5 L916.2,757.3 L913.0,760.0 L909.8,762.6 L906.5,765.1 L903.1,767.6 L899.7,769.9 L896.2,772.1 L892.6,774.2 L889.0,776.2 L885.3,778.1 L881.6,779.9 L877.8,781.6 L874.0,783.1 L870.1,784.6 L866.2,785.9 L862.2,787.2 L858.2,788.3 L854.2,789.3 L850.2,790.2 L846.1,791.0 L842.0,791.6 L837.9,792.1 L833.8,792.5 L829.7,792.8 L825.5,793.0 L821.4,793.1 L817.3,793.0 L813.1,792.8 L809.0,792.5 L804.9,792.1 L800.8,791.5 L796.7,790.9 L792.7,790.1 L788.6,789.2 L784.6,788.1 L780.6,787.0 L776.7,785.8 L772.8,784.4 L768.9,782.9 L765.1,781.3 L761.3,779.6 L757.6,777.8 L753.9,775.9 L750.3,773.9 L746.7,771.8 L743.2,769.5 L739.8,767.2 L736.4,764.8 L733.1,762.3 L729.9,759.7 L726.8,756.9 L723.7,754.2 L720.7,751.3 L717.8,748.3 L715.0,745.2 L712.3,742.1 L709.7,738.9 L707.1,735.6 L704.7,732.2 L702.3,728.8 L700.1,725.3 L697.9,721.8 L695.9,718.1 L694.0,714.5 L692.1,710.7 L690.4,706.9Z" fill="#9F0000"/>
<path d="M682.5,613.3 L687.9,614.6 L688.8,611.3 L689.8,608.0 L690.8,604.8 L692.0,601.6 L693.2,598.5 L694.4,595.4 L695.8,592.3 L697.2,589.3 L698.6,586.4 L700.2,583.5 L701.8,580.6 L703.5,577.8 L705.2,575.1 L707.0,572.3 L708.8,569.7 L710.7,567.0 L712.7,564.5 L714.8,561.9 L716.9,559.5 L719.0,557.0 L721.2,554.7 L723.5,552.3 L725.8,550.0 L728.2,547.8 L730.7,545.6 L733.2,543.5 L735.8,541.4 L738.4,539.4 L741.1,537.5 L743.8,535.6 L746.6,533.8 L749.4,532.0 L752.3,530.3 L755.3,528.6 L758.3,527.1 L761.3,525.6 L764.4,524.1 L767.6,522.7 L770.7,521.5 L774.0,520.2 L777.2,519.1 L780.5,518.0 L783.9,517.1 L787.3,516.2 L790.7,515.3 L794.1,514.6 L797.6,514.0 L801.0,513.4 L804.5,512.9 L808.1,512.6 L811.6,512.3 L815.1,512.1 L818.7,511.9 L822.2,511.9 L825.8,512.0 L829.4,512.2 L832.9,512.4 L836.5,512.8 L840.0,513.2 L843.5,513.7 L847.0,514.3 L850.5,515.0 L854.0,515.8 L857.4,516.7 L860.8,517.7 L864.2,518.7 L867.5,519.9 L870.9,521.1 L874.1,522.4 L877.4,523.8 L880.6,525.3 L883.7,526.8 L886.8,528.4 L889.9,530.1 L892.9,531.9 L895.9,533.8 L898.8,535.7 L901.6,537.7 L904.4,539.7 L907.2,541.9 L909.8,544.1 L912.5,546.3 L915.0,548.6 L917.5,551.0 L920.0,553.4 L922.3,555.9 L924.6,558.4 L926.8,561.0 L929.0,563.6 L931.1,566.3 L933.1,569.0 L935.1,571.8 L936.9,574.6 L938.7,577.4 L940.5,580.3 L942.1,583.2 L943.7,586.1 L945.2,589.0 L946.6,592.0 L948.0,595.0 L949.3,598.1 L950.5,601.1 L951.6,604.2 L952.7,607.3 L953.7,610.4 L954.6,613.6 L955.4,616.7 L956.1,619.9 L956.8,623.1 L957.4,626.3 L957.9,629.5 L958.4,632.7 L958.8,635.9 L959.1,639.1 L959.3,642.4 L959.4,645.7 L959.5,648.9 L959.5,652.2 L959.4,655.5 L965.0,655.8" class="ln"/>
<path d="M682.5,613.3 L687.8,614.6 L688.8,611.3 L689.8,608.0 L690.9,604.8 L692.1,601.6 L693.3,598.5 L694.6,595.4 L696.0,592.4 L697.4,589.4 L698.9,586.5 L700.5,583.6 L702.1,580.8 L703.8,578.0 L705.6,575.3 L707.4,572.6 L709.3,570.0 L711.2,567.4 L713.2,564.9 L715.3,562.4 L717.4,560.0 L719.6,557.6 L721.9,555.3 L724.2,553.0 L726.5,550.7 L728.9,548.6 L731.4,546.5 L733.9,544.4 L736.5,542.4 L739.2,540.4 L741.8,538.5 L744.6,536.7 L747.4,534.9 L750.2,533.2 L753.1,531.6 L756.1,530.0 L759.0,528.5 L762.1,527.1 L765.1,525.7 L768.3,524.4 L771.4,523.1 L774.6,522.0 L777.9,520.9 L781.1,519.9 L784.4,519.0 L787.8,518.1 L791.1,517.3 L794.5,516.6 L797.9,516.0 L801.4,515.5 L804.8,515.1 L808.3,514.7 L811.7,514.5 L815.2,514.3 L818.7,514.2 L822.2,514.2 L825.7,514.2 L829.2,514.4 L832.7,514.7 L836.2,515.0 L839.7,515.4 L843.2,516.0 L846.6,516.6 L850.0,517.2 L853.4,518.0 L856.8,518.9 L860.2,519.8 L863.5,520.8 L866.8,521.9 L870.1,523.1 L873.3,524.4 L876.5,525.7 L879.7,527.2 L882.8,528.7 L885.9,530.2 L888.9,531.9 L891.9,533.6 L894.8,535.4 L897.7,537.3 L900.5,539.2 L903.3,541.2 L906.0,543.3 L908.7,545.4 L911.3,547.6 L913.9,549.9 L916.3,552.2 L918.8,554.5 L921.1,557.0 L923.4,559.4 L925.7,562.0 L927.9,564.5 L930.0,567.1 L932.0,569.8 L934.0,572.5 L935.9,575.3 L937.7,578.0 L939.4,580.8 L941.1,583.7 L942.7,586.6 L944.3,589.5 L945.7,592.4 L947.1,595.4 L948.4,598.4 L949.7,601.4 L950.9,604.5 L951.9,607.5 L953.0,610.6 L953.9,613.7 L954.8,616.9 L955.6,620.0 L956.3,623.2 L956.9,626.3 L957.5,629.5 L958.0,632.7 L958.4,635.9 L958.7,639.2 L959.0,642.4 L959.2,645.7 L959.3,648.9 L959.3,652.2 L959.2,655.5 L965.0,655.8" class="ln"/>
<path d="M682.5,613.3 L687.8,614.6 L688.8,611.3 L689.8,608.0 L691.0,604.8 L692.2,601.7 L693.4,598.6 L694.8,595.5 L696.2,592.5 L697.7,589.6 L699.2,586.7 L700.8,583.8 L702.5,581.0 L704.2,578.3 L706.0,575.6 L707.9,573.0 L709.8,570.4 L711.8,567.8 L713.9,565.4 L716.0,562.9 L718.1,560.6 L720.4,558.2 L722.6,556.0 L725.0,553.7 L727.3,551.6 L729.8,549.5 L732.3,547.4 L734.8,545.4 L737.4,543.5 L740.1,541.6 L742.8,539.8 L745.5,538.1 L748.3,536.4 L751.1,534.7 L754.0,533.2 L757.0,531.7 L759.9,530.2 L763.0,528.9 L766.0,527.6 L769.1,526.3 L772.2,525.2 L775.4,524.1 L778.6,523.0 L781.8,522.1 L785.1,521.2 L788.4,520.4 L791.7,519.7 L795.0,519.1 L798.4,518.5 L801.7,518.0 L805.1,517.6 L808.5,517.3 L811.9,517.1 L815.4,516.9 L818.8,516.8 L822.2,516.8 L825.7,516.9 L829.1,517.1 L832.5,517.4 L835.9,517.7 L839.3,518.1 L842.7,518.6 L846.1,519.2 L849.5,519.9 L852.8,520.6 L856.1,521.4 L859.4,522.3 L862.7,523.3 L865.9,524.4 L869.2,525.5 L872.3,526.8 L875.5,528.1 L878.6,529.4 L881.7,530.9 L884.7,532.4 L887.7,534.0 L890.6,535.6 L893.5,537.4 L896.4,539.2 L899.2,541.1 L901.9,543.0 L904.7,545.0 L907.3,547.1 L909.9,549.2 L912.5,551.4 L914.9,553.6 L917.4,555.9 L919.7,558.3 L922.0,560.7 L924.3,563.1 L926.5,565.6 L928.6,568.2 L930.7,570.8 L932.6,573.4 L934.6,576.1 L936.4,578.8 L938.2,581.6 L939.9,584.4 L941.6,587.2 L943.1,590.0 L944.6,592.9 L946.1,595.9 L947.4,598.8 L948.7,601.8 L949.9,604.8 L951.1,607.8 L952.2,610.9 L953.1,613.9 L954.1,617.0 L954.9,620.1 L955.7,623.3 L956.4,626.4 L957.0,629.6 L957.5,632.8 L958.0,636.0 L958.3,639.2 L958.6,642.4 L958.9,645.7 L959.0,648.9 L959.0,652.2 L959.0,655.5 L965.0,655.8" class="ln"/>
<path d="M682.5,613.3 L687.8,614.6 L688.8,611.3 L689.9,608.1 L691.1,604.9 L692.3,601.7 L693.6,598.6 L695.0,595.6 L696.5,592.6 L698.0,589.7 L699.6,586.9 L701.3,584.1 L703.0,581.3 L704.8,578.6 L706.6,576.0 L708.5,573.4 L710.5,570.8 L712.5,568.4 L714.6,565.9 L716.8,563.6 L719.0,561.3 L721.2,559.0 L723.5,556.8 L725.9,554.7 L728.3,552.6 L730.8,550.6 L733.3,548.6 L735.9,546.7 L738.5,544.9 L741.2,543.1 L743.9,541.4 L746.6,539.7 L749.4,538.1 L752.3,536.5 L755.1,535.1 L758.1,533.7 L761.0,532.3 L764.0,531.0 L767.0,529.8 L770.1,528.7 L773.2,527.6 L776.3,526.6 L779.5,525.6 L782.7,524.8 L785.9,524.0 L789.1,523.3 L792.4,522.6 L795.6,522.0 L798.9,521.5 L802.2,521.1 L805.5,520.7 L808.8,520.4 L812.2,520.2 L815.5,520.1 L818.9,520.1 L822.2,520.1 L825.6,520.2 L828.9,520.4 L832.2,520.6 L835.6,520.9 L838.9,521.4 L842.2,521.8 L845.5,522.4 L848.8,523.0 L852.0,523.8 L855.3,524.5 L858.5,525.4 L861.7,526.4 L864.9,527.4 L868.0,528.5 L871.1,529.6 L874.2,530.8 L877.3,532.2 L880.3,533.5 L883.3,535.0 L886.2,536.5 L889.1,538.1 L892.0,539.8 L894.8,541.5 L897.6,543.3 L900.3,545.1 L903.0,547.1 L905.6,549.0 L908.2,551.1 L910.8,553.2 L913.2,555.3 L915.7,557.6 L918.0,559.8 L920.4,562.2 L922.6,564.5 L924.8,566.9 L926.9,569.4 L929.0,571.9 L931.0,574.5 L933.0,577.1 L934.9,579.7 L936.7,582.4 L938.5,585.1 L940.2,587.9 L941.8,590.7 L943.3,593.5 L944.8,596.4 L946.2,599.3 L947.6,602.2 L948.8,605.2 L950.0,608.1 L951.2,611.2 L952.2,614.2 L953.2,617.2 L954.1,620.3 L954.9,623.4 L955.7,626.5 L956.3,629.7 L956.9,632.9 L957.4,636.0 L957.9,639.2 L958.2,642.4 L958.5,645.7 L958.7,648.9 L958.8,652.2 L958.8,655.4 L965.0,655.8" class="ln"/>
<path d="M682.5,613.3 L687.7,614.6 L688.8,611.3 L690.0,608.1 L691.3,604.9 L692.6,601.8 L694.0,598.8 L695.5,595.8 L697.0,592.9 L698.7,590.0 L700.4,587.2 L702.1,584.5 L703.9,581.8 L705.8,579.2 L707.8,576.7 L709.8,574.2 L711.8,571.8 L714.0,569.4 L716.1,567.1 L718.4,564.9 L720.7,562.7 L723.0,560.6 L725.4,558.5 L727.8,556.6 L730.3,554.6 L732.8,552.8 L735.4,551.0 L738.0,549.2 L740.7,547.6 L743.4,546.0 L746.1,544.4 L748.9,542.9 L751.7,541.5 L754.5,540.2 L757.4,538.9 L760.3,537.6 L763.2,536.5 L766.2,535.4 L769.1,534.3 L772.1,533.4 L775.2,532.5 L778.2,531.6 L781.3,530.8 L784.4,530.1 L787.4,529.5 L790.6,528.9 L793.7,528.4 L796.8,527.9 L800.0,527.5 L803.1,527.2 L806.3,526.9 L809.5,526.7 L812.6,526.6 L815.8,526.5 L819.0,526.5 L822.2,526.6 L825.4,526.7 L828.5,526.9 L831.7,527.1 L834.9,527.4 L838.0,527.8 L841.2,528.3 L844.3,528.8 L847.4,529.4 L850.5,530.0 L853.6,530.8 L856.7,531.5 L859.7,532.4 L862.8,533.3 L865.8,534.3 L868.8,535.3 L871.7,536.4 L874.7,537.6 L877.6,538.9 L880.5,540.2 L883.3,541.6 L886.1,543.0 L888.9,544.5 L891.7,546.1 L894.4,547.7 L897.1,549.4 L899.7,551.2 L902.3,553.0 L904.9,554.9 L907.4,556.8 L909.8,558.8 L912.3,560.9 L914.6,563.0 L917.0,565.1 L919.2,567.3 L921.5,569.6 L923.7,571.9 L925.8,574.3 L927.8,576.7 L929.9,579.1 L931.8,581.6 L933.7,584.1 L935.6,586.7 L937.3,589.4 L939.0,592.0 L940.7,594.7 L942.3,597.5 L943.8,600.2 L945.3,603.1 L946.6,605.9 L947.9,608.8 L949.2,611.7 L950.4,614.7 L951.5,617.7 L952.5,620.7 L953.4,623.7 L954.3,626.8 L955.1,629.9 L955.8,633.0 L956.4,636.1 L956.9,639.3 L957.4,642.5 L957.7,645.7 L958.0,648.9 L958.2,652.2 L958.3,655.4 L965.0,655.8" class="ln"/>
<path d="M679.3,630.7 L684.3,631.3 L685.3,627.9 L686.4,624.5 L687.6,621.1 L688.8,617.9 L690.1,614.7 L691.5,611.6 L693.0,608.5 L694.5,605.6 L696.2,602.7 L697.8,599.8 L699.6,597.0 L701.4,594.3 L703.3,591.7 L705.2,589.1 L707.2,586.6 L709.3,584.2 L711.4,581.8 L713.6,579.5 L715.8,577.3 L718.1,575.1 L720.5,573.0 L722.9,571.0 L725.3,569.0 L727.8,567.1 L730.3,565.3 L732.9,563.6 L735.6,561.9 L738.2,560.2 L740.9,558.7 L743.7,557.2 L746.5,555.7 L749.3,554.4 L752.1,553.1 L755.0,551.9 L757.9,550.7 L760.9,549.6 L763.8,548.6 L766.8,547.6 L769.9,546.7 L772.9,545.9 L776.0,545.1 L779.0,544.4 L782.2,543.8 L785.3,543.2 L788.4,542.7 L791.6,542.2 L794.7,541.9 L797.9,541.5 L801.1,541.3 L804.3,541.1 L807.4,541.0 L810.6,540.9 L813.8,540.9 L817.0,541.0 L820.3,541.2 L823.4,541.4 L826.6,541.6 L829.8,542.0 L833.0,542.4 L836.2,542.8 L839.4,543.3 L842.5,543.9 L845.7,544.6 L848.8,545.3 L851.9,546.1 L855.0,546.9 L858.1,547.8 L861.1,548.8 L864.2,549.8 L867.2,550.9 L870.1,552.1 L873.1,553.3 L876.0,554.6 L878.9,555.9 L881.8,557.3 L884.6,558.7 L887.5,560.3 L890.2,561.8 L893.0,563.5 L895.7,565.1 L898.3,566.9 L900.9,568.7 L903.5,570.5 L906.0,572.4 L908.5,574.4 L911.0,576.4 L913.4,578.5 L915.7,580.6 L918.0,582.8 L920.3,585.0 L922.4,587.3 L924.6,589.6 L926.7,592.0 L928.7,594.4 L930.7,596.8 L932.6,599.4 L934.4,601.9 L936.2,604.5 L937.9,607.2 L939.6,609.9 L941.1,612.6 L942.7,615.4 L944.1,618.3 L945.5,621.2 L946.8,624.1 L948.0,627.0 L949.2,630.0 L950.2,633.1 L951.2,636.2 L952.2,639.3 L953.0,642.5 L953.8,645.7 L954.4,648.9 L955.0,652.2 L955.5,655.5 L955.9,658.9 L956.3,662.3 L956.5,665.7 L956.6,669.2 L963.6,670.3" class="ln"/>
<path d="M678.3,641.7 L683.7,642.0 L685.0,639.1 L686.3,636.3 L687.8,633.7 L689.3,631.2 L691.0,628.8 L692.7,626.6 L694.4,624.4 L696.3,622.3 L698.2,620.4 L700.2,618.5 L702.2,616.8 L704.3,615.1 L706.5,613.6 L708.7,612.1 L711.0,610.7 L713.3,609.4 L715.7,608.2 L718.1,607.1 L720.5,606.0 L723.0,605.1 L725.6,604.2 L728.2,603.3 L730.8,602.5 L733.4,601.8 L736.1,601.2 L738.8,600.6 L741.5,600.1 L744.3,599.6 L747.1,599.1 L749.9,598.8 L752.7,598.4 L755.5,598.1 L758.3,597.8 L761.1,597.6 L764.0,597.4 L766.8,597.2 L769.6,597.1 L772.5,597.0 L775.3,596.9 L778.1,596.8 L781.0,596.8 L783.8,596.8 L786.6,596.8 L789.5,596.9 L792.3,597.0 L795.1,597.1 L798.0,597.2 L800.8,597.4 L803.6,597.6 L806.4,597.8 L809.2,598.1 L812.0,598.3 L814.8,598.7 L817.6,599.0 L820.4,599.4 L823.2,599.8 L826.0,600.2 L828.8,600.6 L831.6,601.1 L834.3,601.7 L837.1,602.2 L839.8,602.8 L842.6,603.4 L845.3,604.0 L848.0,604.7 L850.8,605.4 L853.5,606.1 L856.2,606.9 L858.9,607.7 L861.6,608.5 L864.3,609.3 L866.9,610.2 L869.6,611.1 L872.3,612.1 L874.9,613.1 L877.5,614.1 L880.1,615.1 L882.8,616.2 L885.4,617.3 L887.9,618.4 L890.5,619.6 L893.1,620.8 L895.6,622.0 L898.2,623.3 L900.7,624.6 L903.2,625.9 L905.7,627.3 L908.2,628.7 L910.6,630.1 L913.0,631.6 L915.4,633.1 L917.8,634.7 L920.1,636.2 L922.3,637.9 L924.5,639.6 L926.7,641.3 L928.8,643.1 L930.8,644.9 L932.8,646.8 L934.7,648.7 L936.5,650.7 L938.2,652.7 L939.9,654.8 L941.5,657.0 L943.0,659.2 L944.4,661.5 L945.7,663.8 L946.9,666.2 L948.0,668.7 L949.0,671.2 L949.9,673.8 L950.6,676.4 L951.3,679.1 L951.8,681.9 L952.2,684.8 L952.4,687.7 L952.5,690.8 L952.5,693.8 L952.4,697.0 L956.4,698.5" class="ln"/>
<path d="M678.9,663.1 L685.2,662.5 L686.0,660.7 L687.5,659.9 L689.3,659.8 L691.0,660.3 L692.5,661.2 L693.9,662.3 L695.3,663.6 L696.6,664.9 L697.9,666.3 L699.3,667.6 L700.6,668.9 L702.0,670.2 L703.4,671.5 L704.7,672.7 L706.1,673.9 L707.5,675.1 L708.9,676.3 L710.4,677.5 L711.8,678.6 L713.2,679.7 L714.7,680.8 L716.1,681.9 L717.6,682.9 L719.1,684.0 L720.6,685.0 L722.1,686.0 L723.6,687.0 L725.1,688.0 L726.6,688.9 L728.2,689.9 L729.7,690.8 L731.2,691.7 L732.8,692.6 L734.4,693.5 L735.9,694.3 L737.5,695.2 L739.1,696.0 L740.7,696.8 L742.3,697.6 L743.9,698.4 L745.5,699.2 L747.2,699.9 L748.8,700.7 L750.4,701.4 L752.1,702.2 L753.7,702.9 L755.4,703.6 L757.0,704.3 L758.7,704.9 L760.4,705.6 L762.1,706.2 L763.7,706.9 L765.4,707.5 L767.1,708.1 L768.8,708.7 L770.5,709.3 L772.3,709.9 L774.0,710.4 L775.7,711.0 L777.4,711.5 L779.2,712.0 L780.9,712.5 L782.6,713.0 L784.4,713.5 L786.1,714.0 L787.9,714.4 L789.6,714.9 L791.4,715.3 L793.2,715.7 L794.9,716.1 L796.7,716.5 L798.5,716.9 L800.3,717.2 L802.0,717.6 L803.8,717.9 L805.6,718.2 L807.4,718.5 L809.2,718.8 L811.0,719.1 L812.8,719.4 L814.6,719.6 L816.4,719.9 L818.2,720.1 L820.0,720.3 L821.8,720.5 L823.6,720.7 L825.4,720.9 L827.2,721.0 L829.0,721.2 L830.9,721.3 L832.7,721.4 L834.5,721.6 L836.3,721.6 L838.1,721.7 L839.9,721.8 L841.8,721.8 L843.6,721.9 L845.4,721.9 L847.2,721.9 L849.0,721.9 L850.9,721.9 L852.7,721.8 L854.5,721.8 L856.3,721.7 L858.1,721.6 L860.0,721.6 L861.8,721.4 L863.6,721.3 L865.4,721.2 L867.2,721.0 L869.0,720.8 L870.8,720.6 L872.6,720.4 L874.4,720.2 L876.2,719.9 L877.9,719.6 L879.7,719.3 L881.5,719.0 L883.2,718.7 L885.0,718.3 L886.7,717.9 L888.5,717.5 L890.2,717.1 L892.0,716.6 L893.7,716.2 L895.4,715.7 L897.1,715.1 L898.8,714.6 L900.5,714.0 L902.2,713.5 L903.8,712.9 L905.5,712.3 L907.2,711.6 L908.9,711.0 L910.6,710.4 L912.3,709.8 L914.0,709.1 L915.7,708.5 L917.4,707.9 L919.2,707.3 L920.9,706.7 L922.7,706.2 L924.5,705.6 L926.3,705.1 L928.1,704.6 L929.9,704.1 L931.8,703.6 L933.7,703.2 L935.6,702.8 L937.5,702.5 L939.4,702.3 L941.1,702.3 L942.6,702.7 L943.7,703.4 L944.4,704.7 L944.6,706.6 L944.4,708.7 L943.8,710.7 L943.0,712.0 L949.1,715.2" class="ln"/>
<path d="M681.8,680.9 L689.1,679.2 L690.5,681.9 L692.0,684.5 L693.4,687.0 L695.0,689.5 L696.6,692.0 L698.2,694.4 L699.9,696.9 L701.6,699.2 L703.4,701.5 L705.2,703.8 L707.0,706.1 L708.9,708.3 L710.9,710.5 L712.8,712.6 L714.9,714.7 L716.9,716.7 L719.0,718.7 L721.1,720.7 L723.3,722.6 L725.5,724.5 L727.7,726.3 L730.0,728.1 L732.3,729.9 L734.6,731.6 L737.0,733.2 L739.4,734.8 L741.8,736.4 L744.3,737.9 L746.7,739.4 L749.2,740.8 L751.8,742.2 L754.3,743.6 L756.9,744.8 L759.5,746.1 L762.1,747.3 L764.7,748.4 L767.4,749.5 L770.1,750.6 L772.7,751.6 L775.5,752.5 L778.2,753.4 L780.9,754.3 L783.7,755.1 L786.4,755.9 L789.2,756.6 L792.0,757.2 L794.8,757.8 L797.6,758.3 L800.4,758.8 L803.3,759.3 L806.1,759.7 L808.9,760.0 L811.8,760.3 L814.6,760.5 L817.5,760.7 L820.4,760.8 L823.2,760.9 L826.1,760.9 L828.9,760.8 L831.8,760.7 L834.6,760.6 L837.5,760.4 L840.4,760.1 L843.2,759.8 L846.0,759.4 L848.9,759.0 L851.7,758.6 L854.6,758.1 L857.4,757.5 L860.2,756.9 L863.0,756.3 L865.8,755.6 L868.6,754.8 L871.4,754.1 L874.1,753.2 L876.9,752.3 L879.7,751.4 L882.4,750.5 L885.1,749.5 L887.8,748.4 L890.5,747.3 L893.2,746.2 L895.8,745.0 L898.5,743.8 L901.1,742.6 L903.7,741.3 L906.3,740.0 L908.9,738.6 L911.4,737.2 L914.0,735.8 L916.5,734.3 L919.0,732.8 L921.4,731.3 L923.9,729.7 L926.3,728.1 L928.7,726.4 L931.1,724.8 L933.4,723.0 L935.7,721.3 L942.9,725.9" class="ln"/>
<path d="M690.4,706.9 L697.0,704.0 L698.4,706.3 L699.9,708.5 L701.4,710.7 L702.9,712.8 L704.5,715.0 L706.1,717.0 L707.7,719.1 L709.4,721.1 L711.1,723.1 L712.8,725.0 L714.6,726.9 L716.4,728.7 L718.2,730.6 L720.1,732.3 L722.0,734.1 L723.9,735.8 L725.9,737.5 L727.9,739.1 L729.9,740.7 L731.9,742.2 L734.0,743.7 L736.1,745.2 L738.2,746.7 L740.3,748.1 L742.5,749.4 L744.6,750.8 L746.9,752.0 L749.1,753.3 L751.3,754.5 L753.6,755.7 L755.9,756.8 L758.2,757.9 L760.5,759.0 L762.9,760.0 L765.2,761.0 L767.6,761.9 L770.0,762.8 L772.4,763.7 L774.8,764.5 L777.2,765.3 L779.7,766.0 L782.1,766.7 L784.6,767.4 L787.1,768.0 L789.6,768.6 L792.1,769.1 L794.6,769.6 L797.1,770.1 L799.6,770.5 L802.2,770.9 L804.7,771.2 L807.2,771.5 L809.8,771.8 L812.4,772.0 L814.9,772.2 L817.5,772.3 L820.0,772.4 L822.6,772.5 L825.2,772.5 L827.7,772.5 L830.3,772.4 L832.8,772.3 L835.4,772.2 L838.0,772.0 L840.5,771.8 L843.1,771.5 L845.6,771.2 L848.2,770.9 L850.7,770.5 L853.2,770.0 L855.7,769.6 L858.3,769.0 L860.8,768.5 L863.3,767.9 L865.7,767.2 L868.2,766.6 L870.7,765.8 L873.1,765.1 L875.6,764.2 L878.0,763.4 L880.4,762.5 L882.8,761.6 L885.2,760.6 L887.6,759.6 L889.9,758.5 L892.3,757.4 L894.6,756.2 L896.9,755.0 L899.2,753.8 L901.4,752.5 L903.7,751.2 L905.9,749.8 L908.1,748.4 L910.3,747.0 L912.4,745.5 L914.5,744.0 L916.6,742.4 L918.7,740.8 L920.8,739.1 L928.0,745.7" class="ln"/>
<path d="M690.4,706.9 L696.4,704.3 L697.7,706.6 L699.0,708.9 L700.4,711.2 L701.8,713.5 L703.2,715.7 L704.7,717.8 L706.2,720.0 L707.8,722.1 L709.4,724.2 L711.0,726.2 L712.7,728.2 L714.4,730.2 L716.2,732.2 L718.0,734.1 L719.8,736.0 L721.7,737.8 L723.5,739.6 L725.5,741.4 L727.4,743.1 L729.4,744.8 L731.4,746.5 L733.5,748.1 L735.6,749.7 L737.7,751.2 L739.9,752.8 L742.0,754.2 L744.2,755.7 L746.5,757.1 L748.7,758.4 L751.0,759.7 L753.3,761.0 L755.7,762.3 L758.0,763.4 L760.4,764.6 L762.8,765.7 L765.3,766.8 L767.7,767.8 L770.2,768.8 L772.7,769.7 L775.2,770.6 L777.7,771.4 L780.3,772.2 L782.9,773.0 L785.4,773.7 L788.0,774.4 L790.6,775.0 L793.3,775.6 L795.9,776.1 L798.5,776.5 L801.2,777.0 L803.9,777.4 L806.5,777.7 L809.2,778.0 L811.9,778.2 L814.6,778.4 L817.3,778.5 L819.9,778.6 L822.6,778.6 L825.3,778.6 L828.0,778.6 L830.7,778.5 L833.4,778.3 L836.1,778.1 L838.7,777.9 L841.4,777.6 L844.1,777.2 L846.7,776.8 L849.3,776.4 L852.0,775.9 L854.6,775.3 L857.2,774.8 L859.8,774.1 L862.4,773.4 L864.9,772.7 L867.5,771.9 L870.0,771.1 L872.5,770.3 L875.0,769.3 L877.5,768.4 L880.0,767.4 L882.4,766.3 L884.8,765.3 L887.2,764.1 L889.6,763.0 L891.9,761.7 L894.3,760.5 L896.6,759.2 L898.8,757.8 L901.1,756.4 L903.3,755.0 L905.5,753.5 L907.7,752.0 L909.8,750.5 L911.9,748.9 L914.0,747.2 L916.1,745.5 L918.1,743.8 L920.1,742.1 L922.1,740.3 L928.0,745.7" class="ln"/>
<path d="M690.4,706.9 L696.1,704.4 L697.3,706.8 L698.5,709.2 L699.8,711.5 L701.2,713.8 L702.6,716.0 L704.0,718.3 L705.5,720.5 L707.0,722.6 L708.5,724.8 L710.1,726.9 L711.8,728.9 L713.4,731.0 L715.1,733.0 L716.9,735.0 L718.7,736.9 L720.5,738.8 L722.4,740.7 L724.3,742.6 L726.2,744.4 L728.2,746.1 L730.2,747.9 L732.2,749.6 L734.3,751.2 L736.4,752.9 L738.5,754.5 L740.7,756.0 L742.9,757.5 L745.1,759.0 L747.4,760.4 L749.7,761.8 L752.0,763.2 L754.4,764.5 L756.8,765.7 L759.2,767.0 L761.6,768.1 L764.1,769.3 L766.6,770.4 L769.1,771.4 L771.6,772.4 L774.2,773.3 L776.7,774.2 L779.3,775.1 L782.0,775.9 L784.6,776.6 L787.2,777.3 L789.9,778.0 L792.6,778.6 L795.3,779.1 L798.0,779.6 L800.7,780.1 L803.4,780.5 L806.2,780.8 L808.9,781.1 L811.6,781.4 L814.4,781.6 L817.1,781.7 L819.9,781.8 L822.7,781.8 L825.4,781.8 L828.2,781.7 L830.9,781.6 L833.7,781.4 L836.4,781.2 L839.1,780.9 L841.9,780.5 L844.6,780.1 L847.3,779.7 L850.0,779.2 L852.6,778.7 L855.3,778.1 L858.0,777.4 L860.6,776.7 L863.2,776.0 L865.8,775.2 L868.4,774.4 L870.9,773.5 L873.5,772.5 L876.0,771.5 L878.5,770.5 L881.0,769.4 L883.4,768.3 L885.9,767.2 L888.3,765.9 L890.6,764.7 L893.0,763.4 L895.3,762.0 L897.6,760.7 L899.8,759.2 L902.1,757.8 L904.3,756.3 L906.5,754.7 L908.6,753.1 L910.7,751.5 L912.8,749.8 L914.8,748.1 L916.9,746.3 L918.8,744.6 L920.8,742.7 L922.7,740.9 L928.0,745.7" class="ln"/>
<path d="M690.4,706.9 L695.8,704.5 L697.0,707.0 L698.2,709.3 L699.4,711.7 L700.7,714.0 L702.1,716.3 L703.5,718.6 L704.9,720.8 L706.4,723.0 L707.9,725.2 L709.4,727.4 L711.0,729.5 L712.7,731.6 L714.3,733.6 L716.1,735.7 L717.8,737.7 L719.6,739.6 L721.5,741.6 L723.3,743.5 L725.2,745.3 L727.2,747.1 L729.2,748.9 L731.2,750.7 L733.3,752.4 L735.4,754.1 L737.5,755.8 L739.7,757.4 L741.9,758.9 L744.1,760.5 L746.4,762.0 L748.7,763.4 L751.0,764.8 L753.4,766.2 L755.8,767.5 L758.2,768.8 L760.7,770.0 L763.2,771.2 L765.7,772.3 L768.2,773.4 L770.8,774.4 L773.4,775.4 L776.0,776.4 L778.6,777.2 L781.3,778.1 L783.9,778.9 L786.6,779.6 L789.3,780.3 L792.1,780.9 L794.8,781.5 L797.6,782.0 L800.3,782.5 L803.1,782.9 L805.9,783.2 L808.7,783.5 L811.5,783.8 L814.3,784.0 L817.1,784.1 L819.9,784.2 L822.7,784.2 L825.5,784.2 L828.3,784.1 L831.1,783.9 L833.9,783.7 L836.7,783.5 L839.4,783.2 L842.2,782.8 L845.0,782.4 L847.7,781.9 L850.4,781.4 L853.1,780.8 L855.8,780.1 L858.5,779.4 L861.2,778.7 L863.8,777.9 L866.5,777.1 L869.1,776.2 L871.7,775.2 L874.2,774.3 L876.7,773.2 L879.3,772.1 L881.7,771.0 L884.2,769.8 L886.6,768.6 L889.0,767.3 L891.4,766.0 L893.8,764.7 L896.1,763.3 L898.4,761.8 L900.6,760.3 L902.8,758.8 L905.0,757.2 L907.2,755.6 L909.3,754.0 L911.4,752.3 L913.5,750.5 L915.5,748.8 L917.5,747.0 L919.4,745.1 L921.3,743.2 L923.2,741.3 L928.0,745.7" class="ln"/>
<path d="M690.4,706.9 L695.6,704.6 L696.7,707.1 L697.9,709.5 L699.1,711.8 L700.4,714.2 L701.7,716.5 L703.1,718.8 L704.5,721.1 L705.9,723.3 L707.4,725.5 L708.9,727.7 L710.5,729.9 L712.1,732.0 L713.8,734.1 L715.4,736.2 L717.2,738.2 L719.0,740.2 L720.8,742.2 L722.6,744.1 L724.5,746.0 L726.5,747.9 L728.4,749.7 L730.5,751.5 L732.5,753.3 L734.6,755.0 L736.7,756.7 L738.9,758.4 L741.1,760.0 L743.3,761.6 L745.6,763.1 L747.9,764.6 L750.3,766.0 L752.6,767.4 L755.1,768.8 L757.5,770.1 L760.0,771.4 L762.5,772.6 L765.0,773.8 L767.6,774.9 L770.2,776.0 L772.8,777.0 L775.4,778.0 L778.1,778.9 L780.7,779.7 L783.5,780.5 L786.2,781.3 L788.9,782.0 L791.7,782.7 L794.4,783.2 L797.2,783.8 L800.0,784.3 L802.8,784.7 L805.7,785.0 L808.5,785.3 L811.3,785.6 L814.2,785.8 L817.0,785.9 L819.8,786.0 L822.7,786.0 L825.5,786.0 L828.4,785.9 L831.2,785.7 L834.0,785.5 L836.8,785.2 L839.7,784.9 L842.5,784.5 L845.2,784.0 L848.0,783.5 L850.8,783.0 L853.5,782.4 L856.2,781.7 L859.0,781.0 L861.6,780.2 L864.3,779.4 L867.0,778.5 L869.6,777.6 L872.2,776.6 L874.8,775.6 L877.3,774.5 L879.8,773.3 L882.3,772.2 L884.8,770.9 L887.2,769.7 L889.6,768.4 L892.0,767.0 L894.3,765.6 L896.7,764.2 L898.9,762.7 L901.2,761.1 L903.4,759.6 L905.6,757.9 L907.7,756.3 L909.8,754.6 L911.9,752.9 L913.9,751.1 L915.9,749.3 L917.9,747.4 L919.8,745.5 L921.7,743.6 L923.6,741.7 L928.0,745.7" class="ln"/>
<path d="M690.4,706.9 L695.5,704.7 L696.6,707.1 L697.8,709.5 L699.0,711.9 L700.2,714.3 L701.5,716.6 L702.8,718.9 L704.2,721.2 L705.6,723.5 L707.1,725.7 L708.6,727.9 L710.2,730.1 L711.8,732.3 L713.4,734.4 L715.1,736.5 L716.8,738.5 L718.6,740.6 L720.4,742.6 L722.2,744.5 L724.1,746.4 L726.0,748.3 L728.0,750.2 L730.0,752.0 L732.1,753.8 L734.2,755.6 L736.3,757.3 L738.4,759.0 L740.7,760.6 L742.9,762.2 L745.2,763.8 L747.5,765.3 L749.8,766.8 L752.2,768.2 L754.6,769.6 L757.1,770.9 L759.6,772.2 L762.1,773.4 L764.6,774.6 L767.2,775.8 L769.8,776.9 L772.4,777.9 L775.1,778.9 L777.7,779.8 L780.4,780.7 L783.2,781.5 L785.9,782.3 L788.7,783.0 L791.4,783.7 L794.2,784.3 L797.0,784.8 L799.9,785.3 L802.7,785.7 L805.5,786.1 L808.4,786.4 L811.2,786.6 L814.1,786.8 L817.0,787.0 L819.8,787.0 L822.7,787.0 L825.6,787.0 L828.4,786.9 L831.3,786.7 L834.1,786.5 L837.0,786.2 L839.8,785.9 L842.6,785.5 L845.4,785.0 L848.2,784.5 L851.0,783.9 L853.7,783.3 L856.5,782.6 L859.2,781.9 L861.9,781.1 L864.6,780.2 L867.2,779.3 L869.9,778.4 L872.5,777.4 L875.1,776.3 L877.6,775.2 L880.2,774.1 L882.7,772.9 L885.1,771.6 L887.6,770.3 L890.0,769.0 L892.3,767.6 L894.7,766.2 L897.0,764.7 L899.3,763.2 L901.5,761.6 L903.7,760.0 L905.9,758.4 L908.0,756.7 L910.1,755.0 L912.2,753.2 L914.2,751.4 L916.2,749.6 L918.2,747.7 L920.1,745.8 L922.0,743.8 L923.8,741.9 L928.0,745.7" class="ln"/>
<path d="M962.5,648.6 L962.4,651.1 L962.4,653.5 L962.3,656.0 L962.1,658.5 L961.9,660.9 L961.7,663.4 L961.4,665.9 L961.1,668.3 L960.7,670.8 L960.3,673.2 L959.9,675.6 L959.4,678.1 L958.9,680.5 L958.3,682.9 L957.7,685.3 L957.0,687.7 L956.3,690.0 L955.6,692.4 L954.8,694.7 L954.0,697.1 L953.1,699.4 L952.2,701.7 L951.3,704.0 L950.3,706.2 L949.3,708.5 L948.2,710.7 L947.1,712.9 L946.0,715.1 L944.8,717.3 L943.6,719.4 L942.4,721.6 L941.1,723.7 L939.8,725.8 L938.4,727.8 L937.0,729.9 L935.6,731.9 L934.1,733.9 L932.6,735.8 L931.1,737.8 L929.5,739.7 L927.9,741.5 L926.3,743.4 L924.6,745.2 L923.0,747.0 L921.2,748.8 L919.5,750.5 L917.7,752.2 L915.9,753.9 L914.0,755.5 L912.2,757.1 L910.3,758.7 L908.4,760.2 L906.4,761.7 L904.4,763.2 L902.4,764.7 L900.4,766.1 L898.4,767.4 L896.3,768.7 L894.2,770.0 L892.1,771.3 L889.9,772.5 L887.8,773.7 L885.6,774.8 L883.4,775.9 L881.2,777.0 L879.0,778.0 L876.7,779.0 L874.4,780.0 L872.1,780.9 L869.8,781.7 L867.5,782.6 L865.2,783.3 L862.9,784.1 L860.5,784.8 L858.1,785.5 L855.8,786.1 L853.4,786.6 L851.0,787.2 L848.6,787.7 L846.1,788.1 L843.7,788.5 L841.3,788.9 L838.9,789.2 L836.4,789.5 L834.0,789.7 L831.5,789.9 L829.1,790.1 L826.6,790.2 L824.2,790.3 L821.7,790.3 L819.2,790.3 L816.8,790.2 L814.3,790.1 L811.9,789.9 L809.4,789.7 L807.0,789.5 L804.5,789.2 L802.1,788.9 L799.7,788.5 L797.3,788.1 L794.8,787.7 L792.4,787.2 L790.0,786.6 L787.6,786.1 L785.3,785.5 L782.9,784.8 L780.5,784.1 L778.2,783.3 L775.9,782.6 L773.6,781.7 L771.3,780.9 L769.0,780.0 L766.7,779.0 L764.4,778.0 L762.2,777.0 L760.0,775.9 L757.8,774.8 L755.6,773.7 L753.5,772.5 L751.3,771.3 L749.2,770.0 L747.1,768.7 L745.0,767.4 L743.0,766.1 L741.0,764.7 L739.0,763.2 L737.0,761.7 L735.0,760.2 L733.1,758.7 L731.2,757.1 L729.4,755.5 L727.5,753.9 L725.7,752.2 L723.9,750.5 L722.2,748.8 L720.4,747.0 L718.8,745.2 L717.1,743.4 L715.5,741.5 L713.9,739.7 L712.3,737.8 L710.8,735.8 L709.3,733.9 L707.8,731.9 L706.4,729.9 L705.0,727.8 L703.6,725.8 L702.3,723.7 L701.0,721.6 L699.8,719.4 L698.6,717.3 L697.4,715.1 L696.3,712.9 L695.2,710.7 L694.1,708.5 L693.1,706.2 L692.1,704.0 L691.2,701.7 L690.3,699.4 L689.4,697.1 L688.6,694.7 L687.8,692.4 L687.1,690.0 L686.4,687.7 L685.7,685.3 L685.1,682.9 L684.5,680.5 L684.0,678.1 L683.5,675.6 L683.1,673.2 L682.7,670.8 L682.3,668.3 L682.0,665.9 L681.7,663.4 L681.5,660.9 L681.3,658.5 L681.1,656.0 L681.0,653.5 L681.0,651.1 L680.9,648.6 L681.0,646.1 L681.0,643.7 L681.1,641.2 L681.3,638.7 L681.5,636.3 L681.7,633.8 L682.0,631.3 L682.3,628.9 L682.7,626.4 L683.1,624.0 L683.5,621.6 L684.0,619.1 L684.5,616.7 L685.1,614.3 L685.7,611.9 L686.4,609.5 L687.1,607.2 L687.8,604.8 L688.6,602.5 L689.4,600.1 L690.3,597.8 L691.2,595.5 L692.1,593.2 L693.1,591.0 L694.1,588.7 L695.2,586.5 L696.3,584.3 L697.4,582.1 L698.6,579.9 L699.8,577.8 L701.0,575.6 L702.3,573.5 L703.6,571.4 L705.0,569.4 L706.4,567.3 L707.8,565.3 L709.3,563.3 L710.8,561.4 L712.3,559.4 L713.9,557.5 L715.5,555.7 L717.1,553.8 L718.8,552.0 L720.4,550.2 L722.2,548.4 L723.9,546.7 L725.7,545.0 L727.5,543.3 L729.4,541.7 L731.2,540.1 L733.1,538.5 L735.0,537.0 L737.0,535.5 L739.0,534.0 L741.0,532.5 L743.0,531.1 L745.0,529.8 L747.1,528.5 L749.2,527.2 L751.3,525.9 L753.5,524.7 L755.6,523.5 L757.8,522.4 L760.0,521.3 L762.2,520.2 L764.4,519.2 L766.7,518.2 L769.0,517.2 L771.3,516.3 L773.6,515.5 L775.9,514.6 L778.2,513.9 L780.5,513.1 L782.9,512.4 L785.3,511.7 L787.6,511.1 L790.0,510.6 L792.4,510.0 L794.8,509.5 L797.3,509.1 L799.7,508.7 L802.1,508.3 L804.5,508.0 L807.0,507.7 L809.4,507.5 L811.9,507.3 L814.3,507.1 L816.8,507.0 L819.2,506.9 L821.7,506.9 L824.2,506.9 L826.6,507.0 L829.1,507.1 L831.5,507.3 L834.0,507.5 L836.4,507.7 L838.9,508.0 L841.3,508.3 L843.7,508.7 L846.1,509.1 L848.6,509.5 L851.0,510.0 L853.4,510.6 L855.8,511.1 L858.1,511.7 L860.5,512.4 L862.9,513.1 L865.2,513.9 L867.5,514.6 L869.8,515.5 L872.1,516.3 L874.4,517.2 L876.7,518.2 L879.0,519.2 L881.2,520.2 L883.4,521.3 L885.6,522.4 L887.8,523.5 L889.9,524.7 L892.1,525.9 L894.2,527.2 L896.3,528.5 L898.4,529.8 L900.4,531.1 L902.4,532.5 L904.4,534.0 L906.4,535.5 L908.4,537.0 L910.3,538.5 L912.2,540.1 L914.0,541.7 L915.9,543.3 L917.7,545.0 L919.5,546.7 L921.2,548.4 L923.0,550.2 L924.6,552.0 L926.3,553.8 L927.9,555.7 L929.5,557.5 L931.1,559.4 L932.6,561.4 L934.1,563.3 L935.6,565.3 L937.0,567.3 L938.4,569.4 L939.8,571.4 L941.1,573.5 L942.4,575.6 L943.6,577.8 L944.8,579.9 L946.0,582.1 L947.1,584.3 L948.2,586.5 L949.3,588.7 L950.3,591.0 L951.3,593.2 L952.2,595.5 L953.1,597.8 L954.0,600.1 L954.8,602.5 L955.6,604.8 L956.3,607.2 L957.0,609.5 L957.7,611.9 L958.3,614.3 L958.9,616.7 L959.4,619.1 L959.9,621.6 L960.3,624.0 L960.7,626.4 L961.1,628.9 L961.4,631.3 L961.7,633.8 L961.9,636.3 L962.1,638.7 L962.3,641.2 L962.4,643.7 L962.4,646.1 L962.5,648.6Z M958.1,648.6 L958.1,646.2 L958.0,643.8 L957.9,641.4 L957.8,639.0 L957.6,636.6 L957.4,634.2 L957.1,631.9 L956.8,629.5 L956.4,627.1 L956.0,624.8 L955.6,622.4 L955.1,620.1 L954.6,617.7 L954.0,615.4 L953.4,613.1 L952.8,610.8 L952.1,608.5 L951.4,606.2 L950.6,603.9 L949.8,601.7 L948.9,599.4 L948.1,597.2 L947.2,595.0 L946.2,592.8 L945.2,590.6 L944.2,588.5 L943.1,586.3 L942.0,584.2 L940.9,582.1 L939.7,580.0 L938.5,578.0 L937.3,575.9 L936.0,573.9 L934.7,571.9 L933.3,569.9 L931.9,568.0 L930.5,566.1 L929.1,564.2 L927.6,562.3 L926.1,560.5 L924.5,558.6 L922.9,556.9 L921.3,555.1 L919.7,553.4 L918.0,551.7 L916.3,550.0 L914.6,548.3 L912.8,546.7 L911.1,545.1 L909.3,543.6 L907.4,542.1 L905.6,540.6 L903.7,539.1 L901.8,537.7 L899.8,536.3 L897.9,534.9 L895.9,533.6 L893.9,532.3 L891.9,531.1 L889.8,529.9 L887.7,528.7 L885.6,527.6 L883.5,526.4 L881.4,525.4 L879.3,524.4 L877.1,523.4 L874.9,522.4 L872.7,521.5 L870.5,520.6 L868.3,519.8 L866.0,519.0 L863.8,518.2 L861.5,517.5 L859.2,516.8 L857.0,516.2 L854.7,515.6 L852.3,515.0 L850.0,514.5 L847.7,514.0 L845.4,513.6 L843.0,513.2 L840.7,512.8 L838.3,512.5 L835.9,512.3 L833.6,512.0 L831.2,511.8 L828.8,511.7 L826.5,511.6 L824.1,511.5 L821.7,511.5 L819.3,511.5 L816.9,511.6 L814.6,511.7 L812.2,511.8 L809.8,512.0 L807.5,512.3 L805.1,512.5 L802.7,512.8 L800.4,513.2 L798.0,513.6 L795.7,514.0 L793.4,514.5 L791.1,515.0 L788.7,515.6 L786.4,516.2 L784.2,516.8 L781.9,517.5 L779.6,518.2 L777.4,519.0 L775.1,519.8 L772.9,520.6 L770.7,521.5 L768.5,522.4 L766.3,523.4 L764.1,524.4 L762.0,525.4 L759.9,526.4 L757.8,527.6 L755.7,528.7 L753.6,529.9 L751.5,531.1 L749.5,532.3 L747.5,533.6 L745.5,534.9 L743.6,536.3 L741.6,537.7 L739.7,539.1 L737.8,540.6 L736.0,542.1 L734.1,543.6 L732.3,545.1 L730.6,546.7 L728.8,548.3 L727.1,550.0 L725.4,551.7 L723.7,553.4 L722.1,555.1 L720.5,556.9 L718.9,558.6 L717.3,560.5 L715.8,562.3 L714.3,564.2 L712.9,566.1 L711.5,568.0 L710.1,569.9 L708.7,571.9 L707.4,573.9 L706.1,575.9 L704.9,578.0 L703.7,580.0 L702.5,582.1 L701.4,584.2 L700.3,586.3 L699.2,588.5 L698.2,590.6 L697.2,592.8 L696.2,595.0 L695.3,597.2 L694.5,599.4 L693.6,601.7 L692.8,603.9 L692.0,606.2 L691.3,608.5 L690.6,610.8 L689.9,613.1 L689.3,615.4 L688.8,617.7 L688.2,620.0 L687.7,622.4 L687.3,624.7 L686.9,627.1 L686.5,629.5 L686.2,631.9 L685.9,634.2 L685.7,636.6 L685.5,639.0 L685.4,641.4 L685.3,643.8 L685.2,646.2 L685.2,648.6 L685.2,651.0 L685.3,653.4 L685.4,655.8 L685.5,658.2 L685.7,660.6 L686.1,662.9 L686.8,665.3 L687.5,667.6 L688.2,669.9 L688.9,672.2 L689.4,674.5 L689.9,676.8 L690.4,679.1 L691.0,681.4 L691.6,683.7 L692.3,686.0 L693.0,688.2 L693.7,690.5 L694.5,692.7 L695.3,694.9 L696.2,697.1 L697.0,699.3 L698.0,701.5 L698.9,703.6 L699.9,705.8 L701.0,707.9 L702.0,710.0 L703.1,712.0 L704.3,714.1 L705.5,716.1 L706.6,718.2 L707.9,720.2 L709.1,722.2 L710.4,724.2 L711.7,726.1 L713.0,728.1 L714.4,730.0 L715.8,731.8 L717.3,733.7 L718.8,735.5 L720.3,737.3 L721.8,739.1 L723.4,740.9 L725.0,742.6 L726.6,744.3 L728.3,746.0 L730.0,747.6 L731.7,749.2 L733.4,750.8 L735.2,752.3 L737.0,753.8 L738.9,755.3 L740.7,756.8 L742.6,758.2 L744.5,759.6 L746.4,760.9 L748.4,762.3 L750.3,763.6 L752.3,764.8 L754.3,766.0 L756.4,767.2 L758.4,768.4 L760.5,769.5 L762.6,770.5 L764.7,771.6 L766.9,772.6 L769.0,773.5 L771.2,774.5 L773.4,775.4 L775.6,776.2 L777.8,777.0 L780.0,777.8 L782.2,778.5 L784.5,779.2 L786.8,779.9 L789.0,780.5 L791.3,781.0 L793.6,781.6 L795.9,782.0 L798.2,782.5 L800.6,782.9 L802.9,783.3 L805.2,783.6 L807.6,783.9 L809.9,784.1 L812.3,784.3 L814.6,784.5 L817.0,784.6 L819.3,784.7 L821.7,784.7 L824.1,784.7 L826.4,784.6 L828.8,784.5 L831.1,784.3 L833.5,784.1 L835.8,783.9 L838.2,783.6 L840.5,783.3 L842.8,782.9 L845.2,782.5 L847.5,782.1 L849.8,781.6 L852.1,781.1 L854.4,780.5 L856.7,779.9 L858.9,779.3 L861.2,778.6 L863.4,777.9 L865.7,777.1 L867.9,776.3 L870.1,775.4 L872.3,774.6 L874.4,773.6 L876.6,772.7 L878.7,771.7 L880.8,770.7 L882.9,769.6 L885.0,768.5 L887.1,767.3 L889.1,766.1 L891.1,764.9 L893.1,763.7 L895.1,762.4 L897.1,761.1 L899.0,759.7 L900.9,758.3 L902.8,756.9 L904.6,755.5 L906.5,754.0 L908.3,752.5 L910.1,750.9 L911.8,749.3 L913.5,747.7 L915.2,746.1 L916.9,744.4 L918.5,742.7 L920.1,741.0 L921.7,739.3 L923.3,737.5 L924.8,735.7 L926.3,733.9 L927.8,732.0 L929.2,730.1 L930.6,728.2 L932.0,726.3 L933.3,724.4 L934.6,722.4 L935.9,720.4 L937.1,718.4 L938.3,716.3 L939.5,714.3 L940.7,712.3 L941.9,710.2 L943.0,708.2 L944.1,706.0 L945.2,703.9 L946.2,701.8 L947.2,699.6 L948.1,697.4 L949.1,695.3 L950.0,693.1 L951.0,690.9 L951.8,688.6 L952.7,686.4 L953.5,684.1 L954.1,681.8 L954.6,679.5 L955.1,677.1 L955.6,674.8 L956.0,672.4 L956.4,670.1 L956.8,667.7 L957.1,665.3 L957.4,663.0 L957.6,660.6 L957.8,658.2 L957.9,655.8 L958.0,653.4 L958.1,651.0 L958.1,648.6Z" fill="#000" fill-rule="evenodd"/>
</g>
<ellipse cx="821.7" cy="648.6" rx="137.4" ry="138.3" fill="none" stroke="#000" stroke-width="1.5" shape-rendering="crispEdges"/>
</g>
<g shape-rendering="crispEdges">
<rect x="684.5" y="510.5" width="275" height="276" fill="none" stroke="#000" stroke-width="1"/>
<rect x="720" y="511" width="1" height="3" fill="#000"/>
<rect x="720" y="783" width="1" height="3" fill="#000"/>
<rect x="797" y="511" width="1" height="3" fill="#000"/>
<rect x="797" y="783" width="1" height="3" fill="#000"/>
<rect x="875" y="511" width="1" height="3" fill="#000"/>
<rect x="875" y="783" width="1" height="3" fill="#000"/>
<rect x="952" y="511" width="1" height="3" fill="#000"/>
<rect x="952" y="783" width="1" height="3" fill="#000"/>
<rect x="685" y="586" width="3" height="1" fill="#000"/>
<rect x="956" y="586" width="3" height="1" fill="#000"/>
<rect x="685" y="663" width="3" height="1" fill="#000"/>
<rect x="956" y="663" width="3" height="1" fill="#000"/>
<rect x="685" y="740" width="3" height="1" fill="#000"/>
<rect x="956" y="740" width="3" height="1" fill="#000"/>
</g>
<g filter="url(#crisp)"><text transform="translate(720.5,817) scale(0.95,1.05)" class="t" text-anchor="middle">200</text></g>
<g filter="url(#crisp)"><text transform="translate(797.5,817) scale(0.95,1.05)" class="t" text-anchor="middle">300</text></g>
<g filter="url(#crisp)"><text transform="translate(875.5,817) scale(0.95,1.05)" class="t" text-anchor="middle">400</text></g>
<g filter="url(#crisp)"><text transform="translate(952.5,817) scale(0.95,1.05)" class="t" text-anchor="middle">500</text></g>
<g filter="url(#crisp)"><text transform="translate(678.5,597) scale(0.95,1.05)" class="t" text-anchor="end">300</text></g>
<g filter="url(#crisp)"><text transform="translate(678.5,674) scale(0.95,1.05)" class="t" text-anchor="end">200</text></g>
<g filter="url(#crisp)"><text transform="translate(678.5,751) scale(0.95,1.05)" class="t" text-anchor="end">100</text></g>
<g filter="url(#crisp)"><text x="821.3" y="493.5" class="t" text-anchor="middle" letter-spacing="0.28">Latitude 120 km</text></g>
<g shape-rendering="crispEdges">
<rect x="992" y="784" width="41" height="4" fill="#00008F"/>
<rect x="992" y="779" width="41" height="6" fill="#00009F"/>
<rect x="992" y="775" width="41" height="5" fill="#0000AF"/>
<rect x="992" y="771" width="41" height="5" fill="#0000BF"/>
<rect x="992" y="766" width="41" height="6" fill="#0000CF"/>
<rect x="992" y="762" width="41" height="5" fill="#0000DF"/>
<rect x="992" y="758" width="41" height="5" fill="#0000EF"/>
<rect x="992" y="754" width="41" height="5" fill="#0000FF"/>
<rect x="992" y="749" width="41" height="6" fill="#0010FF"/>
<rect x="992" y="745" width="41" height="5" fill="#0020FF"/>
<rect x="992" y="741" width="41" height="5" fill="#0030FF"/>
<rect x="992" y="736" width="41" height="6" fill="#0040FF"/>
<rect x="992" y="732" width="41" height="5" fill="#0050FF"/>
<rect x="992" y="728" width="41" height="5" fill="#0060FF"/>
<rect x="992" y="723" width="41" height="6" fill="#0070FF"/>
<rect x="992" y="719" width="41" height="5" fill="#0080FF"/>
<rect x="992" y="715" width="41" height="5" fill="#008FFF"/>
<rect x="992" y="710" width="41" height="6" fill="#009FFF"/>
<rect x="992" y="706" width="41" height="5" fill="#00AFFF"/>
<rect x="992" y="702" width="41" height="5" fill="#00BFFF"/>
<rect x="992" y="697" width="41" height="6" fill="#00CFFF"/>
<rect x="992" y="693" width="41" height="5" fill="#00DFFF"/>
<rect x="992" y="689" width="41" height="5" fill="#00EFFF"/>
<rect x="992" y="684" width="41" height="6" fill="#00FFFF"/>
<rect x="992" y="680" width="41" height="5" fill="#10FFEF"/>
<rect x="992" y="676" width="41" height="5" fill="#20FFDF"/>
<rect x="992" y="672" width="41" height="5" fill="#30FFCF"/>
<rect x="992" y="667" width="41" height="6" fill="#40FFBF"/>
<rect x="992" y="663" width="41" height="5" fill="#50FFAF"/>
<rect x="992" y="659" width="41" height="5" fill="#60FF9F"/>
<rect x="992" y="654" width="41" height="6" fill="#70FF8F"/>
<rect x="992" y="650" width="41" height="5" fill="#80FF80"/>
<rect x="992" y="646" width="41" height="5" fill="#8FFF70"/>
<rect x="992" y="641" width="41" height="6" fill="#9FFF60"/>
<rect x="992" y="637" width="41" height="5" fill="#AFFF50"/>
<rect x="992" y="633" width="41" height="5" fill="#BFFF40"/>
<rect x="992" y="628" width="41" height="6" fill="#CFFF30"/>
<rect x="992" y="624" width="41" height="5" fill="#DFFF20"/>
<rect x="992" y="620" width="41" height="5" fill="#EFFF10"/>
<rect x="992" y="616" width="41" height="5" fill="#FFFF00"/>
<rect x="992" y="611" width="41" height="6" fill="#FFEF00"/>
<rect x="992" y="607" width="41" height="5" fill="#FFDF00"/>
<rect x="992" y="603" width="41" height="5" fill="#FFCF00"/>
<rect x="992" y="598" width="41" height="6" fill="#FFBF00"/>
<rect x="992" y="594" width="41" height="5" fill="#FFAF00"/>
<rect x="992" y="590" width="41" height="5" fill="#FF9F00"/>
<rect x="992" y="585" width="41" height="6" fill="#FF8F00"/>
<rect x="992" y="581" width="41" height="5" fill="#FF8000"/>
<rect x="992" y="577" width="41" height="5" fill="#FF7000"/>
<rect x="992" y="572" width="41" height="6" fill="#FF6000"/>
<rect x="992" y="568" width="41" height="5" fill="#FF5000"/>
<rect x="992" y="564" width="41" height="5" fill="#FF4000"/>
<rect x="992" y="559" width="41" height="6" fill="#FF3000"/>
<rect x="992" y="555" width="41" height="5" fill="#FF2000"/>
<rect x="992" y="551" width="41" height="5" fill="#FF1000"/>
<rect x="992" y="546" width="41" height="6" fill="#FF0000"/>
<rect x="992" y="542" width="41" height="5" fill="#EF0000"/>
<rect x="992" y="538" width="41" height="5" fill="#DF0000"/>
<rect x="992" y="534" width="41" height="5" fill="#CF0000"/>
<rect x="992" y="529" width="41" height="6" fill="#BF0000"/>
<rect x="992" y="525" width="41" height="5" fill="#AF0000"/>
<rect x="992" y="521" width="41" height="5" fill="#9F0000"/>
<rect x="992" y="516" width="41" height="6" fill="#8F0000"/>
<rect x="992" y="512" width="41" height="5" fill="#800000"/>
<rect x="991.5" y="511.5" width="42" height="277" fill="none" stroke="#000" stroke-width="1"/>
<rect x="992" y="537" width="3" height="1" fill="#000"/>
<rect x="1030" y="537" width="3" height="1" fill="#000"/>
<rect x="992" y="603" width="3" height="1" fill="#000"/>
<rect x="1030" y="603" width="3" height="1" fill="#000"/>
<rect x="992" y="669" width="3" height="1" fill="#000"/>
<rect x="1030" y="669" width="3" height="1" fill="#000"/>
<rect x="992" y="735" width="3" height="1" fill="#000"/>
<rect x="1030" y="735" width="3" height="1" fill="#000"/>
</g>
<g filter="url(#crisp)"><text transform="translate(1039,548) scale(0.95,1.05)" class="t" text-anchor="start">75</text></g>
<g filter="url(#crisp)"><text transform="translate(1039,614) scale(0.95,1.05)" class="t" text-anchor="start">70</text></g>
<g filter="url(#crisp)"><text transform="translate(1039,680) scale(0.95,1.05)" class="t" text-anchor="start">65</text></g>
<g filter="url(#crisp)"><text transform="translate(1039,746) scale(0.95,1.05)" class="t" text-anchor="start">60</text></g>
</svg>
</body></html>
